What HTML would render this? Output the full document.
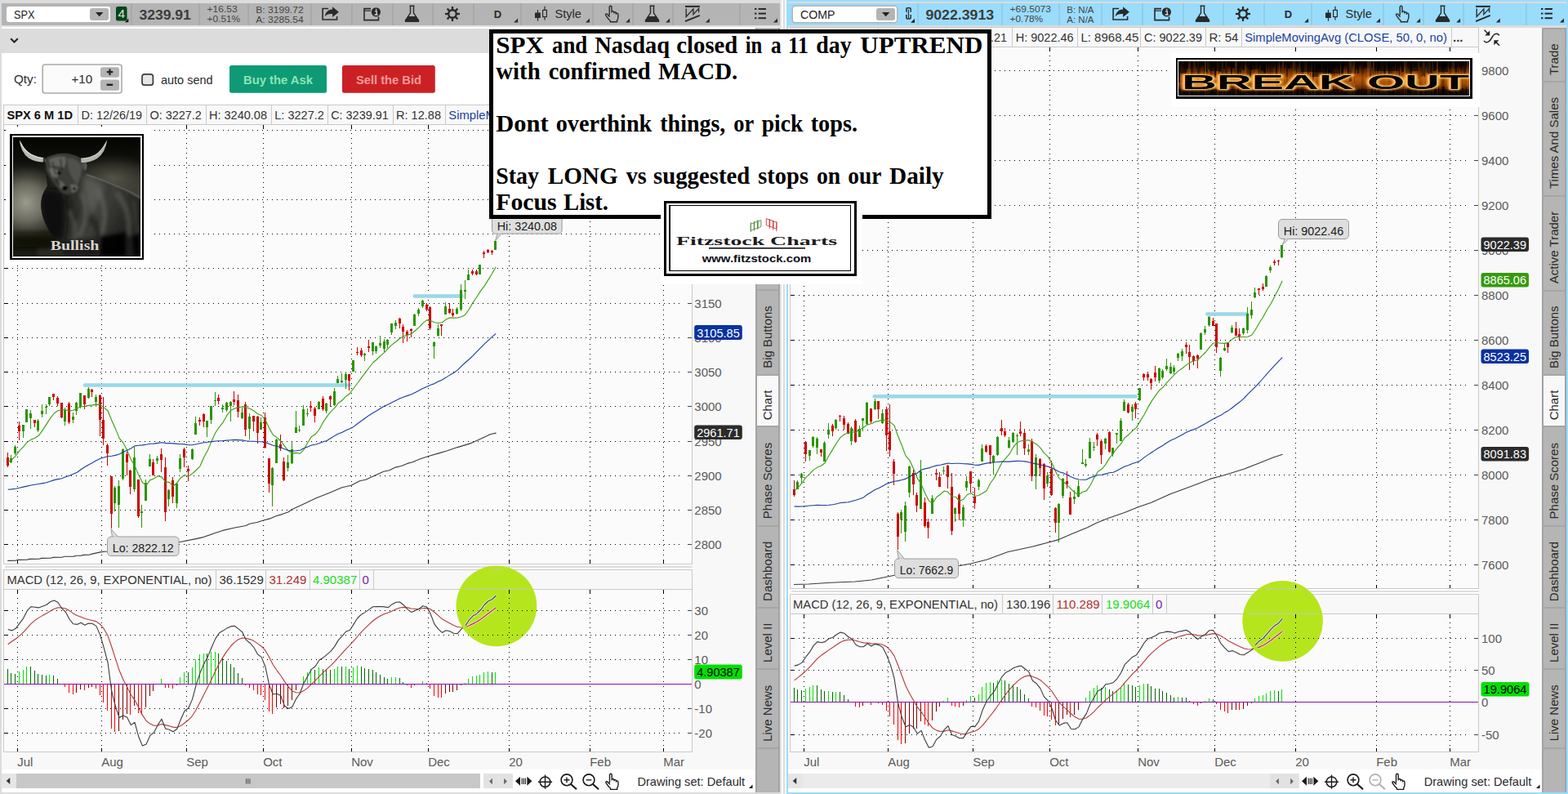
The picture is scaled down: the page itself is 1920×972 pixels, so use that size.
<!DOCTYPE html>
<html><head><meta charset="utf-8"><title>Charts</title>
<style>
html,body{margin:0;padding:0;background:#fff;overflow:hidden}
body{width:1920px;height:972px;position:relative;font-family:"Liberation Sans",sans-serif}
svg{position:absolute;left:0;top:0;display:block}
svg text{font-family:"Liberation Sans",sans-serif;white-space:pre}
.c{shape-rendering:crispEdges}
svg text.sf{font-family:"Liberation Serif",serif}
</style></head><body>
<svg width="1920" height="972" viewBox="0 0 1920 972">
<g class="c">
<rect x="0" y="0" width="1920" height="972" fill="#ffffff" />
<rect x="0" y="0" width="957" height="4" fill="#dcdcdc" />
<rect x="0" y="0" width="2" height="972" fill="#dcdcdc" />
<rect x="0" y="970" width="957" height="2" fill="#dcdcdc" />
<rect x="2" y="4" width="953" height="27" fill="#b4b4b4" />
<rect x="2" y="35" width="953" height="30" fill="#dcdcdc" />
<rect x="955" y="0" width="2" height="972" fill="#e2e2e2" />
<rect x="957" y="0" width="2" height="972" fill="#ffffff" />
<rect x="959" y="0" width="2" height="972" fill="#dcdcdc" />
<rect x="961" y="0" width="2" height="972" fill="#ffffff" />
<rect x="963" y="0" width="957" height="972" fill="#ffffff" />
<rect x="963" y="0" width="957" height="4" fill="#9adcfc" />
<rect x="963" y="2" width="957" height="2" fill="#dcdbd9" />
<rect x="963" y="4" width="955" height="27" fill="#9adcfc" />
<rect x="963" y="31" width="955" height="3" fill="#dedcda" />
<rect x="963" y="0" width="2" height="972" fill="#9adcfc" />
<rect x="1918" y="0" width="2" height="972" fill="#9adcfc" />
<rect x="963" y="970" width="957" height="2" fill="#9adcfc" />
</g>
<g class="c">
<rect x="160" y="4" width="2" height="27" fill="#a9a9a9" />
<rect x="243" y="4" width="2" height="27" fill="#a9a9a9" />
<rect x="303" y="4" width="2" height="27" fill="#a9a9a9" />
<rect x="380" y="4" width="2" height="27" fill="#a9a9a9" />
<rect x="430" y="4" width="2" height="27" fill="#a9a9a9" />
<rect x="480" y="4" width="2" height="27" fill="#a9a9a9" />
<rect x="529" y="4" width="2" height="27" fill="#a9a9a9" />
<rect x="579" y="4" width="2" height="27" fill="#a9a9a9" />
<rect x="637" y="4" width="2" height="27" fill="#a9a9a9" />
<rect x="725" y="4" width="2" height="27" fill="#a9a9a9" />
<rect x="774" y="4" width="2" height="27" fill="#a9a9a9" />
<rect x="823" y="4" width="2" height="27" fill="#a9a9a9" />
<rect x="905" y="4" width="2" height="27" fill="#a9a9a9" />
</g>
<rect x="7.25" y="7.2" width="128.5" height="20.5" rx="3.5" fill="#ffffff" stroke="#b4b4b4" stroke-width="1.5"/>
<rect x="110" y="10" width="23" height="15" rx="3" fill="#b4b4b4"/>
<path d="M117 15h9.4l-4.7 5.2Z" fill="#222"/>
<text x="17" y="22.6" font-size="14.2" fill="#222" textLength="25.5" lengthAdjust="spacingAndGlyphs">SPX</text>
<rect x="142" y="8" width="13.5" height="17.5" rx="2" fill="#00461a"/>
<text x="148.7" y="22.3" font-size="15.5" fill="#d4e6d4" text-anchor="middle">4</text>
<path d="M157.3 22.7L157.3 27.2L152.8 27.2Z" fill="#111"/>
<text x="170.4" y="24" font-size="17.3" font-weight="bold" fill="#3c3c3c" textLength="63.5" lengthAdjust="spacingAndGlyphs">3239.91</text>
<text x="253.6" y="15.4" font-size="10.8" fill="#444" textLength="37" lengthAdjust="spacingAndGlyphs">+16.53</text>
<text x="253.6" y="27.3" font-size="10.8" fill="#444" textLength="40.5" lengthAdjust="spacingAndGlyphs">+0.51%</text>
<text x="313.3" y="15.5" font-size="10.8" fill="#444" textLength="58.3" lengthAdjust="spacingAndGlyphs">B: 3199.72</text>
<text x="313.3" y="27.5" font-size="10.8" fill="#444" textLength="58.3" lengthAdjust="spacingAndGlyphs">A: 3285.54</text>
<path d="M402.1 10.5H395.1V24.0H412.6V20.0" fill="none" stroke="#2a2a2a" stroke-width="1.6"/>
<path d="M397.6 20.0C398.6 14.0 403.1 11.5 407.1 11.5V8.3L414.90000000000003 14.8L407.1 21.0V17.0C403.1 16.5 400.1 17.5 397.6 20.0Z" fill="#2a2a2a"/>
<path d="M454 10.6H446V24.6H463.5V20.6" fill="none" stroke="#2a2a2a" stroke-width="1.6"/>
<path d="M446 13.2H454" stroke="#2a2a2a" stroke-width="1.2"/>
<circle cx="460.4" cy="14.8" r="5.6" fill="#2a2a2a"/>
<path d="M459 13.8H461.3V17.6M458.6 18.0H462.6" stroke="#d8d8d8" stroke-width="1.3" fill="none"/>
<circle cx="460.7" cy="11.799999999999999" r="0.9" fill="#d8d8d8"/>
<path d="M501.5 7.2H507.5M502.5 7.9V15.9L496.5 24.9Q495.9 26.4 497.5 26.4H511.5Q513.1 26.4 512.5 24.9L506.5 15.9V7.9" fill="none" stroke="#2a2a2a" stroke-width="1.4" stroke-linejoin="round"/>
<path d="M499.9 20.0H509.1L512.5 25.0Q512.9 26.6 511.5 26.6H497.5Q496.1 26.6 496.5 25.0Z" fill="#2a2a2a"/>
<g stroke="#2a2a2a" stroke-width="2.3" stroke-linecap="butt">
<line x1="558.50" y1="17.00" x2="563.00" y2="17.00"/>
<line x1="557.18" y1="20.18" x2="560.36" y2="23.36"/>
<line x1="554.00" y1="21.50" x2="554.00" y2="26.00"/>
<line x1="550.82" y1="20.18" x2="547.64" y2="23.36"/>
<line x1="549.50" y1="17.00" x2="545.00" y2="17.00"/>
<line x1="550.82" y1="13.82" x2="547.64" y2="10.64"/>
<line x1="554.00" y1="12.50" x2="554.00" y2="8.00"/>
<line x1="557.18" y1="13.82" x2="560.36" y2="10.64"/>
</g>
<circle cx="554" cy="17" r="4.8" fill="none" stroke="#2a2a2a" stroke-width="2.4"/>
<text x="604.7" y="21.6" font-size="13" font-weight="bold" fill="#2a2a2a">D</text>
<path d="M634.1 22.6L634.1 27.6L629.1 27.6Z" fill="#2a2a2a"/>
<rect x="655" y="15.5" width="6.8" height="6.5" fill="#2a2a2a"/>
<rect x="657.9" y="12" width="1.2" height="13.7" fill="#2a2a2a"/>
<rect x="664.6" y="12.4" width="4.8" height="8.2" fill="none" stroke="#2a2a2a" stroke-width="1.2"/>
<rect x="666.4" y="7.8" width="1.2" height="4.4" fill="#2a2a2a"/>
<rect x="666.4" y="20.8" width="1.2" height="3.8" fill="#2a2a2a"/>
<text x="679.5" y="22" font-size="14.6" fill="#2a2a2a">Style</text>
<path d="M722 22.6L722 27.6L717 27.6Z" fill="#2a2a2a"/>
<path transform="translate(740.6 6.6) scale(1.0)" d="M5.6 11.5V2.2Q5.6 0.7 7 0.7Q8.4 0.7 8.4 2.2V8.2 M8.4 8.4Q8.4 7 9.8 7Q11.2 7 11.2 8.6V9.4 M11.2 9.4Q11.2 8.2 12.5 8.2Q13.8 8.2 13.8 9.8V10.6 M13.8 10.6Q13.8 9.5 15 9.5Q16.3 9.5 16.3 11.2V14.5Q16.3 17 15 18.2V20.2H6.6V18.6Q4.5 17 2.6 14.2Q1 12 0.9 11.4Q0.8 10.3 2 10.3Q3.2 10.3 4.4 12.2L5.6 13.6" fill="none" stroke="#2a2a2a" stroke-width="1.4" stroke-linejoin="round" stroke-linecap="round"/>
<path d="M771.1 22.6L771.1 27.6L766.1 27.6Z" fill="#2a2a2a"/>
<path d="M795.5 7.2H801.5M796.5 7.9V15.9L790.5 24.9Q789.9 26.4 791.5 26.4H805.5Q807.1 26.4 806.5 24.9L800.5 15.9V7.9" fill="none" stroke="#2a2a2a" stroke-width="1.4" stroke-linejoin="round"/>
<path d="M793.9 20.0H803.1L806.5 25.0Q806.9 26.6 805.5 26.6H791.5Q790.1 26.6 790.5 25.0Z" fill="#2a2a2a"/>
<path d="M820.1 22.6L820.1 27.6L815.1 27.6Z" fill="#2a2a2a"/>
<path d="M839.0 7.9H856.8000000000001" stroke="#2a2a2a" stroke-width="2"/>
<path d="M840.2 10.4V20.4L848.9 10.9V17.6L855.6 10.4V15.2" fill="none" stroke="#2a2a2a" stroke-width="1.35" stroke-linejoin="miter"/>
<path d="M839.0 26.2L856.8000000000001 18.8" stroke="#2a2a2a" stroke-width="2"/>
<path d="M868.8 22.6L868.8 27.6L863.8 27.6Z" fill="#2a2a2a"/>
<rect x="924" y="10.0" width="2.4" height="2" fill="#2a2a2a"/>
<rect x="928.6" y="10.0" width="9.4" height="2" fill="#2a2a2a"/>
<rect x="924" y="15.600000000000001" width="2.4" height="2" fill="#2a2a2a"/>
<rect x="928.6" y="15.600000000000001" width="9.4" height="2" fill="#2a2a2a"/>
<rect x="924" y="21.2" width="2.4" height="2" fill="#2a2a2a"/>
<rect x="928.6" y="21.2" width="9.4" height="2" fill="#2a2a2a"/>
<path d="M952 22.5L952 27.5L947 27.5Z" fill="#2a2a2a"/>
<g class="c">
<rect x="1123" y="4" width="2" height="27" fill="#8fcdea" />
<rect x="1226" y="4" width="2" height="27" fill="#8fcdea" />
<rect x="1296" y="4" width="2" height="27" fill="#8fcdea" />
<rect x="1348" y="4" width="2" height="27" fill="#8fcdea" />
<rect x="1398" y="4" width="2" height="27" fill="#8fcdea" />
<rect x="1448" y="4" width="2" height="27" fill="#8fcdea" />
<rect x="1497" y="4" width="2" height="27" fill="#8fcdea" />
<rect x="1547" y="4" width="2" height="27" fill="#8fcdea" />
<rect x="1605" y="4" width="2" height="27" fill="#8fcdea" />
<rect x="1693" y="4" width="2" height="27" fill="#8fcdea" />
<rect x="1742" y="4" width="2" height="27" fill="#8fcdea" />
<rect x="1791" y="4" width="2" height="27" fill="#8fcdea" />
<rect x="1868" y="4" width="2" height="27" fill="#8fcdea" />
</g>
<rect x="970.25" y="7.2" width="128.5" height="20.5" rx="3.5" fill="#ffffff" stroke="#b4b4b4" stroke-width="1.5"/>
<rect x="1073" y="10" width="23" height="15" rx="3" fill="#b4b4b4"/>
<path d="M1080 15h9.4l-4.7 5.2Z" fill="#222"/>
<text x="980" y="22.6" font-size="14.2" fill="#222" textLength="42.5" lengthAdjust="spacingAndGlyphs">COMP</text>
<rect x="1110.4" y="10.4" width="2" height="12.2" fill="#7fb9d6" opacity="0.8"/>
<path d="M1109.9 14.8V11Q1109.9 9.8 1111.1 9.8H1114Q1115.2 9.8 1115.2 11V14.8M1109.9 18.1V21.8Q1109.9 23 1111.1 23H1114Q1115.2 23 1115.2 21.8V18.1" fill="none" stroke="#2a2a2a" stroke-width="1.45"/>
<path d="M1112.55 11.9V21.9" stroke="#2a2a2a" stroke-width="1"/>
<path d="M1120 23.0L1120 27.8L1115.2 27.8Z" fill="#111"/>
<text x="1133.4" y="24" font-size="17.3" font-weight="bold" fill="#3c3c3c" textLength="83.8" lengthAdjust="spacingAndGlyphs">9022.3913</text>
<text x="1236.6" y="15.4" font-size="10.8" fill="#444" textLength="50.3" lengthAdjust="spacingAndGlyphs">+69.5073</text>
<text x="1236.6" y="27.3" font-size="10.8" fill="#444" textLength="40.5" lengthAdjust="spacingAndGlyphs">+0.78%</text>
<text x="1306.3" y="15.5" font-size="10.8" fill="#444" textLength="33.2" lengthAdjust="spacingAndGlyphs">B: N/A</text>
<text x="1306.3" y="27.5" font-size="10.8" fill="#444" textLength="33.2" lengthAdjust="spacingAndGlyphs">A: N/A</text>
<path d="M1370.1 10.5H1363.1V24.0H1380.6V20.0" fill="none" stroke="#2a2a2a" stroke-width="1.6"/>
<path d="M1365.6 20.0C1366.6 14.0 1371.1 11.5 1375.1 11.5V8.3L1382.8999999999999 14.8L1375.1 21.0V17.0C1371.1 16.5 1368.1 17.5 1365.6 20.0Z" fill="#2a2a2a"/>
<path d="M1422 10.6H1414V24.6H1431.5V20.6" fill="none" stroke="#2a2a2a" stroke-width="1.6"/>
<path d="M1414 13.2H1422" stroke="#2a2a2a" stroke-width="1.2"/>
<circle cx="1428.4" cy="14.8" r="5.6" fill="#2a2a2a"/>
<path d="M1427 13.8H1429.3V17.6M1426.6 18.0H1430.6" stroke="#d8d8d8" stroke-width="1.3" fill="none"/>
<circle cx="1428.7" cy="11.799999999999999" r="0.9" fill="#d8d8d8"/>
<path d="M1469.5 7.2H1475.5M1470.5 7.9V15.9L1464.5 24.9Q1463.9 26.4 1465.5 26.4H1479.5Q1481.1 26.4 1480.5 24.9L1474.5 15.9V7.9" fill="none" stroke="#2a2a2a" stroke-width="1.4" stroke-linejoin="round"/>
<path d="M1467.9 20.0H1477.1L1480.5 25.0Q1480.9 26.6 1479.5 26.6H1465.5Q1464.1 26.6 1464.5 25.0Z" fill="#2a2a2a"/>
<g stroke="#2a2a2a" stroke-width="2.3" stroke-linecap="butt">
<line x1="1526.50" y1="17.00" x2="1531.00" y2="17.00"/>
<line x1="1525.18" y1="20.18" x2="1528.36" y2="23.36"/>
<line x1="1522.00" y1="21.50" x2="1522.00" y2="26.00"/>
<line x1="1518.82" y1="20.18" x2="1515.64" y2="23.36"/>
<line x1="1517.50" y1="17.00" x2="1513.00" y2="17.00"/>
<line x1="1518.82" y1="13.82" x2="1515.64" y2="10.64"/>
<line x1="1522.00" y1="12.50" x2="1522.00" y2="8.00"/>
<line x1="1525.18" y1="13.82" x2="1528.36" y2="10.64"/>
</g>
<circle cx="1522" cy="17" r="4.8" fill="none" stroke="#2a2a2a" stroke-width="2.4"/>
<text x="1572.7" y="21.6" font-size="13" font-weight="bold" fill="#2a2a2a">D</text>
<path d="M1602.1 22.6L1602.1 27.6L1597.1 27.6Z" fill="#2a2a2a"/>
<rect x="1623" y="15.5" width="6.8" height="6.5" fill="#2a2a2a"/>
<rect x="1625.9" y="12" width="1.2" height="13.7" fill="#2a2a2a"/>
<rect x="1632.6" y="12.4" width="4.8" height="8.2" fill="none" stroke="#2a2a2a" stroke-width="1.2"/>
<rect x="1634.4" y="7.8" width="1.2" height="4.4" fill="#2a2a2a"/>
<rect x="1634.4" y="20.8" width="1.2" height="3.8" fill="#2a2a2a"/>
<text x="1647.5" y="22" font-size="14.6" fill="#2a2a2a">Style</text>
<path d="M1690 22.6L1690 27.6L1685 27.6Z" fill="#2a2a2a"/>
<path transform="translate(1708.6 6.6) scale(1.0)" d="M5.6 11.5V2.2Q5.6 0.7 7 0.7Q8.4 0.7 8.4 2.2V8.2 M8.4 8.4Q8.4 7 9.8 7Q11.2 7 11.2 8.6V9.4 M11.2 9.4Q11.2 8.2 12.5 8.2Q13.8 8.2 13.8 9.8V10.6 M13.8 10.6Q13.8 9.5 15 9.5Q16.3 9.5 16.3 11.2V14.5Q16.3 17 15 18.2V20.2H6.6V18.6Q4.5 17 2.6 14.2Q1 12 0.9 11.4Q0.8 10.3 2 10.3Q3.2 10.3 4.4 12.2L5.6 13.6" fill="none" stroke="#2a2a2a" stroke-width="1.4" stroke-linejoin="round" stroke-linecap="round"/>
<path d="M1739.1 22.6L1739.1 27.6L1734.1 27.6Z" fill="#2a2a2a"/>
<path d="M1763.5 7.2H1769.5M1764.5 7.9V15.9L1758.5 24.9Q1757.9 26.4 1759.5 26.4H1773.5Q1775.1 26.4 1774.5 24.9L1768.5 15.9V7.9" fill="none" stroke="#2a2a2a" stroke-width="1.4" stroke-linejoin="round"/>
<path d="M1761.9 20.0H1771.1L1774.5 25.0Q1774.9 26.6 1773.5 26.6H1759.5Q1758.1 26.6 1758.5 25.0Z" fill="#2a2a2a"/>
<path d="M1788.1 22.6L1788.1 27.6L1783.1 27.6Z" fill="#2a2a2a"/>
<path d="M1807.0 7.9H1824.8" stroke="#2a2a2a" stroke-width="2"/>
<path d="M1808.1999999999998 10.4V20.4L1816.8999999999999 10.9V17.6L1823.6 10.4V15.2" fill="none" stroke="#2a2a2a" stroke-width="1.35" stroke-linejoin="miter"/>
<path d="M1807.0 26.2L1824.8 18.8" stroke="#2a2a2a" stroke-width="2"/>
<path d="M1836.8 22.6L1836.8 27.6L1831.8 27.6Z" fill="#2a2a2a"/>
<rect x="1887" y="10.0" width="2.4" height="2" fill="#2a2a2a"/>
<rect x="1891.6" y="10.0" width="9.4" height="2" fill="#2a2a2a"/>
<rect x="1887" y="15.600000000000001" width="2.4" height="2" fill="#2a2a2a"/>
<rect x="1891.6" y="15.600000000000001" width="9.4" height="2" fill="#2a2a2a"/>
<rect x="1887" y="21.2" width="2.4" height="2" fill="#2a2a2a"/>
<rect x="1891.6" y="21.2" width="9.4" height="2" fill="#2a2a2a"/>
<path d="M1915 22.5L1915 27.5L1910 27.5Z" fill="#2a2a2a"/>
<g class="c">
<rect x="2" y="31" width="953" height="2" fill="#dedede" />
</g>
<path d="M13.2 47.2L17.5 51.5L21.8 47.2" fill="none" stroke="#222" stroke-width="2"/>
<text x="17" y="101.8" font-size="15.2" fill="#2a2a2a" >Qty:</text>
<rect x="52.2" y="79" width="96.8" height="35" rx="3" fill="#fbfbfb" stroke="#ababab" stroke-width="1.6"/>
<rect x="123" y="82.2" width="23" height="12.6" rx="2.5" fill="#b4b4b4"/>
<rect x="123" y="97.6" width="23" height="13.2" rx="2.5" fill="#b4b4b4"/>
<path d="M130.8 88.2h7.4M134.5 84.6v7.4" stroke="#222" stroke-width="2.2"/>
<path d="M130.6 103.8h7.6" stroke="#222" stroke-width="2.4"/>
<text x="113.2" y="102" font-size="15.2" fill="#2a2a2a" text-anchor="end" >+10</text>
<rect x="174" y="90.8" width="13.4" height="13.4" rx="3" fill="#e6e6e6" stroke="#3c3c3c" stroke-width="1.7"/>
<text x="197" y="102.6" font-size="15" fill="#2a2a2a" textLength="63.5" lengthAdjust="spacingAndGlyphs">auto send</text>
<rect x="281" y="80" width="119" height="33.8" rx="2.5" fill="#0d9a74"/>
<text x="340.5" y="102.6" font-size="15" fill="#8fe3b4" font-weight="bold" text-anchor="middle" textLength="85" lengthAdjust="spacingAndGlyphs">Buy the Ask</text>
<rect x="419" y="80" width="113.8" height="33.8" rx="2.5" fill="#cb2124"/>
<text x="476" y="102.6" font-size="15" fill="#f59a9a" font-weight="bold" text-anchor="middle" textLength="80" lengthAdjust="spacingAndGlyphs">Sell the Bid</text>
<g class="c">
<rect x="4" y="128" width="844" height="25" fill="#c9c9c9" />
<rect x="5" y="129" width="842" height="23" fill="#f8f8f8" />
<rect x="95" y="128" width="1" height="25" fill="#c9c9c9" />
<rect x="179" y="128" width="1" height="25" fill="#c9c9c9" />
<rect x="252" y="128" width="1" height="25" fill="#c9c9c9" />
<rect x="332" y="128" width="1" height="25" fill="#c9c9c9" />
<rect x="401" y="128" width="1" height="25" fill="#c9c9c9" />
<rect x="481" y="128" width="1" height="25" fill="#c9c9c9" />
<rect x="545" y="128" width="1" height="25" fill="#c9c9c9" />
</g>
<text x="8.5" y="146" font-size="15" fill="#111" font-weight="bold" textLength="80.5" lengthAdjust="spacingAndGlyphs">SPX 6 M 1D</text>
<text x="99.5" y="146" font-size="15" fill="#333333" textLength="74.5" lengthAdjust="spacingAndGlyphs">D: 12/26/19</text>
<text x="183.4" y="146" font-size="15" fill="#333333" textLength="63.5" lengthAdjust="spacingAndGlyphs">O: 3227.2</text>
<text x="256" y="146" font-size="15" fill="#333333" textLength="71" lengthAdjust="spacingAndGlyphs">H: 3240.08</text>
<text x="336.3" y="146" font-size="15" fill="#333333" textLength="60.5" lengthAdjust="spacingAndGlyphs">L: 3227.2</text>
<text x="405.2" y="146" font-size="15" fill="#333333" textLength="70.5" lengthAdjust="spacingAndGlyphs">C: 3239.91</text>
<text x="485" y="146" font-size="15" fill="#333333" textLength="55" lengthAdjust="spacingAndGlyphs">R: 12.88</text>
<text x="549.3" y="146" font-size="15" fill="#1a3fa2" textLength="247.7" lengthAdjust="spacingAndGlyphs">SimpleMovingAvg (CLOSE, 50, 0, no)</text>
<g class="c">
<rect x="967" y="33" width="844" height="25" fill="#c9c9c9" />
<rect x="968" y="34" width="842" height="23" fill="#f8f8f8" />
<rect x="1075" y="33" width="1" height="25" fill="#c9c9c9" />
<rect x="1158" y="33" width="1" height="25" fill="#c9c9c9" />
<rect x="1239" y="33" width="1" height="25" fill="#c9c9c9" />
<rect x="1319" y="33" width="1" height="25" fill="#c9c9c9" />
<rect x="1396" y="33" width="1" height="25" fill="#c9c9c9" />
<rect x="1476" y="33" width="1" height="25" fill="#c9c9c9" />
<rect x="1520" y="33" width="1" height="25" fill="#c9c9c9" />
<rect x="1777" y="33" width="1" height="25" fill="#c9c9c9" />
</g>
<text x="970.5" y="50.7" font-size="15" fill="#111" font-weight="bold" >COMP 6 M 1D</text>
<text x="1079" y="50.7" font-size="15" fill="#333333" textLength="74.5" lengthAdjust="spacingAndGlyphs">D: 12/26/19</text>
<text x="1162" y="50.7" font-size="15" fill="#333333" textLength="71" lengthAdjust="spacingAndGlyphs">O: 8970.21</text>
<text x="1243.7" y="50.7" font-size="15" fill="#333333" textLength="71" lengthAdjust="spacingAndGlyphs">H: 9022.46</text>
<text x="1323.4" y="50.7" font-size="15" fill="#333333" textLength="71" lengthAdjust="spacingAndGlyphs">L: 8968.45</text>
<text x="1401" y="50.7" font-size="15" fill="#333333" textLength="71" lengthAdjust="spacingAndGlyphs">C: 9022.39</text>
<text x="1480.4" y="50.7" font-size="15" fill="#333333" textLength="36" lengthAdjust="spacingAndGlyphs">R: 54</text>
<text x="1524.2" y="50.7" font-size="15" fill="#1a3fa2" textLength="247.7" lengthAdjust="spacingAndGlyphs">SimpleMovingAvg (CLOSE, 50, 0, no)</text>
<text x="1779" y="50.7" font-size="15" fill="#333333" font-weight="bold" >...</text>
<g class="c">
<rect x="4" y="697" width="844" height="25" fill="#c9c9c9" />
<rect x="5" y="698" width="842" height="23" fill="#f8f8f8" />
<rect x="264" y="697" width="1" height="25" fill="#c9c9c9" />
<rect x="325" y="697" width="1" height="25" fill="#c9c9c9" />
<rect x="379" y="697" width="1" height="25" fill="#c9c9c9" />
<rect x="440" y="697" width="1" height="25" fill="#c9c9c9" />
<rect x="457" y="697" width="1" height="25" fill="#c9c9c9" />
</g>
<text x="8.5" y="715" font-size="15" fill="#333333" textLength="251" lengthAdjust="spacingAndGlyphs">MACD (12, 26, 9, EXPONENTIAL, no)</text>
<text x="268.5" y="715" font-size="15" fill="#333333" >36.1529</text>
<text x="329.5" y="715" font-size="15" fill="#b03030" >31.249</text>
<text x="383" y="715" font-size="15" fill="#18e018" >4.90387</text>
<text x="443.5" y="715" font-size="15" fill="#7a18b0" >0</text>
<g class="c">
<rect x="967" y="727" width="844" height="25" fill="#c9c9c9" />
<rect x="968" y="728" width="842" height="23" fill="#f8f8f8" />
<rect x="1227" y="727" width="1" height="25" fill="#c9c9c9" />
<rect x="1289" y="727" width="1" height="25" fill="#c9c9c9" />
<rect x="1349" y="727" width="1" height="25" fill="#c9c9c9" />
<rect x="1411" y="727" width="1" height="25" fill="#c9c9c9" />
<rect x="1428" y="727" width="1" height="25" fill="#c9c9c9" />
</g>
<text x="971" y="745" font-size="15" fill="#333333" textLength="251" lengthAdjust="spacingAndGlyphs">MACD (12, 26, 9, EXPONENTIAL, no)</text>
<text x="1232" y="745" font-size="15" fill="#333333" >130.196</text>
<text x="1293.5" y="745" font-size="15" fill="#b03030" >110.289</text>
<text x="1354" y="745" font-size="15" fill="#18e018" >19.9064</text>
<text x="1415" y="745" font-size="15" fill="#7a18b0" >0</text>
<g class="c">
<rect x="2" y="920" width="923" height="22" fill="#f8f8f8" />
<rect x="965" y="920" width="923" height="22" fill="#f8f8f8" />
<rect x="848" y="128" width="77" height="800" fill="#f8f8f8" />
<rect x="1811" y="34" width="77" height="890" fill="#f8f8f8" />
</g>
<g class="c">
<rect x="4" y="152" width="921" height="539" fill="#f8f8f8" />
<rect x="4" y="152" width="844" height="539" fill="#c9c9c9" />
<rect x="5" y="153" width="842" height="537" fill="#fbfbfb" />
</g>
<g class="c" stroke="#000" stroke-width="1" stroke-dasharray="1 5">
<line x1="9" y1="159.5" x2="835" y2="159.5"/>
<line x1="9" y1="202.5" x2="835" y2="202.5"/>
<line x1="9" y1="244.5" x2="835" y2="244.5"/>
<line x1="9" y1="286.5" x2="835" y2="286.5"/>
<line x1="9" y1="328.5" x2="835" y2="328.5"/>
<line x1="9" y1="371.5" x2="835" y2="371.5"/>
<line x1="9" y1="413.5" x2="835" y2="413.5"/>
<line x1="9" y1="455.5" x2="835" y2="455.5"/>
<line x1="9" y1="497.5" x2="835" y2="497.5"/>
<line x1="9" y1="540.5" x2="835" y2="540.5"/>
<line x1="9" y1="582.5" x2="835" y2="582.5"/>
<line x1="9" y1="624.5" x2="835" y2="624.5"/>
<line x1="9" y1="666.5" x2="835" y2="666.5"/>
<line x1="21.5" y1="157" x2="21.5" y2="689"/>
<line x1="124.5" y1="157" x2="124.5" y2="689"/>
<line x1="228.5" y1="157" x2="228.5" y2="689"/>
<line x1="322.5" y1="157" x2="322.5" y2="689"/>
<line x1="430.5" y1="157" x2="430.5" y2="689"/>
<line x1="524.5" y1="157" x2="524.5" y2="689"/>
<line x1="623.5" y1="157" x2="623.5" y2="689"/>
<line x1="722.5" y1="157" x2="722.5" y2="689"/>
<line x1="812.5" y1="157" x2="812.5" y2="689"/>
</g>
<g class="c">
<rect x="5" y="159" width="5" height="1" fill="#000" />
<rect x="842" y="159" width="5" height="1" fill="#444" />
<rect x="5" y="202" width="5" height="1" fill="#000" />
<rect x="842" y="202" width="5" height="1" fill="#444" />
<rect x="5" y="244" width="5" height="1" fill="#000" />
<rect x="842" y="244" width="5" height="1" fill="#444" />
<rect x="5" y="286" width="5" height="1" fill="#000" />
<rect x="842" y="286" width="5" height="1" fill="#444" />
<rect x="5" y="328" width="5" height="1" fill="#000" />
<rect x="842" y="328" width="5" height="1" fill="#444" />
<rect x="5" y="371" width="5" height="1" fill="#000" />
<rect x="842" y="371" width="5" height="1" fill="#444" />
<rect x="5" y="413" width="5" height="1" fill="#000" />
<rect x="842" y="413" width="5" height="1" fill="#444" />
<rect x="5" y="455" width="5" height="1" fill="#000" />
<rect x="842" y="455" width="5" height="1" fill="#444" />
<rect x="5" y="497" width="5" height="1" fill="#000" />
<rect x="842" y="497" width="5" height="1" fill="#444" />
<rect x="5" y="540" width="5" height="1" fill="#000" />
<rect x="842" y="540" width="5" height="1" fill="#444" />
<rect x="5" y="582" width="5" height="1" fill="#000" />
<rect x="842" y="582" width="5" height="1" fill="#444" />
<rect x="5" y="624" width="5" height="1" fill="#000" />
<rect x="842" y="624" width="5" height="1" fill="#444" />
<rect x="5" y="666" width="5" height="1" fill="#000" />
<rect x="842" y="666" width="5" height="1" fill="#444" />
<rect x="21" y="153" width="1" height="4" fill="#000" />
<rect x="21" y="686" width="1" height="4" fill="#000" />
<rect x="124" y="153" width="1" height="4" fill="#000" />
<rect x="124" y="686" width="1" height="4" fill="#000" />
<rect x="228" y="153" width="1" height="4" fill="#000" />
<rect x="228" y="686" width="1" height="4" fill="#000" />
<rect x="322" y="153" width="1" height="4" fill="#000" />
<rect x="322" y="686" width="1" height="4" fill="#000" />
<rect x="430" y="153" width="1" height="4" fill="#000" />
<rect x="430" y="686" width="1" height="4" fill="#000" />
<rect x="524" y="153" width="1" height="4" fill="#000" />
<rect x="524" y="686" width="1" height="4" fill="#000" />
<rect x="623" y="153" width="1" height="4" fill="#000" />
<rect x="623" y="686" width="1" height="4" fill="#000" />
<rect x="722" y="153" width="1" height="4" fill="#000" />
<rect x="722" y="686" width="1" height="4" fill="#000" />
<rect x="812" y="153" width="1" height="4" fill="#000" />
<rect x="812" y="686" width="1" height="4" fill="#000" />
</g>
<g class="c">
<rect x="4" y="721" width="921" height="200" fill="#f8f8f8" />
<rect x="4" y="721" width="844" height="200" fill="#c9c9c9" />
<rect x="5" y="722" width="842" height="198" fill="#fbfbfb" />
</g>
<g class="c" stroke="#000" stroke-width="1" stroke-dasharray="1 5">
<line x1="9" y1="747.5" x2="835" y2="747.5"/>
<line x1="9" y1="777.5" x2="835" y2="777.5"/>
<line x1="9" y1="807.5" x2="835" y2="807.5"/>
<line x1="9" y1="867.5" x2="835" y2="867.5"/>
<line x1="9" y1="897.5" x2="835" y2="897.5"/>
<line x1="21.5" y1="726" x2="21.5" y2="919"/>
<line x1="124.5" y1="726" x2="124.5" y2="919"/>
<line x1="228.5" y1="726" x2="228.5" y2="919"/>
<line x1="322.5" y1="726" x2="322.5" y2="919"/>
<line x1="430.5" y1="726" x2="430.5" y2="919"/>
<line x1="524.5" y1="726" x2="524.5" y2="919"/>
<line x1="623.5" y1="726" x2="623.5" y2="919"/>
<line x1="722.5" y1="726" x2="722.5" y2="919"/>
<line x1="812.5" y1="726" x2="812.5" y2="919"/>
</g>
<g class="c">
<rect x="5" y="747" width="5" height="1" fill="#000" />
<rect x="842" y="747" width="5" height="1" fill="#444" />
<rect x="5" y="777" width="5" height="1" fill="#000" />
<rect x="842" y="777" width="5" height="1" fill="#444" />
<rect x="5" y="807" width="5" height="1" fill="#000" />
<rect x="842" y="807" width="5" height="1" fill="#444" />
<rect x="5" y="867" width="5" height="1" fill="#000" />
<rect x="842" y="867" width="5" height="1" fill="#444" />
<rect x="5" y="897" width="5" height="1" fill="#000" />
<rect x="842" y="897" width="5" height="1" fill="#444" />
<rect x="21" y="722" width="1" height="4" fill="#000" />
<rect x="21" y="916" width="1" height="4" fill="#000" />
<rect x="124" y="722" width="1" height="4" fill="#000" />
<rect x="124" y="916" width="1" height="4" fill="#000" />
<rect x="228" y="722" width="1" height="4" fill="#000" />
<rect x="228" y="916" width="1" height="4" fill="#000" />
<rect x="322" y="722" width="1" height="4" fill="#000" />
<rect x="322" y="916" width="1" height="4" fill="#000" />
<rect x="430" y="722" width="1" height="4" fill="#000" />
<rect x="430" y="916" width="1" height="4" fill="#000" />
<rect x="524" y="722" width="1" height="4" fill="#000" />
<rect x="524" y="916" width="1" height="4" fill="#000" />
<rect x="623" y="722" width="1" height="4" fill="#000" />
<rect x="623" y="916" width="1" height="4" fill="#000" />
<rect x="722" y="722" width="1" height="4" fill="#000" />
<rect x="722" y="916" width="1" height="4" fill="#000" />
<rect x="812" y="722" width="1" height="4" fill="#000" />
<rect x="812" y="916" width="1" height="4" fill="#000" />
</g>
<g class="c">
<rect x="967" y="57" width="921" height="664" fill="#f8f8f8" />
<rect x="967" y="57" width="844" height="664" fill="#c9c9c9" />
<rect x="968" y="58" width="842" height="662" fill="#fbfbfb" />
</g>
<g class="c" stroke="#000" stroke-width="1" stroke-dasharray="1 5">
<line x1="972" y1="86.5" x2="1798" y2="86.5"/>
<line x1="972" y1="141.5" x2="1798" y2="141.5"/>
<line x1="972" y1="196.5" x2="1798" y2="196.5"/>
<line x1="972" y1="251.5" x2="1798" y2="251.5"/>
<line x1="972" y1="306.5" x2="1798" y2="306.5"/>
<line x1="972" y1="361.5" x2="1798" y2="361.5"/>
<line x1="972" y1="416.5" x2="1798" y2="416.5"/>
<line x1="972" y1="471.5" x2="1798" y2="471.5"/>
<line x1="972" y1="526.5" x2="1798" y2="526.5"/>
<line x1="972" y1="581.5" x2="1798" y2="581.5"/>
<line x1="972" y1="636.5" x2="1798" y2="636.5"/>
<line x1="972" y1="691.5" x2="1798" y2="691.5"/>
<line x1="984.5" y1="62" x2="984.5" y2="719"/>
<line x1="1087.5" y1="62" x2="1087.5" y2="719"/>
<line x1="1191.5" y1="62" x2="1191.5" y2="719"/>
<line x1="1285.5" y1="62" x2="1285.5" y2="719"/>
<line x1="1393.5" y1="62" x2="1393.5" y2="719"/>
<line x1="1487.5" y1="62" x2="1487.5" y2="719"/>
<line x1="1586.5" y1="62" x2="1586.5" y2="719"/>
<line x1="1685.5" y1="62" x2="1685.5" y2="719"/>
<line x1="1775.5" y1="62" x2="1775.5" y2="719"/>
</g>
<g class="c">
<rect x="968" y="86" width="5" height="1" fill="#000" />
<rect x="1805" y="86" width="5" height="1" fill="#444" />
<rect x="968" y="141" width="5" height="1" fill="#000" />
<rect x="1805" y="141" width="5" height="1" fill="#444" />
<rect x="968" y="196" width="5" height="1" fill="#000" />
<rect x="1805" y="196" width="5" height="1" fill="#444" />
<rect x="968" y="251" width="5" height="1" fill="#000" />
<rect x="1805" y="251" width="5" height="1" fill="#444" />
<rect x="968" y="306" width="5" height="1" fill="#000" />
<rect x="1805" y="306" width="5" height="1" fill="#444" />
<rect x="968" y="361" width="5" height="1" fill="#000" />
<rect x="1805" y="361" width="5" height="1" fill="#444" />
<rect x="968" y="416" width="5" height="1" fill="#000" />
<rect x="1805" y="416" width="5" height="1" fill="#444" />
<rect x="968" y="471" width="5" height="1" fill="#000" />
<rect x="1805" y="471" width="5" height="1" fill="#444" />
<rect x="968" y="526" width="5" height="1" fill="#000" />
<rect x="1805" y="526" width="5" height="1" fill="#444" />
<rect x="968" y="581" width="5" height="1" fill="#000" />
<rect x="1805" y="581" width="5" height="1" fill="#444" />
<rect x="968" y="636" width="5" height="1" fill="#000" />
<rect x="1805" y="636" width="5" height="1" fill="#444" />
<rect x="968" y="691" width="5" height="1" fill="#000" />
<rect x="1805" y="691" width="5" height="1" fill="#444" />
<rect x="984" y="58" width="1" height="4" fill="#000" />
<rect x="984" y="716" width="1" height="4" fill="#000" />
<rect x="1087" y="58" width="1" height="4" fill="#000" />
<rect x="1087" y="716" width="1" height="4" fill="#000" />
<rect x="1191" y="58" width="1" height="4" fill="#000" />
<rect x="1191" y="716" width="1" height="4" fill="#000" />
<rect x="1285" y="58" width="1" height="4" fill="#000" />
<rect x="1285" y="716" width="1" height="4" fill="#000" />
<rect x="1393" y="58" width="1" height="4" fill="#000" />
<rect x="1393" y="716" width="1" height="4" fill="#000" />
<rect x="1487" y="58" width="1" height="4" fill="#000" />
<rect x="1487" y="716" width="1" height="4" fill="#000" />
<rect x="1586" y="58" width="1" height="4" fill="#000" />
<rect x="1586" y="716" width="1" height="4" fill="#000" />
<rect x="1685" y="58" width="1" height="4" fill="#000" />
<rect x="1685" y="716" width="1" height="4" fill="#000" />
<rect x="1775" y="58" width="1" height="4" fill="#000" />
<rect x="1775" y="716" width="1" height="4" fill="#000" />
</g>
<g class="c">
<rect x="967" y="751" width="921" height="170" fill="#f8f8f8" />
<rect x="967" y="751" width="844" height="170" fill="#c9c9c9" />
<rect x="968" y="752" width="842" height="168" fill="#fbfbfb" />
</g>
<g class="c" stroke="#000" stroke-width="1" stroke-dasharray="1 5">
<line x1="972" y1="781.5" x2="1798" y2="781.5"/>
<line x1="972" y1="820.5" x2="1798" y2="820.5"/>
<line x1="972" y1="899.5" x2="1798" y2="899.5"/>
<line x1="984.5" y1="756" x2="984.5" y2="919"/>
<line x1="1087.5" y1="756" x2="1087.5" y2="919"/>
<line x1="1191.5" y1="756" x2="1191.5" y2="919"/>
<line x1="1285.5" y1="756" x2="1285.5" y2="919"/>
<line x1="1393.5" y1="756" x2="1393.5" y2="919"/>
<line x1="1487.5" y1="756" x2="1487.5" y2="919"/>
<line x1="1586.5" y1="756" x2="1586.5" y2="919"/>
<line x1="1685.5" y1="756" x2="1685.5" y2="919"/>
<line x1="1775.5" y1="756" x2="1775.5" y2="919"/>
</g>
<g class="c">
<rect x="968" y="781" width="5" height="1" fill="#000" />
<rect x="1805" y="781" width="5" height="1" fill="#444" />
<rect x="968" y="820" width="5" height="1" fill="#000" />
<rect x="1805" y="820" width="5" height="1" fill="#444" />
<rect x="968" y="899" width="5" height="1" fill="#000" />
<rect x="1805" y="899" width="5" height="1" fill="#444" />
<rect x="984" y="752" width="1" height="4" fill="#000" />
<rect x="984" y="916" width="1" height="4" fill="#000" />
<rect x="1087" y="752" width="1" height="4" fill="#000" />
<rect x="1087" y="916" width="1" height="4" fill="#000" />
<rect x="1191" y="752" width="1" height="4" fill="#000" />
<rect x="1191" y="916" width="1" height="4" fill="#000" />
<rect x="1285" y="752" width="1" height="4" fill="#000" />
<rect x="1285" y="916" width="1" height="4" fill="#000" />
<rect x="1393" y="752" width="1" height="4" fill="#000" />
<rect x="1393" y="916" width="1" height="4" fill="#000" />
<rect x="1487" y="752" width="1" height="4" fill="#000" />
<rect x="1487" y="916" width="1" height="4" fill="#000" />
<rect x="1586" y="752" width="1" height="4" fill="#000" />
<rect x="1586" y="916" width="1" height="4" fill="#000" />
<rect x="1685" y="752" width="1" height="4" fill="#000" />
<rect x="1685" y="916" width="1" height="4" fill="#000" />
<rect x="1775" y="752" width="1" height="4" fill="#000" />
<rect x="1775" y="916" width="1" height="4" fill="#000" />
</g>
<g class="c">
<rect x="6" y="693" width="842" height="2" fill="#dedede" />
<rect x="969" y="723" width="842" height="2" fill="#dedede" />
</g>
<text x="850.3" y="376.8" font-size="15" fill="#5a5a5a" >3150</text>
<text x="850.3" y="418.8" font-size="15" fill="#5a5a5a" >3100</text>
<text x="850.3" y="460.8" font-size="15" fill="#5a5a5a" >3050</text>
<text x="850.3" y="502.8" font-size="15" fill="#5a5a5a" >3000</text>
<text x="850.3" y="545.8" font-size="15" fill="#5a5a5a" >2950</text>
<text x="850.3" y="587.8" font-size="15" fill="#5a5a5a" >2900</text>
<text x="850.3" y="629.8" font-size="15" fill="#5a5a5a" >2850</text>
<text x="850.3" y="671.8" font-size="15" fill="#5a5a5a" >2800</text>
<text x="850.3" y="752.8" font-size="15" fill="#5a5a5a" >30</text>
<text x="850.3" y="782.8" font-size="15" fill="#5a5a5a" >20</text>
<text x="850.3" y="812.8" font-size="15" fill="#5a5a5a" >10</text>
<text x="850.3" y="842.8" font-size="15" fill="#5a5a5a" >0</text>
<text x="850.3" y="872.8" font-size="15" fill="#5a5a5a" >-10</text>
<text x="850.3" y="902.8" font-size="15" fill="#5a5a5a" >-20</text>
<text x="1814" y="91.8" font-size="15" fill="#5a5a5a" >9800</text>
<text x="1814" y="146.8" font-size="15" fill="#5a5a5a" >9600</text>
<text x="1814" y="201.8" font-size="15" fill="#5a5a5a" >9400</text>
<text x="1814" y="256.8" font-size="15" fill="#5a5a5a" >9200</text>
<text x="1814" y="311.8" font-size="15" fill="#5a5a5a" >9000</text>
<text x="1814" y="366.8" font-size="15" fill="#5a5a5a" >8800</text>
<text x="1814" y="421.8" font-size="15" fill="#5a5a5a" >8600</text>
<text x="1814" y="476.8" font-size="15" fill="#5a5a5a" >8400</text>
<text x="1814" y="531.8" font-size="15" fill="#5a5a5a" >8200</text>
<text x="1814" y="586.8" font-size="15" fill="#5a5a5a" >8000</text>
<text x="1814" y="641.8" font-size="15" fill="#5a5a5a" >7800</text>
<text x="1814" y="696.8" font-size="15" fill="#5a5a5a" >7600</text>
<text x="1814" y="786.8" font-size="15" fill="#5a5a5a" >100</text>
<text x="1814" y="825.8" font-size="15" fill="#5a5a5a" >50</text>
<text x="1814" y="864.8" font-size="15" fill="#5a5a5a" >0</text>
<text x="1814" y="904.8" font-size="15" fill="#5a5a5a" >-50</text>
<g class="c">
<rect x="842" y="837" width="5" height="1" fill="#444" />
<rect x="1805" y="859" width="5" height="1" fill="#444" />
</g>
<text x="21.2" y="937.8" font-size="15" fill="#5a5a5a" >Jul</text>
<text x="124.2" y="937.8" font-size="15" fill="#5a5a5a" >Aug</text>
<text x="228.2" y="937.8" font-size="15" fill="#5a5a5a" >Sep</text>
<text x="322.2" y="937.8" font-size="15" fill="#5a5a5a" >Oct</text>
<text x="430.2" y="937.8" font-size="15" fill="#5a5a5a" >Nov</text>
<text x="524.2" y="937.8" font-size="15" fill="#5a5a5a" >Dec</text>
<text x="623.2" y="937.8" font-size="15" fill="#5a5a5a" >20</text>
<text x="722.2" y="937.8" font-size="15" fill="#5a5a5a" >Feb</text>
<text x="812.2" y="937.8" font-size="15" fill="#5a5a5a" >Mar</text>
<text x="984.2" y="937.8" font-size="15" fill="#5a5a5a" >Jul</text>
<text x="1087.2" y="937.8" font-size="15" fill="#5a5a5a" >Aug</text>
<text x="1191.2" y="937.8" font-size="15" fill="#5a5a5a" >Sep</text>
<text x="1285.2" y="937.8" font-size="15" fill="#5a5a5a" >Oct</text>
<text x="1393.2" y="937.8" font-size="15" fill="#5a5a5a" >Nov</text>
<text x="1487.2" y="937.8" font-size="15" fill="#5a5a5a" >Dec</text>
<text x="1586.2" y="937.8" font-size="15" fill="#5a5a5a" >20</text>
<text x="1685.2" y="937.8" font-size="15" fill="#5a5a5a" >Feb</text>
<text x="1775.2" y="937.8" font-size="15" fill="#5a5a5a" >Mar</text>
<g class="c">
<rect x="925" y="34" width="30" height="936" fill="#a3a3a3" />
<rect x="927" y="34" width="26" height="936" fill="#b5b5b5" />
<rect x="927" y="460" width="26" height="62" fill="#f8f8f8" />
<rect x="927" y="354" width="26" height="2" fill="#a6a6a6" />
<rect x="927" y="458" width="26" height="2" fill="#a6a6a6" />
<rect x="927" y="521" width="26" height="2" fill="#a6a6a6" />
<rect x="927" y="643" width="26" height="2" fill="#a6a6a6" />
<rect x="927" y="743" width="26" height="2" fill="#a6a6a6" />
<rect x="927" y="818" width="26" height="2" fill="#a6a6a6" />
<rect x="927" y="915" width="26" height="2" fill="#a6a6a6" />
</g>
<text transform="translate(945.2 412.5) rotate(-90)" font-size="15" fill="#2a2a2a" text-anchor="middle">Big Buttons</text>
<text transform="translate(945.2 496.0) rotate(-90)" font-size="15" fill="#2a2a2a" text-anchor="middle">Chart</text>
<text transform="translate(945.2 588.5) rotate(-90)" font-size="15" fill="#2a2a2a" text-anchor="middle">Phase Scores</text>
<text transform="translate(945.2 699.25) rotate(-90)" font-size="15" fill="#2a2a2a" text-anchor="middle">Dashboard</text>
<text transform="translate(945.2 786.75) rotate(-90)" font-size="15" fill="#2a2a2a" text-anchor="middle">Level II</text>
<text transform="translate(945.2 873.25) rotate(-90)" font-size="15" fill="#2a2a2a" text-anchor="middle">Live News</text>
<g class="c">
<rect x="1888" y="34" width="30" height="936" fill="#a3a3a3" />
<rect x="1890" y="34" width="26" height="936" fill="#b5b5b5" />
<rect x="1890" y="460" width="26" height="62" fill="#f8f8f8" />
<rect x="1890" y="34" width="26" height="2" fill="#a6a6a6" />
<rect x="1890" y="99" width="26" height="2" fill="#a6a6a6" />
<rect x="1890" y="239" width="26" height="2" fill="#a6a6a6" />
<rect x="1890" y="355" width="26" height="2" fill="#a6a6a6" />
<rect x="1890" y="458" width="26" height="2" fill="#a6a6a6" />
<rect x="1890" y="521" width="26" height="2" fill="#a6a6a6" />
<rect x="1890" y="643" width="26" height="2" fill="#a6a6a6" />
<rect x="1890" y="743" width="26" height="2" fill="#a6a6a6" />
<rect x="1890" y="818" width="26" height="2" fill="#a6a6a6" />
<rect x="1890" y="915" width="26" height="2" fill="#a6a6a6" />
</g>
<text transform="translate(1908.2 72.75) rotate(-90)" font-size="15" fill="#2a2a2a" text-anchor="middle">Trade</text>
<text transform="translate(1908.2 175.0) rotate(-90)" font-size="15" fill="#2a2a2a" text-anchor="middle">Times And Sales</text>
<text transform="translate(1908.2 303.0) rotate(-90)" font-size="15" fill="#2a2a2a" text-anchor="middle">Active Trader</text>
<text transform="translate(1908.2 412.75) rotate(-90)" font-size="15" fill="#2a2a2a" text-anchor="middle">Big Buttons</text>
<text transform="translate(1908.2 496.0) rotate(-90)" font-size="15" fill="#2a2a2a" text-anchor="middle">Chart</text>
<text transform="translate(1908.2 588.75) rotate(-90)" font-size="15" fill="#2a2a2a" text-anchor="middle">Phase Scores</text>
<text transform="translate(1908.2 699.5) rotate(-90)" font-size="15" fill="#2a2a2a" text-anchor="middle">Dashboard</text>
<text transform="translate(1908.2 786.75) rotate(-90)" font-size="15" fill="#2a2a2a" text-anchor="middle">Level II</text>
<text transform="translate(1908.2 872.75) rotate(-90)" font-size="15" fill="#2a2a2a" text-anchor="middle">Live News</text>
<g class="c">
<rect x="2" y="947" width="18" height="18" fill="#e6e6e6" />
<rect x="20" y="947" width="568" height="18" fill="#c8c8c8" />
<rect x="592" y="947" width="36" height="18" fill="#e2e2e2" />
</g>
<path d="M12.25 952.0L7.75 956L12.25 960.0Z" fill="#333"/>
<path d="M602.9 952.75L599.1 956.5L602.9 960.25Z" fill="#666"/>
<path d="M617.1 952.75L620.9 956.5L617.1 960.25Z" fill="#666"/>
<rect x="301.0" y="953.2" width="1.1" height="6.4" fill="#555" />
<rect x="303.2" y="953.2" width="1.1" height="6.4" fill="#555" />
<rect x="305.4" y="953.2" width="1.1" height="6.4" fill="#555" />
<path d="M637.0 950.8L631.0 956.3L637.0 961.8Z" fill="#1a1a1a"/>
<path d="M645.4 950.8L651.4 956.3L645.4 961.8Z" fill="#1a1a1a"/>
<rect x="638.6" y="952.6" width="1.1" height="7.4" fill="#1a1a1a" />
<rect x="640.7" y="952.6" width="1.1" height="7.4" fill="#1a1a1a" />
<rect x="642.8000000000001" y="952.6" width="1.1" height="7.4" fill="#1a1a1a" />
<circle cx="667.5" cy="957.2" r="6.3" fill="none" stroke="#1a1a1a" stroke-width="1.5"/>
<path d="M658.9 957.2H676.1M667.5 948.6V965.8" stroke="#1a1a1a" stroke-width="1.4"/>
<circle cx="694" cy="954.8" r="6.9" fill="none" stroke="#1a1a1a" stroke-width="1.6"/>
<path d="M698.8 959.8L706 966.2" stroke="#1a1a1a" stroke-width="2.2"/>
<path d="M690.6 954.8H697.4M694 951.4V958.2" stroke="#1a1a1a" stroke-width="1.4"/>
<circle cx="721" cy="954.8" r="6.9" fill="none" stroke="#1a1a1a" stroke-width="1.6"/>
<path d="M725.8 959.8L733 966.2" stroke="#1a1a1a" stroke-width="2.2"/>
<path d="M717.6 954.8H724.4" stroke="#1a1a1a" stroke-width="1.4"/>
<path transform="translate(741 946.6) scale(0.98)" d="M5.6 11.5V2.2Q5.6 0.7 7 0.7Q8.4 0.7 8.4 2.2V8.2 M8.4 8.4Q8.4 7 9.8 7Q11.2 7 11.2 8.6V9.4 M11.2 9.4Q11.2 8.2 12.5 8.2Q13.8 8.2 13.8 9.8V10.6 M13.8 10.6Q13.8 9.5 15 9.5Q16.3 9.5 16.3 11.2V14.5Q16.3 17 15 18.2V20.2H6.6V18.6Q4.5 17 2.6 14.2Q1 12 0.9 11.4Q0.8 10.3 2 10.3Q3.2 10.3 4.4 12.2L5.6 13.6" fill="none" stroke="#1a1a1a" stroke-width="1.4" stroke-linejoin="round" stroke-linecap="round"/>
<text x="780.4" y="962" font-size="15" fill="#2a2a2a" textLength="131.7" lengthAdjust="spacingAndGlyphs">Drawing set: Default</text>
<path d="M921.5 960.5L921.5 965L917.0 965Z" fill="#111"/>
<g class="c">
<rect x="965" y="947" width="18" height="18" fill="#e6e6e6" />
<rect x="983" y="947" width="0" height="18" fill="#ebebeb" />
<rect x="983" y="947" width="572" height="18" fill="#ebebeb" />
<rect x="1555" y="947" width="36" height="18" fill="#e2e2e2" />
</g>
<path d="M975.25 952.0L970.75 956L975.25 960.0Z" fill="#333"/>
<path d="M1565.9 952.75L1562.1 956.5L1565.9 960.25Z" fill="#666"/>
<path d="M1580.1 952.75L1583.9 956.5L1580.1 960.25Z" fill="#666"/>
<path d="M1600.0 950.8L1594.0 956.3L1600.0 961.8Z" fill="#1a1a1a"/>
<path d="M1608.4 950.8L1614.4 956.3L1608.4 961.8Z" fill="#1a1a1a"/>
<rect x="1601.6" y="952.6" width="1.1" height="7.4" fill="#1a1a1a" />
<rect x="1603.6999999999998" y="952.6" width="1.1" height="7.4" fill="#1a1a1a" />
<rect x="1605.8" y="952.6" width="1.1" height="7.4" fill="#1a1a1a" />
<circle cx="1630.5" cy="957.2" r="6.3" fill="none" stroke="#1a1a1a" stroke-width="1.5"/>
<path d="M1621.9 957.2H1639.1M1630.5 948.6V965.8" stroke="#1a1a1a" stroke-width="1.4"/>
<circle cx="1657" cy="954.8" r="6.9" fill="none" stroke="#1a1a1a" stroke-width="1.6"/>
<path d="M1661.8 959.8L1669 966.2" stroke="#1a1a1a" stroke-width="2.2"/>
<path d="M1653.6 954.8H1660.4M1657 951.4V958.2" stroke="#1a1a1a" stroke-width="1.4"/>
<circle cx="1684" cy="954.8" r="6.9" fill="none" stroke="#b0b0b0" stroke-width="1.6"/>
<path d="M1688.8 959.8L1696 966.2" stroke="#b0b0b0" stroke-width="2.2"/>
<path d="M1680.6 954.8H1687.4" stroke="#b0b0b0" stroke-width="1.4"/>
<path transform="translate(1704 946.6) scale(0.98)" d="M5.6 11.5V2.2Q5.6 0.7 7 0.7Q8.4 0.7 8.4 2.2V8.2 M8.4 8.4Q8.4 7 9.8 7Q11.2 7 11.2 8.6V9.4 M11.2 9.4Q11.2 8.2 12.5 8.2Q13.8 8.2 13.8 9.8V10.6 M13.8 10.6Q13.8 9.5 15 9.5Q16.3 9.5 16.3 11.2V14.5Q16.3 17 15 18.2V20.2H6.6V18.6Q4.5 17 2.6 14.2Q1 12 0.9 11.4Q0.8 10.3 2 10.3Q3.2 10.3 4.4 12.2L5.6 13.6" fill="none" stroke="#1a1a1a" stroke-width="1.4" stroke-linejoin="round" stroke-linecap="round"/>
<text x="1743.7" y="962" font-size="15" fill="#2a2a2a" textLength="131.7" lengthAdjust="spacingAndGlyphs">Drawing set: Default</text>
<path d="M1885.5 960.5L1885.5 965L1881.0 965Z" fill="#111"/>
<path d="M1817 50 Q1819.2 52.6 1822 51.4 Q1825 50 1826.6 46.4 Q1828.4 42.4 1831.4 41.4 Q1834 40.8 1835.8 43.2" fill="none" stroke="#222" stroke-width="1.5"/>
<path d="M1817.6 36.8L1822 41.2" stroke="#222" stroke-width="1.5"/>
<path d="M1824.2 37.6V43.6H1818.2Z" fill="#222"/>
<path d="M1836 55.8L1831.6 51.4" stroke="#222" stroke-width="1.5"/>
<path d="M1829.4 55.2V49.2H1835.4Z" fill="#222"/>
<path d="M104 471.5H428.5" stroke="#9bd8e8" stroke-width="4.6" stroke-linecap="round"/>
<path d="M507.8 362.5H565.5" stroke="#9bd8e8" stroke-width="4.6" stroke-linecap="round"/>
<g class="c">
<rect x="9" y="554" width="1" height="18" fill="#cc0000" />
<rect x="8" y="560" width="3" height="10" fill="#cc0000" />
<rect x="13" y="557" width="1" height="10" fill="#2b9400" />
<rect x="12" y="561" width="3" height="5" fill="#2b9400" />
<rect x="18" y="545" width="1" height="12" fill="#2b9400" />
<rect x="17" y="547" width="3" height="8" fill="#2b9400" />
<rect x="23" y="516" width="1" height="23" fill="#cc0000" />
<rect x="22" y="521" width="3" height="7" fill="#cc0000" />
<rect x="28" y="520" width="1" height="16" fill="#2b9400" />
<rect x="27" y="520" width="3" height="8" fill="#2b9400" />
<rect x="32" y="501" width="1" height="16" fill="#2b9400" />
<rect x="31" y="501" width="3" height="16" fill="#2b9400" />
<rect x="37" y="502" width="1" height="23" fill="#2b9400" />
<rect x="36" y="506" width="3" height="6" fill="#2b9400" />
<rect x="42" y="514" width="1" height="9" fill="#cc0000" />
<rect x="41" y="514" width="3" height="4" fill="#cc0000" />
<rect x="46" y="513" width="1" height="16" fill="#2b9400" />
<rect x="45" y="515" width="3" height="12" fill="#2b9400" />
<rect x="51" y="495" width="1" height="16" fill="#2b9400" />
<rect x="50" y="503" width="3" height="4" fill="#2b9400" />
<rect x="56" y="495" width="1" height="12" fill="#2b9400" />
<rect x="55" y="498" width="3" height="1" fill="#2b9400" />
<rect x="60" y="486" width="1" height="11" fill="#2b9400" />
<rect x="59" y="486" width="3" height="9" fill="#2b9400" />
<rect x="65" y="482" width="1" height="8" fill="#cc0000" />
<rect x="64" y="482" width="3" height="4" fill="#cc0000" />
<rect x="70" y="485" width="1" height="12" fill="#cc0000" />
<rect x="69" y="487" width="3" height="7" fill="#cc0000" />
<rect x="75" y="493" width="1" height="19" fill="#cc0000" />
<rect x="74" y="493" width="3" height="18" fill="#cc0000" />
<rect x="79" y="499" width="1" height="22" fill="#2b9400" />
<rect x="78" y="502" width="3" height="14" fill="#2b9400" />
<rect x="84" y="492" width="1" height="27" fill="#cc0000" />
<rect x="83" y="494" width="3" height="23" fill="#cc0000" />
<rect x="89" y="505" width="1" height="13" fill="#2b9400" />
<rect x="88" y="510" width="3" height="4" fill="#2b9400" />
<rect x="93" y="492" width="1" height="16" fill="#2b9400" />
<rect x="92" y="493" width="3" height="10" fill="#2b9400" />
<rect x="98" y="481" width="1" height="19" fill="#2b9400" />
<rect x="97" y="481" width="3" height="17" fill="#2b9400" />
<rect x="103" y="484" width="1" height="17" fill="#cc0000" />
<rect x="102" y="484" width="3" height="11" fill="#cc0000" />
<rect x="108" y="474" width="1" height="14" fill="#2b9400" />
<rect x="107" y="476" width="3" height="11" fill="#2b9400" />
<rect x="112" y="476" width="1" height="10" fill="#cc0000" />
<rect x="111" y="477" width="3" height="3" fill="#cc0000" />
<rect x="117" y="483" width="1" height="15" fill="#2b9400" />
<rect x="116" y="486" width="3" height="6" fill="#2b9400" />
<rect x="122" y="483" width="1" height="51" fill="#cc0000" />
<rect x="121" y="484" width="3" height="30" fill="#cc0000" />
<rect x="126" y="486" width="1" height="59" fill="#cc0000" />
<rect x="125" y="514" width="3" height="23" fill="#cc0000" />
<rect x="131" y="543" width="1" height="27" fill="#cc0000" />
<rect x="130" y="545" width="3" height="10" fill="#cc0000" />
<rect x="136" y="583" width="1" height="64" fill="#cc0000" />
<rect x="135" y="583" width="3" height="46" fill="#cc0000" />
<rect x="140" y="595" width="1" height="31" fill="#2b9400" />
<rect x="139" y="597" width="3" height="19" fill="#2b9400" />
<rect x="145" y="588" width="1" height="58" fill="#2b9400" />
<rect x="144" y="595" width="3" height="23" fill="#2b9400" />
<rect x="150" y="549" width="1" height="39" fill="#2b9400" />
<rect x="149" y="550" width="3" height="36" fill="#2b9400" />
<rect x="155" y="553" width="1" height="29" fill="#cc0000" />
<rect x="154" y="556" width="3" height="10" fill="#cc0000" />
<rect x="159" y="575" width="1" height="30" fill="#cc0000" />
<rect x="158" y="576" width="3" height="20" fill="#cc0000" />
<rect x="164" y="547" width="1" height="55" fill="#2b9400" />
<rect x="163" y="560" width="3" height="39" fill="#2b9400" />
<rect x="169" y="587" width="1" height="47" fill="#cc0000" />
<rect x="168" y="587" width="3" height="45" fill="#cc0000" />
<rect x="173" y="618" width="1" height="28" fill="#2b9400" />
<rect x="172" y="626" width="3" height="2" fill="#2b9400" />
<rect x="178" y="587" width="1" height="26" fill="#2b9400" />
<rect x="177" y="591" width="3" height="22" fill="#2b9400" />
<rect x="183" y="556" width="1" height="15" fill="#2b9400" />
<rect x="182" y="562" width="3" height="9" fill="#2b9400" />
<rect x="187" y="562" width="1" height="20" fill="#cc0000" />
<rect x="186" y="566" width="3" height="16" fill="#cc0000" />
<rect x="192" y="558" width="1" height="10" fill="#2b9400" />
<rect x="191" y="561" width="3" height="3" fill="#2b9400" />
<rect x="197" y="549" width="1" height="29" fill="#cc0000" />
<rect x="196" y="556" width="3" height="7" fill="#cc0000" />
<rect x="202" y="560" width="1" height="78" fill="#cc0000" />
<rect x="201" y="572" width="3" height="55" fill="#cc0000" />
<rect x="206" y="599" width="1" height="21" fill="#2b9400" />
<rect x="205" y="600" width="3" height="11" fill="#2b9400" />
<rect x="211" y="584" width="1" height="32" fill="#cc0000" />
<rect x="210" y="588" width="3" height="20" fill="#cc0000" />
<rect x="216" y="592" width="1" height="30" fill="#2b9400" />
<rect x="215" y="592" width="3" height="24" fill="#2b9400" />
<rect x="220" y="556" width="1" height="22" fill="#2b9400" />
<rect x="219" y="561" width="3" height="13" fill="#2b9400" />
<rect x="225" y="548" width="1" height="24" fill="#cc0000" />
<rect x="224" y="550" width="3" height="10" fill="#cc0000" />
<rect x="230" y="570" width="1" height="19" fill="#cc0000" />
<rect x="229" y="574" width="3" height="3" fill="#cc0000" />
<rect x="235" y="549" width="1" height="14" fill="#2b9400" />
<rect x="234" y="550" width="3" height="12" fill="#2b9400" />
<rect x="239" y="510" width="1" height="22" fill="#2b9400" />
<rect x="238" y="518" width="3" height="14" fill="#2b9400" />
<rect x="244" y="511" width="1" height="10" fill="#cc0000" />
<rect x="243" y="514" width="3" height="2" fill="#cc0000" />
<rect x="249" y="506" width="1" height="17" fill="#cc0000" />
<rect x="248" y="507" width="3" height="9" fill="#cc0000" />
<rect x="253" y="515" width="1" height="20" fill="#2b9400" />
<rect x="252" y="515" width="3" height="8" fill="#2b9400" />
<rect x="258" y="497" width="1" height="22" fill="#2b9400" />
<rect x="257" y="497" width="3" height="17" fill="#2b9400" />
<rect x="263" y="480" width="1" height="17" fill="#2b9400" />
<rect x="262" y="490" width="3" height="1" fill="#2b9400" />
<rect x="267" y="483" width="1" height="12" fill="#cc0000" />
<rect x="266" y="487" width="3" height="4" fill="#cc0000" />
<rect x="272" y="495" width="1" height="10" fill="#2b9400" />
<rect x="271" y="499" width="3" height="2" fill="#2b9400" />
<rect x="277" y="492" width="1" height="12" fill="#2b9400" />
<rect x="276" y="493" width="3" height="9" fill="#2b9400" />
<rect x="282" y="491" width="1" height="25" fill="#2b9400" />
<rect x="281" y="492" width="3" height="5" fill="#2b9400" />
<rect x="286" y="479" width="1" height="17" fill="#cc0000" />
<rect x="285" y="489" width="3" height="3" fill="#cc0000" />
<rect x="291" y="483" width="1" height="28" fill="#cc0000" />
<rect x="290" y="490" width="3" height="14" fill="#cc0000" />
<rect x="296" y="499" width="1" height="14" fill="#2b9400" />
<rect x="295" y="505" width="3" height="7" fill="#2b9400" />
<rect x="300" y="492" width="1" height="42" fill="#cc0000" />
<rect x="299" y="495" width="3" height="31" fill="#cc0000" />
<rect x="305" y="506" width="1" height="32" fill="#2b9400" />
<rect x="304" y="510" width="3" height="15" fill="#2b9400" />
<rect x="310" y="509" width="1" height="19" fill="#cc0000" />
<rect x="309" y="509" width="3" height="7" fill="#cc0000" />
<rect x="315" y="509" width="1" height="34" fill="#cc0000" />
<rect x="314" y="510" width="3" height="20" fill="#cc0000" />
<rect x="319" y="511" width="1" height="15" fill="#2b9400" />
<rect x="318" y="517" width="3" height="9" fill="#2b9400" />
<rect x="324" y="505" width="1" height="44" fill="#cc0000" />
<rect x="323" y="511" width="3" height="37" fill="#cc0000" />
<rect x="329" y="561" width="1" height="42" fill="#cc0000" />
<rect x="328" y="561" width="3" height="31" fill="#cc0000" />
<rect x="333" y="572" width="1" height="48" fill="#2b9400" />
<rect x="332" y="573" width="3" height="21" fill="#2b9400" />
<rect x="338" y="537" width="1" height="30" fill="#2b9400" />
<rect x="337" y="538" width="3" height="29" fill="#2b9400" />
<rect x="343" y="532" width="1" height="20" fill="#cc0000" />
<rect x="342" y="544" width="3" height="5" fill="#cc0000" />
<rect x="347" y="560" width="1" height="29" fill="#cc0000" />
<rect x="346" y="565" width="3" height="23" fill="#cc0000" />
<rect x="352" y="557" width="1" height="20" fill="#2b9400" />
<rect x="351" y="566" width="3" height="7" fill="#2b9400" />
<rect x="357" y="541" width="1" height="27" fill="#2b9400" />
<rect x="356" y="550" width="3" height="17" fill="#2b9400" />
<rect x="362" y="503" width="1" height="27" fill="#2b9400" />
<rect x="361" y="523" width="3" height="7" fill="#2b9400" />
<rect x="366" y="521" width="1" height="8" fill="#2b9400" />
<rect x="365" y="526" width="3" height="1" fill="#2b9400" />
<rect x="371" y="496" width="1" height="25" fill="#2b9400" />
<rect x="370" y="501" width="3" height="20" fill="#2b9400" />
<rect x="376" y="500" width="1" height="10" fill="#2b9400" />
<rect x="375" y="506" width="3" height="1" fill="#2b9400" />
<rect x="380" y="491" width="1" height="13" fill="#cc0000" />
<rect x="379" y="497" width="3" height="2" fill="#cc0000" />
<rect x="385" y="498" width="1" height="19" fill="#cc0000" />
<rect x="384" y="500" width="3" height="9" fill="#cc0000" />
<rect x="390" y="491" width="1" height="10" fill="#2b9400" />
<rect x="389" y="492" width="3" height="9" fill="#2b9400" />
<rect x="395" y="485" width="1" height="18" fill="#cc0000" />
<rect x="394" y="488" width="3" height="13" fill="#cc0000" />
<rect x="399" y="493" width="1" height="13" fill="#2b9400" />
<rect x="398" y="494" width="3" height="9" fill="#2b9400" />
<rect x="404" y="484" width="1" height="14" fill="#cc0000" />
<rect x="403" y="485" width="3" height="4" fill="#cc0000" />
<rect x="409" y="475" width="1" height="22" fill="#2b9400" />
<rect x="408" y="479" width="3" height="17" fill="#2b9400" />
<rect x="413" y="460" width="1" height="9" fill="#2b9400" />
<rect x="412" y="464" width="3" height="5" fill="#2b9400" />
<rect x="418" y="457" width="1" height="12" fill="#2b9400" />
<rect x="417" y="466" width="3" height="2" fill="#2b9400" />
<rect x="423" y="455" width="1" height="21" fill="#2b9400" />
<rect x="422" y="458" width="3" height="7" fill="#2b9400" />
<rect x="427" y="458" width="1" height="20" fill="#cc0000" />
<rect x="426" y="458" width="3" height="8" fill="#cc0000" />
<rect x="432" y="441" width="1" height="14" fill="#2b9400" />
<rect x="431" y="441" width="3" height="14" fill="#2b9400" />
<rect x="437" y="425" width="1" height="10" fill="#cc0000" />
<rect x="436" y="431" width="3" height="1" fill="#cc0000" />
<rect x="442" y="426" width="1" height="11" fill="#cc0000" />
<rect x="441" y="429" width="3" height="6" fill="#cc0000" />
<rect x="446" y="432" width="1" height="10" fill="#2b9400" />
<rect x="445" y="433" width="3" height="2" fill="#2b9400" />
<rect x="451" y="416" width="1" height="15" fill="#cc0000" />
<rect x="450" y="424" width="3" height="2" fill="#cc0000" />
<rect x="456" y="419" width="1" height="16" fill="#2b9400" />
<rect x="455" y="419" width="3" height="11" fill="#2b9400" />
<rect x="460" y="423" width="1" height="10" fill="#2b9400" />
<rect x="459" y="424" width="3" height="6" fill="#2b9400" />
<rect x="465" y="411" width="1" height="15" fill="#2b9400" />
<rect x="464" y="420" width="3" height="3" fill="#2b9400" />
<rect x="470" y="415" width="1" height="16" fill="#2b9400" />
<rect x="469" y="418" width="3" height="9" fill="#2b9400" />
<rect x="474" y="415" width="1" height="11" fill="#2b9400" />
<rect x="473" y="416" width="3" height="6" fill="#2b9400" />
<rect x="479" y="396" width="1" height="14" fill="#2b9400" />
<rect x="478" y="396" width="3" height="11" fill="#2b9400" />
<rect x="484" y="392" width="1" height="11" fill="#2b9400" />
<rect x="483" y="395" width="3" height="4" fill="#2b9400" />
<rect x="489" y="389" width="1" height="13" fill="#cc0000" />
<rect x="488" y="390" width="3" height="6" fill="#cc0000" />
<rect x="493" y="397" width="1" height="23" fill="#cc0000" />
<rect x="492" y="400" width="3" height="6" fill="#cc0000" />
<rect x="498" y="404" width="1" height="14" fill="#cc0000" />
<rect x="497" y="406" width="3" height="4" fill="#cc0000" />
<rect x="503" y="402" width="1" height="11" fill="#cc0000" />
<rect x="502" y="403" width="3" height="2" fill="#cc0000" />
<rect x="507" y="384" width="1" height="15" fill="#2b9400" />
<rect x="506" y="385" width="3" height="14" fill="#2b9400" />
<rect x="512" y="377" width="1" height="10" fill="#2b9400" />
<rect x="511" y="379" width="3" height="5" fill="#2b9400" />
<rect x="517" y="367" width="1" height="10" fill="#2b9400" />
<rect x="516" y="368" width="3" height="7" fill="#2b9400" />
<rect x="522" y="371" width="1" height="10" fill="#cc0000" />
<rect x="521" y="373" width="3" height="6" fill="#cc0000" />
<rect x="526" y="375" width="1" height="29" fill="#cc0000" />
<rect x="525" y="376" width="3" height="26" fill="#cc0000" />
<rect x="531" y="418" width="1" height="21" fill="#2b9400" />
<rect x="530" y="419" width="3" height="5" fill="#2b9400" />
<rect x="536" y="397" width="1" height="15" fill="#2b9400" />
<rect x="535" y="402" width="3" height="9" fill="#2b9400" />
<rect x="540" y="397" width="1" height="14" fill="#cc0000" />
<rect x="539" y="397" width="3" height="2" fill="#cc0000" />
<rect x="545" y="370" width="1" height="15" fill="#2b9400" />
<rect x="544" y="375" width="3" height="10" fill="#2b9400" />
<rect x="550" y="371" width="1" height="13" fill="#cc0000" />
<rect x="549" y="378" width="3" height="5" fill="#cc0000" />
<rect x="554" y="378" width="1" height="10" fill="#cc0000" />
<rect x="553" y="383" width="3" height="3" fill="#cc0000" />
<rect x="559" y="376" width="1" height="9" fill="#2b9400" />
<rect x="558" y="378" width="3" height="6" fill="#2b9400" />
<rect x="564" y="348" width="1" height="33" fill="#2b9400" />
<rect x="563" y="355" width="3" height="24" fill="#2b9400" />
<rect x="569" y="343" width="1" height="23" fill="#2b9400" />
<rect x="568" y="355" width="3" height="2" fill="#2b9400" />
<rect x="573" y="330" width="1" height="13" fill="#2b9400" />
<rect x="572" y="336" width="3" height="7" fill="#2b9400" />
<rect x="578" y="330" width="1" height="7" fill="#cc0000" />
<rect x="577" y="332" width="3" height="3" fill="#cc0000" />
<rect x="583" y="330" width="1" height="7" fill="#cc0000" />
<rect x="582" y="332" width="3" height="4" fill="#cc0000" />
<rect x="587" y="324" width="1" height="12" fill="#2b9400" />
<rect x="586" y="324" width="3" height="12" fill="#2b9400" />
<rect x="592" y="307" width="1" height="9" fill="#cc0000" />
<rect x="591" y="309" width="3" height="2" fill="#cc0000" />
<rect x="597" y="305" width="1" height="5" fill="#cc0000" />
<rect x="596" y="306" width="3" height="3" fill="#cc0000" />
<rect x="602" y="306" width="1" height="6" fill="#cc0000" />
<rect x="601" y="307" width="3" height="2" fill="#cc0000" />
<rect x="606" y="295" width="1" height="11" fill="#2b9400" />
<rect x="605" y="295" width="3" height="11" fill="#2b9400" />
</g>
<polyline points="9.7,565.6 14.4,562.8 19.1,558.2 23.8,551.9 28.5,547.2 33.2,541.4 37.9,538.3 42.6,536.2 47.3,533.3 52.0,526.9 56.8,519.6 61.5,512.1 66.2,506.0 70.9,502.7 75.6,501.7 80.3,501.8 85.0,502.9 89.7,502.2 94.4,500.0 99.1,497.8 103.8,497.4 108.5,496.4 113.2,495.9 117.9,495.1 122.6,495.4 127.3,498.9 132.0,502.7 136.7,514.5 141.4,524.9 146.1,536.4 150.8,541.9 155.6,551.0 160.3,562.5 165.0,569.9 169.7,581.6 174.4,590.6 179.1,594.2 183.8,587.6 188.5,586.0 193.2,582.6 197.9,583.9 202.6,589.9 207.3,590.4 212.0,595.2 216.7,591.2 221.4,584.7 226.1,581.5 230.8,583.0 235.5,579.8 240.2,575.5 244.9,570.8 249.7,559.7 254.4,551.2 259.1,540.1 263.8,529.8 268.5,522.8 273.2,516.8 277.9,508.4 282.6,502.6 287.3,500.0 292.0,498.9 296.7,497.7 301.4,498.8 306.1,500.2 310.8,502.9 315.5,506.7 320.2,508.5 324.9,514.0 329.6,524.1 334.3,532.2 339.1,535.6 343.8,540.0 348.5,546.2 353.2,551.8 357.9,555.1 362.6,554.4 367.3,555.3 372.0,550.6 376.7,542.0 381.4,534.6 386.1,531.7 390.8,526.0 395.5,517.3 400.2,510.1 404.9,504.1 409.6,499.6 414.3,493.5 419.0,490.0 423.7,485.2 428.4,481.8 433.1,475.0 437.9,469.0 442.6,462.4 447.3,456.3 452.0,450.0 456.7,444.0 461.4,440.0 466.1,435.4 470.8,431.4 475.5,426.4 480.2,421.9 484.9,418.2 489.6,414.3 494.3,411.7 499.0,410.1 503.7,408.7 508.4,404.7 513.1,400.6 517.8,395.6 522.5,391.9 527.2,392.4 532.0,394.8 536.7,395.5 541.4,394.7 546.1,391.1 550.8,389.0 555.5,389.1 560.2,389.0 564.9,387.7 569.6,385.4 574.3,378.8 579.0,370.5 583.7,363.8 588.4,356.4 593.1,350.1 597.8,342.6 602.5,335.0 607.2,326.7" fill="none" stroke="#3ba011" stroke-width="1.12" stroke-linejoin="round" />
<polyline points="9.7,599.2 14.4,598.9 19.1,598.2 23.8,597.2 28.5,596.1 33.2,595.1 37.9,594.0 42.6,593.2 47.3,592.5 52.0,591.6 56.8,590.7 61.5,589.2 66.2,587.6 70.9,586.6 75.6,585.7 80.3,583.8 85.0,582.2 89.7,580.3 94.4,578.2 99.1,574.7 103.8,571.8 108.5,568.9 113.2,566.4 117.9,563.8 122.6,561.5 127.3,560.0 132.0,558.7 136.7,558.3 141.4,557.4 146.1,556.0 150.8,553.4 155.6,551.2 160.3,549.0 165.0,545.9 169.7,545.3 174.4,544.9 179.1,544.2 183.8,543.3 188.5,543.1 193.2,542.4 197.9,541.7 202.6,542.4 207.3,542.6 212.0,542.9 216.7,543.4 221.4,543.5 226.1,543.9 230.8,544.7 235.5,544.8 240.2,543.8 244.9,542.7 249.7,541.8 254.4,541.2 259.1,540.6 263.8,540.0 268.5,539.8 273.2,539.6 277.9,539.1 282.6,538.7 287.3,538.4 292.0,538.6 296.7,538.9 301.4,539.7 306.1,540.1 310.8,540.2 315.5,540.7 320.2,540.7 324.9,541.5 329.6,543.5 334.3,545.3 339.1,546.2 343.8,547.7 348.5,549.8 353.2,551.4 357.9,552.1 362.6,551.8 367.3,551.3 372.0,548.7 376.7,546.9 381.4,545.0 386.1,544.2 390.8,542.7 395.5,540.8 400.2,539.5 404.9,536.6 409.6,533.6 414.3,531.1 419.0,529.2 423.7,526.7 428.4,524.8 433.1,522.4 437.9,518.5 442.6,515.2 447.3,511.7 452.0,508.4 456.7,505.5 461.4,502.8 466.1,499.7 470.8,497.0 475.5,495.0 480.2,492.6 484.9,490.2 489.6,487.8 494.3,486.0 499.0,484.4 503.7,482.7 508.4,480.4 513.1,478.1 517.8,475.6 522.5,473.4 527.2,471.3 532.0,469.6 536.7,467.1 541.4,464.9 546.1,462.1 550.8,459.1 555.5,456.5 560.2,453.1 564.9,448.4 569.6,444.0 574.3,440.0 579.0,435.7 583.7,430.7 588.4,425.8 593.1,421.1 597.8,416.8 602.5,412.4 607.2,408.3" fill="none" stroke="#1c3f9e" stroke-width="1.12" stroke-linejoin="round" />
<polyline points="9.3,686.4 19.0,686.2 21.5,685.4 32.8,685.3 36.5,684.4 47.8,684.2 50.9,683.4 61.5,683.3 65.3,682.4 75.9,682.2 79.0,681.3 90.3,681.1 93.4,680.3 99.0,680.2 102.1,679.4 109.0,679.2 112.8,678.1 124.0,675.6 131.0,675.0 175.0,669.4 219.2,663.8 240.0,659.6 249.0,657.6 262.6,652.8 272.8,649.4 287.5,646.0 301.1,643.5 305.6,641.3 314.7,639.5 322.6,637.0 330.5,634.9 338.5,631.5 345.3,629.6 353.2,626.8 357.7,623.4 371.3,617.2 387.1,609.8 403.0,603.6 418.8,596.8 430.0,594.2 440.4,588.8 447.7,587.2 469.6,577.3 476.9,575.7 484.2,572.1 491.5,570.5 498.8,567.4 505.0,565.8 513.3,562.2 524.5,558.5 537.3,554.9 547.7,551.8 560.2,547.6 575.8,542.9 586.3,538.2 600.8,531.5 607.6,530.1" fill="none" stroke="#3a3a3a" stroke-width="1.1" stroke-linejoin="round" />
<path d="M1070.7 485.2H1390.5" stroke="#9bd8e8" stroke-width="4.6" stroke-linecap="round"/>
<path d="M1478.4 384.5H1526.7" stroke="#9bd8e8" stroke-width="4.6" stroke-linecap="round"/>
<g class="c">
<rect x="972" y="588" width="1" height="20" fill="#cc0000" />
<rect x="971" y="599" width="3" height="7" fill="#cc0000" />
<rect x="976" y="588" width="1" height="11" fill="#2b9400" />
<rect x="975" y="590" width="3" height="9" fill="#2b9400" />
<rect x="981" y="579" width="1" height="12" fill="#2b9400" />
<rect x="980" y="580" width="3" height="5" fill="#2b9400" />
<rect x="986" y="540" width="1" height="25" fill="#cc0000" />
<rect x="985" y="541" width="3" height="15" fill="#cc0000" />
<rect x="991" y="551" width="1" height="13" fill="#2b9400" />
<rect x="990" y="551" width="3" height="7" fill="#2b9400" />
<rect x="995" y="534" width="1" height="14" fill="#2b9400" />
<rect x="994" y="535" width="3" height="11" fill="#2b9400" />
<rect x="1000" y="535" width="1" height="21" fill="#2b9400" />
<rect x="999" y="537" width="3" height="11" fill="#2b9400" />
<rect x="1005" y="550" width="1" height="9" fill="#cc0000" />
<rect x="1004" y="550" width="3" height="4" fill="#cc0000" />
<rect x="1009" y="540" width="1" height="25" fill="#2b9400" />
<rect x="1008" y="542" width="3" height="23" fill="#2b9400" />
<rect x="1014" y="518" width="1" height="19" fill="#2b9400" />
<rect x="1013" y="526" width="3" height="6" fill="#2b9400" />
<rect x="1019" y="519" width="1" height="15" fill="#cc0000" />
<rect x="1018" y="521" width="3" height="7" fill="#cc0000" />
<rect x="1023" y="513" width="1" height="13" fill="#2b9400" />
<rect x="1022" y="514" width="3" height="10" fill="#2b9400" />
<rect x="1028" y="508" width="1" height="8" fill="#cc0000" />
<rect x="1027" y="509" width="3" height="1" fill="#cc0000" />
<rect x="1033" y="509" width="1" height="17" fill="#cc0000" />
<rect x="1032" y="512" width="3" height="8" fill="#cc0000" />
<rect x="1038" y="517" width="1" height="14" fill="#cc0000" />
<rect x="1037" y="519" width="3" height="12" fill="#cc0000" />
<rect x="1042" y="522" width="1" height="23" fill="#2b9400" />
<rect x="1041" y="524" width="3" height="16" fill="#2b9400" />
<rect x="1047" y="513" width="1" height="29" fill="#cc0000" />
<rect x="1046" y="515" width="3" height="26" fill="#cc0000" />
<rect x="1052" y="521" width="1" height="14" fill="#2b9400" />
<rect x="1051" y="525" width="3" height="10" fill="#2b9400" />
<rect x="1056" y="512" width="1" height="16" fill="#2b9400" />
<rect x="1055" y="512" width="3" height="3" fill="#2b9400" />
<rect x="1061" y="492" width="1" height="28" fill="#2b9400" />
<rect x="1060" y="493" width="3" height="26" fill="#2b9400" />
<rect x="1066" y="500" width="1" height="18" fill="#cc0000" />
<rect x="1065" y="500" width="3" height="16" fill="#cc0000" />
<rect x="1071" y="488" width="1" height="14" fill="#2b9400" />
<rect x="1070" y="491" width="3" height="10" fill="#2b9400" />
<rect x="1075" y="491" width="1" height="22" fill="#cc0000" />
<rect x="1074" y="491" width="3" height="10" fill="#cc0000" />
<rect x="1080" y="501" width="1" height="18" fill="#2b9400" />
<rect x="1079" y="506" width="3" height="12" fill="#2b9400" />
<rect x="1085" y="498" width="1" height="54" fill="#cc0000" />
<rect x="1084" y="501" width="3" height="32" fill="#cc0000" />
<rect x="1089" y="495" width="1" height="64" fill="#cc0000" />
<rect x="1088" y="528" width="3" height="23" fill="#cc0000" />
<rect x="1094" y="562" width="1" height="32" fill="#cc0000" />
<rect x="1093" y="565" width="3" height="15" fill="#cc0000" />
<rect x="1099" y="627" width="1" height="46" fill="#cc0000" />
<rect x="1098" y="629" width="3" height="28" fill="#cc0000" />
<rect x="1103" y="624" width="1" height="29" fill="#2b9400" />
<rect x="1102" y="627" width="3" height="9" fill="#2b9400" />
<rect x="1108" y="614" width="1" height="49" fill="#2b9400" />
<rect x="1107" y="619" width="3" height="32" fill="#2b9400" />
<rect x="1113" y="570" width="1" height="39" fill="#2b9400" />
<rect x="1112" y="571" width="3" height="32" fill="#2b9400" />
<rect x="1118" y="575" width="1" height="31" fill="#cc0000" />
<rect x="1117" y="579" width="3" height="14" fill="#cc0000" />
<rect x="1122" y="603" width="1" height="24" fill="#cc0000" />
<rect x="1121" y="606" width="3" height="13" fill="#cc0000" />
<rect x="1127" y="563" width="1" height="60" fill="#2b9400" />
<rect x="1126" y="577" width="3" height="46" fill="#2b9400" />
<rect x="1132" y="609" width="1" height="37" fill="#cc0000" />
<rect x="1131" y="615" width="3" height="29" fill="#cc0000" />
<rect x="1136" y="635" width="1" height="24" fill="#cc0000" />
<rect x="1135" y="639" width="3" height="7" fill="#cc0000" />
<rect x="1141" y="606" width="1" height="23" fill="#2b9400" />
<rect x="1140" y="610" width="3" height="19" fill="#2b9400" />
<rect x="1146" y="574" width="1" height="14" fill="#cc0000" />
<rect x="1145" y="579" width="3" height="2" fill="#cc0000" />
<rect x="1150" y="578" width="1" height="18" fill="#cc0000" />
<rect x="1149" y="584" width="3" height="12" fill="#cc0000" />
<rect x="1155" y="571" width="1" height="10" fill="#2b9400" />
<rect x="1154" y="576" width="3" height="1" fill="#2b9400" />
<rect x="1160" y="569" width="1" height="29" fill="#cc0000" />
<rect x="1159" y="570" width="3" height="14" fill="#cc0000" />
<rect x="1165" y="579" width="1" height="76" fill="#cc0000" />
<rect x="1164" y="596" width="3" height="54" fill="#cc0000" />
<rect x="1169" y="621" width="1" height="18" fill="#2b9400" />
<rect x="1168" y="622" width="3" height="7" fill="#2b9400" />
<rect x="1174" y="604" width="1" height="33" fill="#cc0000" />
<rect x="1173" y="606" width="3" height="23" fill="#cc0000" />
<rect x="1179" y="618" width="1" height="27" fill="#2b9400" />
<rect x="1178" y="621" width="3" height="16" fill="#2b9400" />
<rect x="1183" y="583" width="1" height="18" fill="#2b9400" />
<rect x="1182" y="589" width="3" height="8" fill="#2b9400" />
<rect x="1188" y="577" width="1" height="26" fill="#cc0000" />
<rect x="1187" y="577" width="3" height="15" fill="#cc0000" />
<rect x="1193" y="597" width="1" height="26" fill="#cc0000" />
<rect x="1192" y="608" width="3" height="8" fill="#cc0000" />
<rect x="1198" y="586" width="1" height="14" fill="#2b9400" />
<rect x="1197" y="588" width="3" height="8" fill="#2b9400" />
<rect x="1202" y="544" width="1" height="21" fill="#2b9400" />
<rect x="1201" y="549" width="3" height="16" fill="#2b9400" />
<rect x="1207" y="544" width="1" height="10" fill="#cc0000" />
<rect x="1206" y="546" width="3" height="7" fill="#cc0000" />
<rect x="1212" y="545" width="1" height="23" fill="#cc0000" />
<rect x="1211" y="545" width="3" height="12" fill="#cc0000" />
<rect x="1216" y="557" width="1" height="24" fill="#2b9400" />
<rect x="1215" y="558" width="3" height="8" fill="#2b9400" />
<rect x="1221" y="534" width="1" height="24" fill="#2b9400" />
<rect x="1220" y="535" width="3" height="22" fill="#2b9400" />
<rect x="1226" y="514" width="1" height="19" fill="#cc0000" />
<rect x="1225" y="524" width="3" height="4" fill="#cc0000" />
<rect x="1230" y="524" width="1" height="11" fill="#cc0000" />
<rect x="1229" y="528" width="3" height="5" fill="#cc0000" />
<rect x="1235" y="535" width="1" height="14" fill="#2b9400" />
<rect x="1234" y="539" width="3" height="9" fill="#2b9400" />
<rect x="1240" y="529" width="1" height="13" fill="#2b9400" />
<rect x="1239" y="530" width="3" height="11" fill="#2b9400" />
<rect x="1245" y="531" width="1" height="26" fill="#2b9400" />
<rect x="1244" y="533" width="3" height="1" fill="#2b9400" />
<rect x="1249" y="516" width="1" height="18" fill="#cc0000" />
<rect x="1248" y="528" width="3" height="3" fill="#cc0000" />
<rect x="1254" y="525" width="1" height="32" fill="#cc0000" />
<rect x="1253" y="530" width="3" height="19" fill="#cc0000" />
<rect x="1259" y="544" width="1" height="13" fill="#2b9400" />
<rect x="1258" y="550" width="3" height="3" fill="#2b9400" />
<rect x="1263" y="537" width="1" height="52" fill="#cc0000" />
<rect x="1262" y="540" width="3" height="43" fill="#cc0000" />
<rect x="1268" y="556" width="1" height="43" fill="#2b9400" />
<rect x="1267" y="560" width="3" height="23" fill="#2b9400" />
<rect x="1273" y="561" width="1" height="22" fill="#cc0000" />
<rect x="1272" y="562" width="3" height="11" fill="#cc0000" />
<rect x="1278" y="567" width="1" height="45" fill="#cc0000" />
<rect x="1277" y="568" width="3" height="30" fill="#cc0000" />
<rect x="1282" y="578" width="1" height="18" fill="#2b9400" />
<rect x="1281" y="582" width="3" height="10" fill="#2b9400" />
<rect x="1287" y="564" width="1" height="43" fill="#cc0000" />
<rect x="1286" y="574" width="3" height="32" fill="#cc0000" />
<rect x="1292" y="621" width="1" height="31" fill="#cc0000" />
<rect x="1291" y="622" width="3" height="18" fill="#cc0000" />
<rect x="1296" y="616" width="1" height="48" fill="#2b9400" />
<rect x="1295" y="617" width="3" height="23" fill="#2b9400" />
<rect x="1301" y="585" width="1" height="25" fill="#2b9400" />
<rect x="1300" y="586" width="3" height="21" fill="#2b9400" />
<rect x="1306" y="577" width="1" height="21" fill="#cc0000" />
<rect x="1305" y="589" width="3" height="4" fill="#cc0000" />
<rect x="1310" y="602" width="1" height="28" fill="#cc0000" />
<rect x="1309" y="609" width="3" height="21" fill="#cc0000" />
<rect x="1315" y="600" width="1" height="17" fill="#2b9400" />
<rect x="1314" y="608" width="3" height="3" fill="#2b9400" />
<rect x="1320" y="588" width="1" height="21" fill="#2b9400" />
<rect x="1319" y="595" width="3" height="13" fill="#2b9400" />
<rect x="1325" y="550" width="1" height="18" fill="#2b9400" />
<rect x="1324" y="566" width="3" height="2" fill="#2b9400" />
<rect x="1329" y="562" width="1" height="10" fill="#2b9400" />
<rect x="1328" y="568" width="3" height="2" fill="#2b9400" />
<rect x="1334" y="536" width="1" height="25" fill="#2b9400" />
<rect x="1333" y="541" width="3" height="20" fill="#2b9400" />
<rect x="1339" y="541" width="1" height="11" fill="#2b9400" />
<rect x="1338" y="547" width="3" height="1" fill="#2b9400" />
<rect x="1343" y="530" width="1" height="16" fill="#cc0000" />
<rect x="1342" y="532" width="3" height="6" fill="#cc0000" />
<rect x="1348" y="538" width="1" height="30" fill="#cc0000" />
<rect x="1347" y="540" width="3" height="17" fill="#cc0000" />
<rect x="1353" y="536" width="1" height="14" fill="#2b9400" />
<rect x="1352" y="537" width="3" height="6" fill="#2b9400" />
<rect x="1358" y="528" width="1" height="26" fill="#cc0000" />
<rect x="1357" y="529" width="3" height="24" fill="#cc0000" />
<rect x="1362" y="548" width="1" height="11" fill="#2b9400" />
<rect x="1361" y="548" width="3" height="8" fill="#2b9400" />
<rect x="1367" y="530" width="1" height="13" fill="#2b9400" />
<rect x="1366" y="530" width="3" height="2" fill="#2b9400" />
<rect x="1372" y="512" width="1" height="28" fill="#2b9400" />
<rect x="1371" y="515" width="3" height="25" fill="#2b9400" />
<rect x="1376" y="489" width="1" height="14" fill="#2b9400" />
<rect x="1375" y="492" width="3" height="11" fill="#2b9400" />
<rect x="1381" y="493" width="1" height="13" fill="#cc0000" />
<rect x="1380" y="495" width="3" height="10" fill="#cc0000" />
<rect x="1386" y="495" width="1" height="20" fill="#2b9400" />
<rect x="1385" y="498" width="3" height="6" fill="#2b9400" />
<rect x="1390" y="492" width="1" height="20" fill="#cc0000" />
<rect x="1389" y="494" width="3" height="7" fill="#cc0000" />
<rect x="1395" y="475" width="1" height="16" fill="#2b9400" />
<rect x="1394" y="475" width="3" height="15" fill="#2b9400" />
<rect x="1400" y="457" width="1" height="9" fill="#cc0000" />
<rect x="1399" y="458" width="3" height="4" fill="#cc0000" />
<rect x="1405" y="455" width="1" height="11" fill="#cc0000" />
<rect x="1404" y="458" width="3" height="4" fill="#cc0000" />
<rect x="1409" y="463" width="1" height="14" fill="#cc0000" />
<rect x="1408" y="464" width="3" height="5" fill="#cc0000" />
<rect x="1414" y="448" width="1" height="19" fill="#cc0000" />
<rect x="1413" y="456" width="3" height="6" fill="#cc0000" />
<rect x="1419" y="450" width="1" height="19" fill="#2b9400" />
<rect x="1418" y="451" width="3" height="15" fill="#2b9400" />
<rect x="1423" y="452" width="1" height="12" fill="#2b9400" />
<rect x="1422" y="454" width="3" height="8" fill="#2b9400" />
<rect x="1428" y="439" width="1" height="15" fill="#2b9400" />
<rect x="1427" y="448" width="3" height="4" fill="#2b9400" />
<rect x="1433" y="444" width="1" height="14" fill="#2b9400" />
<rect x="1432" y="449" width="3" height="8" fill="#2b9400" />
<rect x="1437" y="447" width="1" height="11" fill="#2b9400" />
<rect x="1436" y="450" width="3" height="5" fill="#2b9400" />
<rect x="1442" y="432" width="1" height="10" fill="#2b9400" />
<rect x="1441" y="433" width="3" height="5" fill="#2b9400" />
<rect x="1447" y="427" width="1" height="15" fill="#2b9400" />
<rect x="1446" y="430" width="3" height="6" fill="#2b9400" />
<rect x="1452" y="419" width="1" height="14" fill="#cc0000" />
<rect x="1451" y="422" width="3" height="3" fill="#cc0000" />
<rect x="1456" y="422" width="1" height="31" fill="#cc0000" />
<rect x="1455" y="431" width="3" height="6" fill="#cc0000" />
<rect x="1461" y="435" width="1" height="12" fill="#cc0000" />
<rect x="1460" y="436" width="3" height="6" fill="#cc0000" />
<rect x="1466" y="434" width="1" height="17" fill="#cc0000" />
<rect x="1465" y="435" width="3" height="4" fill="#cc0000" />
<rect x="1470" y="407" width="1" height="21" fill="#2b9400" />
<rect x="1469" y="408" width="3" height="20" fill="#2b9400" />
<rect x="1475" y="399" width="1" height="11" fill="#2b9400" />
<rect x="1474" y="403" width="3" height="4" fill="#2b9400" />
<rect x="1480" y="387" width="1" height="13" fill="#2b9400" />
<rect x="1479" y="388" width="3" height="10" fill="#2b9400" />
<rect x="1485" y="389" width="1" height="10" fill="#cc0000" />
<rect x="1484" y="393" width="3" height="6" fill="#cc0000" />
<rect x="1489" y="396" width="1" height="36" fill="#cc0000" />
<rect x="1488" y="396" width="3" height="29" fill="#cc0000" />
<rect x="1494" y="437" width="1" height="24" fill="#2b9400" />
<rect x="1493" y="438" width="3" height="16" fill="#2b9400" />
<rect x="1499" y="421" width="1" height="9" fill="#2b9400" />
<rect x="1498" y="426" width="3" height="3" fill="#2b9400" />
<rect x="1503" y="419" width="1" height="13" fill="#cc0000" />
<rect x="1502" y="420" width="3" height="5" fill="#cc0000" />
<rect x="1508" y="398" width="1" height="10" fill="#2b9400" />
<rect x="1507" y="401" width="3" height="6" fill="#2b9400" />
<rect x="1513" y="394" width="1" height="17" fill="#cc0000" />
<rect x="1512" y="402" width="3" height="9" fill="#cc0000" />
<rect x="1517" y="402" width="1" height="15" fill="#cc0000" />
<rect x="1516" y="409" width="3" height="3" fill="#cc0000" />
<rect x="1522" y="401" width="1" height="9" fill="#2b9400" />
<rect x="1521" y="402" width="3" height="6" fill="#2b9400" />
<rect x="1527" y="376" width="1" height="32" fill="#2b9400" />
<rect x="1526" y="384" width="3" height="20" fill="#2b9400" />
<rect x="1532" y="369" width="1" height="21" fill="#2b9400" />
<rect x="1531" y="379" width="3" height="7" fill="#2b9400" />
<rect x="1536" y="352" width="1" height="13" fill="#2b9400" />
<rect x="1535" y="358" width="3" height="6" fill="#2b9400" />
<rect x="1541" y="353" width="1" height="8" fill="#cc0000" />
<rect x="1540" y="353" width="3" height="2" fill="#cc0000" />
<rect x="1546" y="347" width="1" height="9" fill="#cc0000" />
<rect x="1545" y="351" width="3" height="3" fill="#cc0000" />
<rect x="1550" y="337" width="1" height="14" fill="#2b9400" />
<rect x="1549" y="338" width="3" height="13" fill="#2b9400" />
<rect x="1555" y="325" width="1" height="9" fill="#2b9400" />
<rect x="1554" y="327" width="3" height="4" fill="#2b9400" />
<rect x="1560" y="318" width="1" height="7" fill="#cc0000" />
<rect x="1559" y="320" width="3" height="2" fill="#cc0000" />
<rect x="1565" y="318" width="1" height="7" fill="#cc0000" />
<rect x="1564" y="319" width="3" height="1" fill="#cc0000" />
<rect x="1569" y="300" width="1" height="16" fill="#2b9400" />
<rect x="1568" y="300" width="3" height="15" fill="#2b9400" />
</g>
<polyline points="972.7,600.5 977.4,597.0 982.1,591.2 986.8,584.4 991.5,580.2 996.2,575.1 1000.9,572.1 1005.6,570.3 1010.3,566.5 1015.0,557.8 1019.8,549.9 1024.5,542.3 1029.2,535.4 1033.9,531.8 1038.6,529.7 1043.3,528.7 1048.0,529.1 1052.7,526.2 1057.4,523.2 1062.1,519.9 1066.8,518.8 1071.5,516.4 1076.2,515.4 1080.9,514.0 1085.6,514.3 1090.3,516.9 1095.0,520.9 1099.7,534.0 1104.4,545.5 1109.1,558.1 1113.9,563.6 1118.6,573.8 1123.3,585.6 1128.0,592.6 1132.7,603.7 1137.4,613.1 1142.1,616.1 1146.8,608.5 1151.5,605.3 1156.2,601.0 1160.9,602.3 1165.6,608.0 1170.3,608.3 1175.0,613.5 1179.7,611.2 1184.4,605.5 1189.1,603.7 1193.8,607.2 1198.5,606.5 1203.2,603.8 1208.0,600.7 1212.7,591.5 1217.4,585.2 1222.1,575.8 1226.8,566.5 1231.5,560.9 1236.2,555.7 1240.9,547.1 1245.6,541.6 1250.3,539.8 1255.0,539.4 1259.7,538.7 1264.4,541.2 1269.1,543.7 1273.8,548.2 1278.5,554.7 1283.2,558.9 1287.9,566.6 1292.6,577.3 1297.3,585.9 1302.1,589.6 1306.8,593.9 1311.5,598.6 1316.2,603.3 1320.9,605.5 1325.6,602.3 1330.3,600.9 1335.0,594.3 1339.7,585.0 1344.4,577.2 1349.1,574.3 1353.8,568.6 1358.5,560.9 1363.2,554.9 1367.9,548.5 1372.6,543.4 1377.3,535.7 1382.0,532.2 1386.7,527.3 1391.4,523.6 1396.2,515.4 1400.9,508.0 1405.6,498.9 1410.3,490.9 1415.0,484.1 1419.7,477.7 1424.4,473.9 1429.1,468.1 1433.8,463.2 1438.5,458.1 1443.2,453.9 1447.9,450.7 1452.6,446.9 1457.3,443.7 1462.0,441.8 1466.7,440.5 1471.4,435.9 1476.1,431.5 1480.8,425.3 1485.5,420.2 1490.2,419.5 1495.0,420.3 1499.7,420.4 1504.4,419.2 1509.1,415.1 1513.8,412.2 1518.5,412.7 1523.2,412.5 1527.9,412.2 1532.6,410.3 1537.3,403.5 1542.0,395.2 1546.7,388.0 1551.4,379.3 1556.1,372.0 1560.8,363.1 1565.5,353.8 1570.2,343.7" fill="none" stroke="#3ba011" stroke-width="1.12" stroke-linejoin="round" />
<polyline points="972.7,619.9 977.4,620.1 982.1,620.0 986.8,619.5 991.5,619.0 996.2,618.7 1000.9,618.4 1005.6,618.5 1010.3,618.5 1015.0,618.3 1019.8,617.7 1024.5,616.7 1029.2,615.5 1033.9,615.1 1038.6,614.8 1043.3,613.5 1048.0,612.3 1052.7,610.7 1057.4,608.9 1062.1,605.2 1066.8,602.4 1071.5,599.6 1076.2,597.5 1080.9,594.9 1085.6,592.3 1090.3,590.6 1095.0,589.2 1099.7,588.6 1104.4,587.5 1109.1,586.1 1113.9,583.4 1118.6,581.3 1123.3,579.0 1128.0,575.3 1132.7,573.9 1137.4,572.9 1142.1,571.3 1146.8,569.9 1151.5,569.2 1156.2,568.1 1160.9,567.0 1165.6,567.5 1170.3,567.2 1175.0,567.3 1179.7,567.8 1184.4,567.9 1189.1,568.4 1193.8,569.2 1198.5,569.4 1203.2,568.1 1208.0,567.1 1212.7,566.4 1217.4,566.0 1222.1,565.5 1226.8,565.1 1231.5,565.0 1236.2,565.1 1240.9,564.6 1245.6,564.4 1250.3,564.5 1255.0,564.9 1259.7,565.7 1264.4,567.1 1269.1,567.9 1273.8,568.8 1278.5,570.2 1283.2,571.1 1287.9,572.7 1292.6,575.2 1297.3,577.7 1302.1,579.1 1306.8,581.2 1311.5,583.8 1316.2,585.8 1320.9,587.0 1325.6,587.3 1330.3,587.1 1335.0,584.7 1339.7,583.1 1344.4,581.5 1349.1,581.3 1353.8,580.1 1358.5,578.8 1363.2,578.2 1367.9,576.0 1372.6,573.4 1377.3,571.0 1382.0,569.5 1386.7,567.5 1391.4,566.0 1396.2,563.9 1400.9,560.1 1405.6,556.9 1410.3,553.7 1415.0,550.6 1419.7,547.8 1424.4,545.0 1429.1,541.7 1433.8,538.9 1438.5,536.9 1443.2,534.5 1447.9,532.0 1452.6,529.3 1457.3,527.3 1462.0,525.6 1466.7,523.7 1471.4,521.1 1476.1,518.6 1480.8,515.7 1485.5,513.0 1490.2,510.5 1495.0,508.3 1499.7,505.1 1504.4,502.4 1509.1,499.0 1513.8,495.2 1518.5,491.8 1523.2,487.7 1527.9,482.6 1532.6,477.9 1537.3,473.3 1542.0,468.5 1546.7,463.0 1551.4,457.6 1556.1,452.3 1560.8,447.4 1565.5,442.4 1570.2,437.6" fill="none" stroke="#1c3f9e" stroke-width="1.12" stroke-linejoin="round" />
<polyline points="972.0,715.5 990.3,715.0 1017.0,713.3 1047.0,712.0 1067.0,710.0 1095.3,704.2 1135.0,698.3 1175.3,692.5 1188.7,690.0 1208.7,685.0 1233.7,675.8 1263.7,669.2 1280.0,665.0 1296.4,660.6 1314.4,652.8 1331.6,645.8 1342.5,640.3 1356.6,634.4 1376.9,627.5 1393.6,620.8 1409.7,615.3 1433.1,604.7 1448.8,598.9 1467.5,591.9 1481.6,586.4 1498.8,581.7 1523.8,573.9 1537.8,568.4 1559.7,559.8 1570.6,556.3" fill="none" stroke="#3a3a3a" stroke-width="1.1" stroke-linejoin="round" />
<g class="c">
<rect x="9" y="819" width="1" height="18" fill="#006a00" />
<rect x="13" y="824" width="1" height="13" fill="#006a00" />
<rect x="18" y="825" width="1" height="12" fill="#006a00" />
<rect x="23" y="822" width="1" height="15" fill="#00e400" />
<rect x="28" y="820" width="1" height="17" fill="#00e400" />
<rect x="32" y="816" width="1" height="21" fill="#00e400" />
<rect x="37" y="816" width="1" height="21" fill="#006a00" />
<rect x="42" y="821" width="1" height="16" fill="#006a00" />
<rect x="46" y="825" width="1" height="12" fill="#006a00" />
<rect x="51" y="826" width="1" height="11" fill="#006a00" />
<rect x="56" y="827" width="1" height="10" fill="#006a00" />
<rect x="60" y="826" width="1" height="11" fill="#00e400" />
<rect x="65" y="827" width="1" height="10" fill="#006a00" />
<rect x="70" y="831" width="1" height="6" fill="#006a00" />
<rect x="75" y="837" width="1" height="1" fill="#ff0000" />
<rect x="79" y="837" width="1" height="4" fill="#ff0000" />
<rect x="84" y="837" width="1" height="11" fill="#ff0000" />
<rect x="89" y="837" width="1" height="13" fill="#ff0000" />
<rect x="93" y="837" width="1" height="11" fill="#800000" />
<rect x="98" y="837" width="1" height="7" fill="#800000" />
<rect x="103" y="837" width="1" height="8" fill="#ff0000" />
<rect x="108" y="837" width="1" height="5" fill="#800000" />
<rect x="112" y="837" width="1" height="4" fill="#800000" />
<rect x="117" y="837" width="1" height="6" fill="#ff0000" />
<rect x="122" y="837" width="1" height="14" fill="#ff0000" />
<rect x="126" y="837" width="1" height="23" fill="#ff0000" />
<rect x="131" y="837" width="1" height="33" fill="#ff0000" />
<rect x="136" y="837" width="1" height="55" fill="#ff0000" />
<rect x="140" y="837" width="1" height="59" fill="#ff0000" />
<rect x="145" y="837" width="1" height="58" fill="#800000" />
<rect x="150" y="837" width="1" height="44" fill="#800000" />
<rect x="155" y="837" width="1" height="37" fill="#800000" />
<rect x="159" y="837" width="1" height="38" fill="#ff0000" />
<rect x="164" y="837" width="1" height="27" fill="#800000" />
<rect x="169" y="837" width="1" height="36" fill="#ff0000" />
<rect x="173" y="837" width="1" height="38" fill="#ff0000" />
<rect x="178" y="837" width="1" height="29" fill="#800000" />
<rect x="183" y="837" width="1" height="15" fill="#800000" />
<rect x="187" y="837" width="1" height="9" fill="#800000" />
<rect x="197" y="831" width="1" height="6" fill="#00e400" />
<rect x="202" y="837" width="1" height="5" fill="#ff0000" />
<rect x="206" y="837" width="1" height="5" fill="#ff0000" />
<rect x="211" y="837" width="1" height="6" fill="#ff0000" />
<rect x="216" y="837" width="1" height="2" fill="#800000" />
<rect x="220" y="829" width="1" height="8" fill="#00e400" />
<rect x="225" y="823" width="1" height="14" fill="#00e400" />
<rect x="230" y="823" width="1" height="14" fill="#006a00" />
<rect x="235" y="817" width="1" height="20" fill="#00e400" />
<rect x="239" y="807" width="1" height="30" fill="#00e400" />
<rect x="244" y="801" width="1" height="36" fill="#00e400" />
<rect x="249" y="800" width="1" height="37" fill="#00e400" />
<rect x="253" y="800" width="1" height="37" fill="#006a00" />
<rect x="258" y="798" width="1" height="39" fill="#00e400" />
<rect x="263" y="798" width="1" height="39" fill="#00e400" />
<rect x="267" y="800" width="1" height="37" fill="#006a00" />
<rect x="272" y="805" width="1" height="32" fill="#006a00" />
<rect x="277" y="809" width="1" height="28" fill="#006a00" />
<rect x="282" y="813" width="1" height="24" fill="#006a00" />
<rect x="286" y="817" width="1" height="20" fill="#006a00" />
<rect x="291" y="824" width="1" height="13" fill="#006a00" />
<rect x="296" y="830" width="1" height="7" fill="#006a00" />
<rect x="300" y="837" width="1" height="2" fill="#ff0000" />
<rect x="305" y="837" width="1" height="5" fill="#ff0000" />
<rect x="310" y="837" width="1" height="8" fill="#ff0000" />
<rect x="315" y="837" width="1" height="13" fill="#ff0000" />
<rect x="319" y="837" width="1" height="14" fill="#ff0000" />
<rect x="324" y="837" width="1" height="20" fill="#ff0000" />
<rect x="329" y="837" width="1" height="34" fill="#ff0000" />
<rect x="333" y="837" width="1" height="37" fill="#ff0000" />
<rect x="338" y="837" width="1" height="29" fill="#800000" />
<rect x="343" y="837" width="1" height="25" fill="#800000" />
<rect x="347" y="837" width="1" height="30" fill="#ff0000" />
<rect x="352" y="837" width="1" height="27" fill="#800000" />
<rect x="357" y="837" width="1" height="20" fill="#800000" />
<rect x="362" y="837" width="1" height="8" fill="#800000" />
<rect x="366" y="837" width="1" height="1" fill="#800000" />
<rect x="371" y="828" width="1" height="9" fill="#00e400" />
<rect x="376" y="823" width="1" height="14" fill="#00e400" />
<rect x="380" y="819" width="1" height="18" fill="#00e400" />
<rect x="385" y="820" width="1" height="17" fill="#006a00" />
<rect x="390" y="817" width="1" height="20" fill="#00e400" />
<rect x="395" y="819" width="1" height="18" fill="#006a00" />
<rect x="399" y="819" width="1" height="18" fill="#006a00" />
<rect x="404" y="820" width="1" height="17" fill="#006a00" />
<rect x="409" y="819" width="1" height="18" fill="#00e400" />
<rect x="413" y="816" width="1" height="21" fill="#00e400" />
<rect x="418" y="816" width="1" height="21" fill="#006a00" />
<rect x="423" y="816" width="1" height="21" fill="#00e400" />
<rect x="427" y="819" width="1" height="18" fill="#006a00" />
<rect x="432" y="817" width="1" height="20" fill="#00e400" />
<rect x="437" y="815" width="1" height="22" fill="#00e400" />
<rect x="442" y="816" width="1" height="21" fill="#006a00" />
<rect x="446" y="818" width="1" height="19" fill="#006a00" />
<rect x="451" y="819" width="1" height="18" fill="#006a00" />
<rect x="456" y="820" width="1" height="17" fill="#006a00" />
<rect x="460" y="823" width="1" height="14" fill="#006a00" />
<rect x="465" y="826" width="1" height="11" fill="#006a00" />
<rect x="470" y="829" width="1" height="8" fill="#006a00" />
<rect x="474" y="831" width="1" height="6" fill="#006a00" />
<rect x="479" y="829" width="1" height="8" fill="#00e400" />
<rect x="484" y="829" width="1" height="8" fill="#00e400" />
<rect x="489" y="830" width="1" height="7" fill="#006a00" />
<rect x="493" y="835" width="1" height="2" fill="#006a00" />
<rect x="498" y="837" width="1" height="2" fill="#ff0000" />
<rect x="503" y="837" width="1" height="5" fill="#ff0000" />
<rect x="507" y="837" width="1" height="2" fill="#800000" />
<rect x="517" y="834" width="1" height="3" fill="#00e400" />
<rect x="522" y="836" width="1" height="1" fill="#006a00" />
<rect x="526" y="837" width="1" height="6" fill="#ff0000" />
<rect x="531" y="837" width="1" height="15" fill="#ff0000" />
<rect x="536" y="837" width="1" height="17" fill="#ff0000" />
<rect x="540" y="837" width="1" height="17" fill="#ff0000" />
<rect x="545" y="837" width="1" height="12" fill="#800000" />
<rect x="550" y="837" width="1" height="10" fill="#800000" />
<rect x="554" y="837" width="1" height="10" fill="#800000" />
<rect x="559" y="837" width="1" height="8" fill="#800000" />
<rect x="564" y="837" width="1" height="2" fill="#800000" />
<rect x="569" y="836" width="1" height="1" fill="#00e400" />
<rect x="573" y="831" width="1" height="6" fill="#00e400" />
<rect x="578" y="828" width="1" height="9" fill="#00e400" />
<rect x="583" y="827" width="1" height="10" fill="#00e400" />
<rect x="587" y="826" width="1" height="11" fill="#00e400" />
<rect x="592" y="823" width="1" height="14" fill="#00e400" />
<rect x="597" y="822" width="1" height="15" fill="#00e400" />
<rect x="602" y="823" width="1" height="14" fill="#006a00" />
<rect x="606" y="823" width="1" height="14" fill="#00e400" />
<rect x="5" y="837" width="842" height="1" fill="#8a10b8" />
</g>
<polyline points="9.7,788.7 14.4,785.3 19.1,782.2 23.8,778.4 28.5,774.2 33.2,768.9 37.9,763.6 42.6,759.6 47.3,756.4 52.0,753.6 56.8,751.0 61.5,748.1 66.2,745.5 70.9,743.8 75.6,744.0 80.3,745.0 85.0,747.6 89.7,750.9 94.4,753.6 99.1,755.3 103.8,757.3 108.5,758.5 113.2,759.5 117.9,760.9 122.6,764.2 127.3,769.9 132.0,778.1 136.7,791.7 141.4,806.3 146.1,820.8 150.8,831.8 155.6,841.0 160.3,850.3 165.0,857.1 169.7,866.0 174.4,875.4 179.1,882.5 183.8,886.1 188.5,888.2 193.2,888.1 197.9,886.5 202.6,887.6 207.3,888.8 212.0,890.1 216.7,890.6 221.4,888.6 226.1,885.0 230.8,881.3 235.5,876.3 240.2,868.7 244.9,859.7 249.7,850.3 254.4,841.1 259.1,831.4 263.8,821.5 268.5,812.1 273.2,804.1 277.9,797.1 282.6,791.0 287.3,786.1 292.0,782.8 296.7,781.0 301.4,781.5 306.1,782.6 310.8,784.6 315.5,787.9 320.2,791.2 324.9,796.2 329.6,804.6 334.3,813.7 339.1,820.8 343.8,827.0 348.5,834.4 353.2,841.0 357.9,845.9 362.6,847.8 367.3,848.0 372.0,845.6 376.7,842.1 381.4,837.5 386.1,833.2 390.8,828.2 395.5,823.6 400.2,819.2 404.9,814.8 409.6,810.1 414.3,804.8 419.0,799.6 423.7,794.3 428.4,789.7 433.1,784.6 437.9,779.0 442.6,773.6 447.3,768.8 452.0,764.3 456.7,760.0 461.4,756.5 466.1,753.7 470.8,751.5 475.5,750.0 480.2,747.9 484.9,745.8 489.6,744.0 494.3,743.4 499.0,743.9 503.7,745.0 508.4,745.5 513.1,745.5 517.8,744.7 522.5,744.4 527.2,745.8 532.0,749.5 536.7,753.6 541.4,757.8 546.1,760.6 550.8,763.0 555.5,765.4 560.2,767.5 564.9,768.0 569.6,767.7 574.3,766.0 579.0,763.6 583.7,761.2 588.4,758.3 593.1,754.7 597.8,751.0 602.5,747.5 607.2,743.9" fill="none" stroke="#b03a3a" stroke-width="1.1" stroke-linejoin="round" />
<polyline points="9.7,770.5 14.4,771.9 19.1,769.6 23.8,763.3 28.5,757.1 33.2,747.7 37.9,742.7 42.6,743.3 47.3,743.9 52.0,742.3 56.8,740.5 61.5,736.8 66.2,735.0 70.9,737.2 75.6,744.7 80.3,749.1 85.0,758.0 89.7,763.8 94.4,764.4 99.1,762.2 103.8,765.2 108.5,763.1 113.2,763.5 117.9,766.4 122.6,777.4 127.3,793.1 132.0,811.0 136.7,846.1 141.4,864.7 146.1,878.5 150.8,875.9 155.6,878.0 160.3,887.6 165.0,884.3 169.7,901.7 174.4,912.9 179.1,911.0 183.8,900.4 188.5,896.8 193.2,887.6 197.9,880.2 202.6,892.0 207.3,893.2 212.0,895.7 216.7,892.5 221.4,880.6 226.1,870.3 230.8,866.8 235.5,856.1 240.2,838.4 244.9,823.9 249.7,812.7 254.4,804.0 259.1,792.5 263.8,781.9 268.5,774.7 273.2,772.1 277.9,768.9 282.6,766.9 287.3,766.2 292.0,769.9 296.7,773.7 301.4,783.4 306.1,787.2 310.8,792.5 315.5,801.0 320.2,804.4 324.9,816.2 329.6,838.3 334.3,850.0 339.1,849.2 343.8,851.6 348.5,864.2 353.2,867.5 357.9,865.3 362.6,855.6 367.3,848.7 372.0,836.2 376.7,827.8 381.4,819.4 386.1,815.8 390.8,808.3 395.5,805.3 400.2,801.3 404.9,797.3 409.6,791.6 414.3,783.6 419.0,778.6 423.7,773.0 428.4,771.5 433.1,764.1 437.9,756.5 442.6,752.2 447.3,749.4 452.0,746.1 456.7,742.8 461.4,742.6 466.1,742.5 470.8,742.9 475.5,743.7 480.2,739.7 484.9,737.3 489.6,737.0 494.3,740.7 499.0,745.9 503.7,749.4 508.4,747.5 513.1,745.5 517.8,741.8 522.5,743.0 527.2,751.5 532.0,764.1 536.7,770.1 541.4,774.4 546.1,771.8 550.8,772.8 555.5,775.2 560.2,775.6 564.9,770.1 569.6,766.6 574.3,759.2 579.0,754.1 583.7,751.4 588.4,746.8 593.1,740.5 597.8,736.0 602.5,733.7 607.2,729.2" fill="none" stroke="#3c3c3c" stroke-width="1.1" stroke-linejoin="round" />
<g class="c">
<rect x="972" y="842" width="1" height="18" fill="#006a00" />
<rect x="976" y="844" width="1" height="16" fill="#006a00" />
<rect x="981" y="845" width="1" height="15" fill="#006a00" />
<rect x="986" y="843" width="1" height="17" fill="#00e400" />
<rect x="991" y="841" width="1" height="19" fill="#00e400" />
<rect x="995" y="839" width="1" height="21" fill="#00e400" />
<rect x="1000" y="839" width="1" height="21" fill="#006a00" />
<rect x="1005" y="844" width="1" height="16" fill="#006a00" />
<rect x="1009" y="846" width="1" height="14" fill="#006a00" />
<rect x="1014" y="846" width="1" height="14" fill="#00e400" />
<rect x="1019" y="847" width="1" height="13" fill="#006a00" />
<rect x="1023" y="847" width="1" height="13" fill="#00e400" />
<rect x="1028" y="847" width="1" height="13" fill="#006a00" />
<rect x="1033" y="851" width="1" height="9" fill="#006a00" />
<rect x="1038" y="856" width="1" height="4" fill="#006a00" />
<rect x="1042" y="859" width="1" height="1" fill="#006a00" />
<rect x="1047" y="860" width="1" height="5" fill="#ff0000" />
<rect x="1052" y="860" width="1" height="6" fill="#ff0000" />
<rect x="1056" y="860" width="1" height="4" fill="#800000" />
<rect x="1066" y="860" width="1" height="3" fill="#ff0000" />
<rect x="1075" y="860" width="1" height="1" fill="#ff0000" />
<rect x="1080" y="860" width="1" height="3" fill="#ff0000" />
<rect x="1085" y="860" width="1" height="10" fill="#ff0000" />
<rect x="1089" y="860" width="1" height="17" fill="#ff0000" />
<rect x="1094" y="860" width="1" height="27" fill="#ff0000" />
<rect x="1099" y="860" width="1" height="46" fill="#ff0000" />
<rect x="1103" y="860" width="1" height="51" fill="#ff0000" />
<rect x="1108" y="860" width="1" height="50" fill="#800000" />
<rect x="1113" y="860" width="1" height="38" fill="#800000" />
<rect x="1118" y="860" width="1" height="32" fill="#800000" />
<rect x="1122" y="860" width="1" height="32" fill="#800000" />
<rect x="1127" y="860" width="1" height="23" fill="#800000" />
<rect x="1132" y="860" width="1" height="27" fill="#ff0000" />
<rect x="1136" y="860" width="1" height="29" fill="#ff0000" />
<rect x="1141" y="860" width="1" height="22" fill="#800000" />
<rect x="1146" y="860" width="1" height="11" fill="#800000" />
<rect x="1150" y="860" width="1" height="5" fill="#800000" />
<rect x="1155" y="858" width="1" height="2" fill="#00e400" />
<rect x="1160" y="854" width="1" height="6" fill="#00e400" />
<rect x="1165" y="860" width="1" height="4" fill="#ff0000" />
<rect x="1169" y="860" width="1" height="5" fill="#ff0000" />
<rect x="1174" y="860" width="1" height="6" fill="#ff0000" />
<rect x="1179" y="860" width="1" height="4" fill="#800000" />
<rect x="1183" y="857" width="1" height="3" fill="#00e400" />
<rect x="1188" y="852" width="1" height="8" fill="#00e400" />
<rect x="1193" y="854" width="1" height="6" fill="#006a00" />
<rect x="1198" y="850" width="1" height="10" fill="#00e400" />
<rect x="1202" y="841" width="1" height="19" fill="#00e400" />
<rect x="1207" y="836" width="1" height="24" fill="#00e400" />
<rect x="1212" y="835" width="1" height="25" fill="#00e400" />
<rect x="1216" y="836" width="1" height="24" fill="#006a00" />
<rect x="1221" y="833" width="1" height="27" fill="#00e400" />
<rect x="1226" y="832" width="1" height="28" fill="#00e400" />
<rect x="1230" y="833" width="1" height="27" fill="#006a00" />
<rect x="1235" y="837" width="1" height="23" fill="#006a00" />
<rect x="1240" y="838" width="1" height="22" fill="#006a00" />
<rect x="1245" y="841" width="1" height="19" fill="#006a00" />
<rect x="1249" y="844" width="1" height="16" fill="#006a00" />
<rect x="1254" y="850" width="1" height="10" fill="#006a00" />
<rect x="1259" y="855" width="1" height="5" fill="#006a00" />
<rect x="1263" y="860" width="1" height="5" fill="#ff0000" />
<rect x="1268" y="860" width="1" height="6" fill="#ff0000" />
<rect x="1273" y="860" width="1" height="10" fill="#ff0000" />
<rect x="1278" y="860" width="1" height="16" fill="#ff0000" />
<rect x="1282" y="860" width="1" height="17" fill="#ff0000" />
<rect x="1287" y="860" width="1" height="21" fill="#ff0000" />
<rect x="1292" y="860" width="1" height="28" fill="#ff0000" />
<rect x="1296" y="860" width="1" height="27" fill="#800000" />
<rect x="1301" y="860" width="1" height="20" fill="#800000" />
<rect x="1306" y="860" width="1" height="15" fill="#800000" />
<rect x="1310" y="860" width="1" height="18" fill="#ff0000" />
<rect x="1315" y="860" width="1" height="15" fill="#800000" />
<rect x="1320" y="860" width="1" height="9" fill="#800000" />
<rect x="1329" y="854" width="1" height="6" fill="#00e400" />
<rect x="1334" y="846" width="1" height="14" fill="#00e400" />
<rect x="1339" y="842" width="1" height="18" fill="#00e400" />
<rect x="1343" y="839" width="1" height="21" fill="#00e400" />
<rect x="1348" y="842" width="1" height="18" fill="#006a00" />
<rect x="1353" y="841" width="1" height="19" fill="#00e400" />
<rect x="1358" y="844" width="1" height="16" fill="#006a00" />
<rect x="1362" y="846" width="1" height="14" fill="#006a00" />
<rect x="1367" y="845" width="1" height="15" fill="#00e400" />
<rect x="1372" y="842" width="1" height="18" fill="#00e400" />
<rect x="1376" y="837" width="1" height="23" fill="#00e400" />
<rect x="1381" y="838" width="1" height="22" fill="#006a00" />
<rect x="1386" y="839" width="1" height="21" fill="#006a00" />
<rect x="1390" y="841" width="1" height="19" fill="#006a00" />
<rect x="1395" y="839" width="1" height="21" fill="#00e400" />
<rect x="1400" y="837" width="1" height="23" fill="#00e400" />
<rect x="1405" y="837" width="1" height="23" fill="#006a00" />
<rect x="1409" y="840" width="1" height="20" fill="#006a00" />
<rect x="1414" y="843" width="1" height="17" fill="#006a00" />
<rect x="1419" y="843" width="1" height="17" fill="#006a00" />
<rect x="1423" y="846" width="1" height="14" fill="#006a00" />
<rect x="1428" y="848" width="1" height="12" fill="#006a00" />
<rect x="1433" y="851" width="1" height="9" fill="#006a00" />
<rect x="1437" y="854" width="1" height="6" fill="#006a00" />
<rect x="1442" y="853" width="1" height="7" fill="#00e400" />
<rect x="1447" y="854" width="1" height="6" fill="#006a00" />
<rect x="1452" y="854" width="1" height="6" fill="#006a00" />
<rect x="1456" y="858" width="1" height="2" fill="#006a00" />
<rect x="1461" y="860" width="1" height="2" fill="#ff0000" />
<rect x="1466" y="860" width="1" height="4" fill="#ff0000" />
<rect x="1470" y="860" width="1" height="1" fill="#800000" />
<rect x="1475" y="858" width="1" height="2" fill="#00e400" />
<rect x="1480" y="855" width="1" height="5" fill="#00e400" />
<rect x="1485" y="856" width="1" height="4" fill="#006a00" />
<rect x="1489" y="860" width="1" height="2" fill="#ff0000" />
<rect x="1494" y="860" width="1" height="9" fill="#ff0000" />
<rect x="1499" y="860" width="1" height="11" fill="#ff0000" />
<rect x="1503" y="860" width="1" height="13" fill="#ff0000" />
<rect x="1508" y="860" width="1" height="9" fill="#800000" />
<rect x="1513" y="860" width="1" height="9" fill="#800000" />
<rect x="1517" y="860" width="1" height="9" fill="#ff0000" />
<rect x="1522" y="860" width="1" height="8" fill="#800000" />
<rect x="1527" y="860" width="1" height="4" fill="#800000" />
<rect x="1532" y="860" width="1" height="1" fill="#800000" />
<rect x="1536" y="855" width="1" height="5" fill="#00e400" />
<rect x="1541" y="852" width="1" height="8" fill="#00e400" />
<rect x="1546" y="851" width="1" height="9" fill="#00e400" />
<rect x="1550" y="849" width="1" height="11" fill="#00e400" />
<rect x="1555" y="846" width="1" height="14" fill="#00e400" />
<rect x="1560" y="845" width="1" height="15" fill="#00e400" />
<rect x="1565" y="846" width="1" height="14" fill="#006a00" />
<rect x="1569" y="844" width="1" height="16" fill="#00e400" />
<rect x="968" y="859" width="842" height="1" fill="#8a10b8" />
</g>
<polyline points="972.7,832.9 977.4,829.1 982.1,825.5 986.8,821.2 991.5,816.6 996.2,811.4 1000.9,806.2 1005.6,802.3 1010.3,799.0 1015.0,795.6 1019.8,792.5 1024.5,789.3 1029.2,786.3 1033.9,784.1 1038.6,783.2 1043.3,783.0 1048.0,784.2 1052.7,785.7 1057.4,786.9 1062.1,787.1 1066.8,787.9 1071.5,788.0 1076.2,788.3 1080.9,789.2 1085.6,791.7 1090.3,796.1 1095.0,802.9 1099.7,814.5 1104.4,827.2 1109.1,839.8 1113.9,849.3 1118.6,857.5 1123.3,865.6 1128.0,871.4 1132.7,878.3 1137.4,885.7 1142.1,891.3 1146.8,894.1 1151.5,895.5 1156.2,895.1 1160.9,893.8 1165.6,894.9 1170.3,896.2 1175.0,897.7 1179.7,898.8 1184.4,898.1 1189.1,896.3 1193.8,895.0 1198.5,892.6 1203.2,887.9 1208.0,882.1 1212.7,876.0 1217.4,870.1 1222.1,863.5 1226.8,856.6 1231.5,849.9 1236.2,844.1 1240.9,838.8 1245.6,834.3 1250.3,830.4 1255.0,828.1 1259.7,826.9 1264.4,828.2 1269.1,829.9 1273.8,832.4 1278.5,836.6 1283.2,840.8 1287.9,846.0 1292.6,853.2 1297.3,860.2 1302.1,865.2 1306.8,869.1 1311.5,873.8 1316.2,877.6 1320.9,880.1 1325.6,880.2 1330.3,878.8 1335.0,875.4 1339.7,871.1 1344.4,866.0 1349.1,861.6 1353.8,856.8 1358.5,852.9 1363.2,849.4 1367.9,845.7 1372.6,841.3 1377.3,835.7 1382.0,830.4 1386.7,825.1 1391.4,820.5 1396.2,815.4 1400.9,809.8 1405.6,804.2 1410.3,799.4 1415.0,795.1 1419.7,791.1 1424.4,787.7 1429.1,784.8 1433.8,782.6 1438.5,781.1 1443.2,779.5 1447.9,778.1 1452.6,776.7 1457.3,776.2 1462.0,776.8 1466.7,777.9 1471.4,778.1 1476.1,777.8 1480.8,776.6 1485.5,775.6 1490.2,776.2 1495.0,778.5 1499.7,781.4 1504.4,784.7 1509.1,787.0 1513.8,789.4 1518.5,791.8 1523.2,793.8 1527.9,794.8 1532.6,795.0 1537.3,793.9 1542.0,792.1 1546.7,790.0 1551.4,787.2 1556.1,783.9 1560.8,780.3 1565.5,776.8 1570.2,772.9" fill="none" stroke="#b03a3a" stroke-width="1.1" stroke-linejoin="round" />
<polyline points="972.7,815.1 977.4,813.9 982.1,811.1 986.8,804.2 991.5,798.2 996.2,790.4 1000.9,785.6 1005.6,786.7 1010.3,785.6 1015.0,781.8 1019.8,780.2 1024.5,776.7 1029.2,774.1 1033.9,775.3 1038.6,779.5 1043.3,782.3 1048.0,789.2 1052.7,791.8 1057.4,791.7 1062.1,787.9 1066.8,791.0 1071.5,788.4 1076.2,789.6 1080.9,792.5 1085.6,801.7 1090.3,813.6 1095.0,830.2 1099.7,860.9 1104.4,878.3 1109.1,889.8 1113.9,887.4 1118.6,890.3 1123.3,898.2 1128.0,894.3 1132.7,906.1 1137.4,915.2 1142.1,913.7 1146.8,905.1 1151.5,901.3 1156.2,893.4 1160.9,888.6 1165.6,899.5 1170.3,901.2 1175.0,903.7 1179.7,903.4 1184.4,895.3 1189.1,889.2 1193.8,889.6 1198.5,883.2 1203.2,869.1 1208.0,858.8 1212.7,851.8 1217.4,846.5 1222.1,837.2 1226.8,828.6 1231.5,823.3 1236.2,821.1 1240.9,817.7 1245.6,816.1 1250.3,815.0 1255.0,818.7 1259.7,822.4 1264.4,833.2 1269.1,836.7 1273.8,842.6 1278.5,853.1 1283.2,857.7 1287.9,867.0 1292.6,882.0 1297.3,888.0 1302.1,885.4 1306.8,884.8 1311.5,892.3 1316.2,892.8 1320.9,889.9 1325.6,880.6 1330.3,873.6 1335.0,861.7 1339.7,853.8 1344.4,845.7 1349.1,843.8 1353.8,837.8 1358.5,837.0 1363.2,835.7 1367.9,830.8 1372.6,823.7 1377.3,813.4 1382.0,808.9 1386.7,804.2 1391.4,802.0 1396.2,794.9 1400.9,787.2 1405.6,781.9 1410.3,780.2 1415.0,778.2 1419.7,775.0 1424.4,774.2 1429.1,773.1 1433.8,773.6 1438.5,775.1 1443.2,773.3 1447.9,772.4 1452.6,771.3 1457.3,774.3 1462.0,778.8 1466.7,782.5 1471.4,779.1 1476.1,776.5 1480.8,771.7 1485.5,771.5 1490.2,778.5 1495.0,787.8 1499.7,793.1 1504.4,797.7 1509.1,796.6 1513.8,798.7 1518.5,801.3 1523.2,801.7 1527.9,798.7 1532.6,795.9 1537.3,789.5 1542.0,784.7 1546.7,781.5 1551.4,776.2 1556.1,770.6 1560.8,765.9 1565.5,762.9 1570.2,757.3" fill="none" stroke="#3c3c3c" stroke-width="1.1" stroke-linejoin="round" />
<rect x="850.2" y="398" width="58.6" height="18" rx="3" fill="#0a32a0"/>
<text x="879.5" y="412.8" font-size="15" fill="#fff" text-anchor="middle" textLength="52.6" lengthAdjust="spacingAndGlyphs">3105.85</text>
<rect x="850.2" y="520.5" width="58.6" height="17.5" rx="3" fill="#2b2b2b"/>
<text x="879.5" y="534.8" font-size="15" fill="#fff" text-anchor="middle" textLength="52.6" lengthAdjust="spacingAndGlyphs">2961.71</text>
<rect x="850.2" y="813.5" width="58.6" height="18" rx="3" fill="#00e000"/>
<text x="879.5" y="828.3" font-size="15" fill="#000" text-anchor="middle" textLength="52.6" lengthAdjust="spacingAndGlyphs">4.90387</text>
<rect x="1813.5" y="290.5" width="58.5" height="17.5" rx="3" fill="#2b2b2b"/>
<text x="1842.75" y="304.8" font-size="15" fill="#fff" text-anchor="middle" textLength="52.5" lengthAdjust="spacingAndGlyphs">9022.39</text>
<rect x="1813.5" y="334" width="58.5" height="17.5" rx="3" fill="#379a0e"/>
<text x="1842.75" y="348.3" font-size="15" fill="#fff" text-anchor="middle" textLength="52.5" lengthAdjust="spacingAndGlyphs">8865.06</text>
<rect x="1813.5" y="427.5" width="58.5" height="17.5" rx="3" fill="#0a32a0"/>
<text x="1842.75" y="441.8" font-size="15" fill="#fff" text-anchor="middle" textLength="52.5" lengthAdjust="spacingAndGlyphs">8523.25</text>
<rect x="1813.5" y="547" width="58.5" height="17.5" rx="3" fill="#2b2b2b"/>
<text x="1842.75" y="561.3" font-size="15" fill="#fff" text-anchor="middle" textLength="52.5" lengthAdjust="spacingAndGlyphs">8091.83</text>
<rect x="1813.5" y="835" width="59" height="17.5" rx="3" fill="#00e000"/>
<text x="1843.0" y="849.3" font-size="15" fill="#000" text-anchor="middle" textLength="53" lengthAdjust="spacingAndGlyphs">19.9064</text>
<path d="M137.5 657.5L136 647.8L145 657.5" fill="#dedede" stroke="#9c9c9c" stroke-width="1"/>
<rect x="131.5" y="657.0" width="87.5" height="23.5" rx="4.5" fill="#dedede" stroke="#9c9c9c" stroke-width="1"/>
<path d="M138.4 657.8L144.2 657.8" stroke="#dedede" stroke-width="1.8"/>
<text x="175.25" y="676.3" font-size="15" fill="#1a1a1a" text-anchor="middle" textLength="75.0" lengthAdjust="spacingAndGlyphs">Lo: 2822.12</text>
<path d="M1100.2 684.5L1098.7 673.5L1107.7 684.5" fill="#dedede" stroke="#9c9c9c" stroke-width="1"/>
<rect x="1095.5" y="684.0" width="78" height="23.5" rx="4.5" fill="#dedede" stroke="#9c9c9c" stroke-width="1"/>
<path d="M1101.1000000000001 684.8L1106.9 684.8" stroke="#dedede" stroke-width="1.8"/>
<text x="1134.5" y="703.3" font-size="15" fill="#1a1a1a" text-anchor="middle" textLength="65.5" lengthAdjust="spacingAndGlyphs">Lo: 7662.9</text>
<path d="M609.4 285.7L606.4 294.8L614.4 285.7" fill="#dedede" stroke="#9c9c9c" stroke-width="1"/>
<rect x="602.5" y="262.7" width="85.6" height="23.5" rx="4.5" fill="#dedede" stroke="#9c9c9c" stroke-width="1"/>
<path d="M610.1999999999999 285.4L613.6 285.4" stroke="#dedede" stroke-width="1.8"/>
<text x="645.3" y="282.0" font-size="15" fill="#1a1a1a" text-anchor="middle" textLength="73.1" lengthAdjust="spacingAndGlyphs">Hi: 3240.08</text>
<path d="M1573.3 292L1570.3 300L1578.3 292" fill="#dedede" stroke="#9c9c9c" stroke-width="1"/>
<rect x="1565.5" y="268.5" width="86" height="24" rx="4.5" fill="#dedede" stroke="#9c9c9c" stroke-width="1"/>
<path d="M1574.1 291.7L1577.5 291.7" stroke="#dedede" stroke-width="1.8"/>
<text x="1608.5" y="288.3" font-size="15" fill="#1a1a1a" text-anchor="middle" textLength="73.5" lengthAdjust="spacingAndGlyphs">Hi: 9022.46</text>
<defs>
<clipPath id="cl1"><circle cx="607.9" cy="741.8" r="49.4"/></clipPath><clipPath id="cl1b"><circle cx="607.9" cy="741.8" r="44.6"/></clipPath>
<clipPath id="cl2"><circle cx="1570.6" cy="760.4" r="49.3"/></clipPath><clipPath id="cl2b"><circle cx="1570.6" cy="760.4" r="44.6"/></clipPath>
</defs>
<circle cx="607.9" cy="741.8" r="49.4" fill="#b5e61d"/>
<g clip-path="url(#cl1)">
<g class="c">
<rect x="568" y="721" width="80" height="1" fill="#c4c4c4" />
<rect x="602" y="697" width="12" height="1" fill="#c4c4c4" />
</g>
<g class="c" stroke="#000" stroke-width="1" stroke-dasharray="1 5">
<line x1="561" y1="747.5" x2="667.9" y2="747.5"/>
<line x1="561" y1="777.5" x2="667.9" y2="777.5"/>
<line x1="623.5" y1="726" x2="623.5" y2="801.8"/>
</g>
<g class="c">
<rect x="623" y="722" width="1" height="4" fill="#000" />
</g>
</g>
<g clip-path="url(#cl1b)">
<polyline points="555.5,775.2 560.2,775.6 564.9,770.1 569.6,766.6 574.3,759.2 579.0,754.1 583.7,751.4 588.4,746.8 593.1,740.5 597.8,736.0 602.5,733.7 607.2,729.2" fill="none" stroke="#e6ead8" stroke-width="3.0" stroke-linejoin="round" />
<polyline points="555.5,765.4 560.2,767.5 564.9,768.0 569.6,767.7 574.3,766.0 579.0,763.6 583.7,761.2 588.4,758.3 593.1,754.7 597.8,751.0 602.5,747.5 607.2,743.9" fill="none" stroke="#efe0d8" stroke-width="3.0" stroke-linejoin="round" />
<polyline points="555.5,765.4 560.2,767.5 564.9,768.0 569.6,767.7 574.3,766.0 579.0,763.6 583.7,761.2 588.4,758.3 593.1,754.7 597.8,751.0 602.5,747.5 607.2,743.9" fill="none" stroke="#c4283c" stroke-width="1.2" stroke-linejoin="round" />
<polyline points="555.5,775.2 560.2,775.6 564.9,770.1 569.6,766.6 574.3,759.2 579.0,754.1 583.7,751.4 588.4,746.8 593.1,740.5 597.8,736.0 602.5,733.7 607.2,729.2" fill="none" stroke="#44444c" stroke-width="1.2" stroke-linejoin="round" />
</g>
<circle cx="1570.6" cy="760.4" r="49.3" fill="#b5e61d"/>
<g clip-path="url(#cl2)">
<g class="c">
<rect x="1527" y="751" width="87" height="1" fill="#c4c4c4" />
<rect x="1549" y="720" width="43" height="1" fill="#c4c4c4" />
</g>
<g class="c" stroke="#000" stroke-width="1" stroke-dasharray="1 5">
<line x1="1518" y1="781.5" x2="1630.6" y2="781.5"/>
<line x1="1586.5" y1="756" x2="1586.5" y2="820.4"/>
</g>
<g class="c">
<rect x="1586" y="752" width="1" height="4" fill="#000" />
<rect x="1586" y="716" width="1" height="4" fill="#000" />
</g>
</g>
<g clip-path="url(#cl2b)">
<polyline points="1518.5,801.3 1523.2,801.7 1527.9,798.7 1532.6,795.9 1537.3,789.5 1542.0,784.7 1546.7,781.5 1551.4,776.2 1556.1,770.6 1560.8,765.9 1565.5,762.9 1570.2,757.3" fill="none" stroke="#e6ead8" stroke-width="3.0" stroke-linejoin="round" />
<polyline points="1518.5,791.8 1523.2,793.8 1527.9,794.8 1532.6,795.0 1537.3,793.9 1542.0,792.1 1546.7,790.0 1551.4,787.2 1556.1,783.9 1560.8,780.3 1565.5,776.8 1570.2,772.9" fill="none" stroke="#efe0d8" stroke-width="3.0" stroke-linejoin="round" />
<polyline points="1518.5,791.8 1523.2,793.8 1527.9,794.8 1532.6,795.0 1537.3,793.9 1542.0,792.1 1546.7,790.0 1551.4,787.2 1556.1,783.9 1560.8,780.3 1565.5,776.8 1570.2,772.9" fill="none" stroke="#c4283c" stroke-width="1.2" stroke-linejoin="round" />
<polyline points="1518.5,801.3 1523.2,801.7 1527.9,798.7 1532.6,795.9 1537.3,789.5 1542.0,784.7 1546.7,781.5 1551.4,776.2 1556.1,770.6 1560.8,765.9 1565.5,762.9 1570.2,757.3" fill="none" stroke="#44444c" stroke-width="1.2" stroke-linejoin="round" />
</g>
<g class="c">
<rect x="7" y="155" width="177" height="169" fill="#ffffff" />
<rect x="1434" y="65" width="378" height="66" fill="#ffffff" />
</g>
<g class="c">
<rect x="599" y="36" width="615" height="232" fill="#000000" />
<rect x="604" y="41" width="605" height="222" fill="#ffffff" />
</g>
<text x="607.3" y="65" class="sf" font-weight="bold" font-size="28.6" fill="#000" textLength="58.7" lengthAdjust="spacingAndGlyphs">SPX</text>
<text x="676" y="65" class="sf" font-weight="bold" font-size="28.6" fill="#000" textLength="43.3" lengthAdjust="spacingAndGlyphs">and</text>
<text x="728.3" y="65" class="sf" font-weight="bold" font-size="28.6" fill="#000" textLength="91.7" lengthAdjust="spacingAndGlyphs">Nasdaq</text>
<text x="828.3" y="65" class="sf" font-weight="bold" font-size="28.6" fill="#000" textLength="75.0" lengthAdjust="spacingAndGlyphs">closed</text>
<text x="912.7" y="65" class="sf" font-weight="bold" font-size="28.6" fill="#000" textLength="20.6" lengthAdjust="spacingAndGlyphs">in</text>
<text x="944" y="65" class="sf" font-weight="bold" font-size="28.6" fill="#000" textLength="12.7" lengthAdjust="spacingAndGlyphs">a</text>
<text x="965" y="65" class="sf" font-weight="bold" font-size="28.6" fill="#000" textLength="25.0" lengthAdjust="spacingAndGlyphs">11</text>
<text x="999.3" y="65" class="sf" font-weight="bold" font-size="28.6" fill="#000" textLength="43.4" lengthAdjust="spacingAndGlyphs">day</text>
<text x="1053.3" y="65" class="sf" font-weight="bold" font-size="28.6" fill="#000" textLength="150.0" lengthAdjust="spacingAndGlyphs">UPTREND</text>
<text x="607.3" y="96.8" class="sf" font-weight="bold" font-size="28.6" fill="#000" textLength="54.4" lengthAdjust="spacingAndGlyphs">with</text>
<text x="671.7" y="96.8" class="sf" font-weight="bold" font-size="28.6" fill="#000" textLength="125.0" lengthAdjust="spacingAndGlyphs">confirmed</text>
<text x="806" y="96.8" class="sf" font-weight="bold" font-size="28.6" fill="#000" textLength="97.3" lengthAdjust="spacingAndGlyphs">MACD.</text>
<text x="607.3" y="160.6" class="sf" font-weight="bold" font-size="28.6" fill="#000" textLength="64.4" lengthAdjust="spacingAndGlyphs">Dont</text>
<text x="680.7" y="160.6" class="sf" font-weight="bold" font-size="28.6" fill="#000" textLength="117.6" lengthAdjust="spacingAndGlyphs">overthink</text>
<text x="808.3" y="160.6" class="sf" font-weight="bold" font-size="28.6" fill="#000" textLength="80.0" lengthAdjust="spacingAndGlyphs">things,</text>
<text x="898.3" y="160.6" class="sf" font-weight="bold" font-size="28.6" fill="#000" textLength="25.0" lengthAdjust="spacingAndGlyphs">or</text>
<text x="932.7" y="160.6" class="sf" font-weight="bold" font-size="28.6" fill="#000" textLength="50.6" lengthAdjust="spacingAndGlyphs">pick</text>
<text x="992.7" y="160.6" class="sf" font-weight="bold" font-size="28.6" fill="#000" textLength="57.3" lengthAdjust="spacingAndGlyphs">tops.</text>
<text x="607.3" y="225" class="sf" font-weight="bold" font-size="28.6" fill="#000" textLength="52.7" lengthAdjust="spacingAndGlyphs">Stay</text>
<text x="670.7" y="225" class="sf" font-weight="bold" font-size="28.6" fill="#000" textLength="86.0" lengthAdjust="spacingAndGlyphs">LONG</text>
<text x="766.7" y="225" class="sf" font-weight="bold" font-size="28.6" fill="#000" textLength="25.0" lengthAdjust="spacingAndGlyphs">vs</text>
<text x="800" y="225" class="sf" font-weight="bold" font-size="28.6" fill="#000" textLength="118.3" lengthAdjust="spacingAndGlyphs">suggested</text>
<text x="928.3" y="225" class="sf" font-weight="bold" font-size="28.6" fill="#000" textLength="61.7" lengthAdjust="spacingAndGlyphs">stops</text>
<text x="1000" y="225" class="sf" font-weight="bold" font-size="28.6" fill="#000" textLength="29.3" lengthAdjust="spacingAndGlyphs">on</text>
<text x="1038.3" y="225" class="sf" font-weight="bold" font-size="28.6" fill="#000" textLength="41.0" lengthAdjust="spacingAndGlyphs">our</text>
<text x="1089" y="225" class="sf" font-weight="bold" font-size="28.6" fill="#000" textLength="66.7" lengthAdjust="spacingAndGlyphs">Daily</text>
<text x="607.3" y="256.8" class="sf" font-weight="bold" font-size="28.6" fill="#000" textLength="74.4" lengthAdjust="spacingAndGlyphs">Focus</text>
<text x="690" y="256.8" class="sf" font-weight="bold" font-size="28.6" fill="#000" textLength="55.0" lengthAdjust="spacingAndGlyphs">List.</text>
<g class="c">
<rect x="809" y="241" width="247" height="107" fill="#ffffff" />
<rect x="813" y="246" width="236" height="92" fill="#000000" />
<rect x="816" y="249" width="230" height="86" fill="#ffffff" />
<rect x="819" y="251" width="223" height="81" fill="#000000" />
<rect x="821" y="252" width="220" height="79" fill="#ffffff" />
</g>
<g fill="none" stroke-width="0.9">
<path d="M919.3 274.2L923.3 272.8V280.8L919.3 282.2Z M919.3 272.2V284.2" stroke="#4f8a3a"/>
<path d="M923.5999999999999 272.6L927.5999999999999 271.20000000000005V279.20000000000005L923.5999999999999 280.6Z M923.5999999999999 270.6V282.6" stroke="#4f8a3a"/>
<path d="M927.9 271L931.9 269.6V277.6L927.9 279Z M927.9 269V281.0" stroke="#4f8a3a"/>
<path d="M938.3 267.6L942.3 269V277L938.3 275.6Z M942.3 268V280" stroke="#c83a3a"/>
<path d="M942.5999999999999 269.20000000000005L946.5999999999999 270.6V278.6L942.5999999999999 277.20000000000005Z M946.5999999999999 269.6V281.6" stroke="#c83a3a"/>
<path d="M946.9 270.8L950.9 272.2V280.2L946.9 278.8Z M950.9 271.2V283.2" stroke="#c83a3a"/>
</g>
<text x="828" y="300" class="sf" font-weight="bold" font-size="14.2" fill="#1c1c1c" textLength="197" lengthAdjust="spacingAndGlyphs">Fitzstock Charts</text>
<rect x="868" y="303" width="118" height="1.6" fill="#111"/>
<text x="859.7" y="320.8" font-weight="bold" font-size="12.6" fill="#0a0a14" textLength="133.6" lengthAdjust="spacingAndGlyphs">www.fitzstock.com</text>
<defs>
<linearGradient id="bbg" x1="0" y1="0" x2="0" y2="1"><stop offset="0" stop-color="#040402"/><stop offset="0.2" stop-color="#0f0f0b"/><stop offset="0.4" stop-color="#36362d"/><stop offset="0.6" stop-color="#4e4e44"/><stop offset="0.78" stop-color="#2c2c25"/><stop offset="0.9" stop-color="#13130f"/><stop offset="1" stop-color="#1c1c17"/></linearGradient>
<radialGradient id="bgl" cx="0.5" cy="0.5" r="0.5"><stop offset="0" stop-color="#a0a092" stop-opacity="0.95"/><stop offset="0.5" stop-color="#88887a" stop-opacity="0.6"/><stop offset="1" stop-color="#55554a" stop-opacity="0"/></radialGradient>
<radialGradient id="bgr" cx="0.5" cy="0.5" r="0.5"><stop offset="0" stop-color="#5e5e52" stop-opacity="0.8"/><stop offset="0.6" stop-color="#4a4a40" stop-opacity="0.4"/><stop offset="1" stop-color="#3a3a32" stop-opacity="0"/></radialGradient>
<linearGradient id="bbody" x1="0" y1="0" x2="1" y2="0.6"><stop offset="0" stop-color="#121210"/><stop offset="0.35" stop-color="#2a2a28"/><stop offset="0.7" stop-color="#3b3b38"/><stop offset="1" stop-color="#1e1e1c"/></linearGradient>
<filter id="bl3" x="-30%" y="-30%" width="160%" height="160%"><feGaussianBlur stdDeviation="4"/></filter>
<filter id="bl2" x="-20%" y="-20%" width="140%" height="140%"><feGaussianBlur stdDeviation="2.2"/></filter>
<filter id="bl1" x="-20%" y="-20%" width="140%" height="140%"><feGaussianBlur stdDeviation="0.9"/></filter>
<filter id="bl0" x="-20%" y="-20%" width="140%" height="140%"><feGaussianBlur stdDeviation="0.45"/></filter>
<clipPath id="bclip"><rect x="0" y="0" width="156" height="146"/></clipPath>
<clipPath id="bullclip"><path d="M38.5 26 Q48 20 60 19.5 Q72 19 82 25 L88 28 Q93 34 89 42 L88.3 44 Q110 51 130 60 Q146 66 156 73 L156 145.5 L62 145.5 L57 128 Q46 122 38.5 103 Q33 90 34.5 78 Q35 70 42 60 Q40 45 38.5 26 Z"/></clipPath>
</defs>
<g class="c">
<rect x="12" y="164" width="164" height="154" fill="#000000" />
<rect x="15" y="166" width="159" height="150" fill="#ffffff" />
</g>
<g transform="translate(16 168)" clip-path="url(#bclip)">
<rect x="0" y="0" width="156" height="146" fill="url(#bbg)"/>
<ellipse cx="16" cy="80" rx="44" ry="46" fill="url(#bgl)"/>
<ellipse cx="122" cy="50" rx="56" ry="30" fill="url(#bgr)"/>
<rect x="0" y="118" width="156" height="16" fill="#080806" opacity="0.7" filter="url(#bl3)"/>
<rect x="30" y="136" width="126" height="10" fill="#3a3a32" opacity="0.55" filter="url(#bl2)"/>
<path d="M38.5 26 Q48 20 60 19.5 Q72 19 82 25 L88 28 Q93 34 89 42 L88.3 44 Q110 51 130 60 Q146 66 156 73 L156 145.5 L62 145.5 L57 128 Q46 122 38.5 103 Q33 90 34.5 78 Q35 70 42 60 Q40 45 38.5 26 Z" fill="url(#bbody)" filter="url(#bl0)"/>
<g clip-path="url(#bullclip)">
<path d="M34 62 L62 66 Q70 96 62 130 L40 126 Q30 96 34 62 Z" fill="#0b0b09" filter="url(#bl3)" opacity="0.95"/>
<path d="M86 44 Q100 50 112 58 Q108 80 96 96 Q86 80 84 60 Z" fill="#77776f" filter="url(#bl3)" opacity="0.55"/>
<path d="M90 45 Q112 52 132 61 Q146 67 156 74" fill="none" stroke="#7c7c74" stroke-width="3" filter="url(#bl1)" opacity="0.7"/>
<g fill="none" filter="url(#bl2)" stroke-linecap="round">
<path d="M84 70 Q94 92 82 120" stroke="#66665f" stroke-width="5" opacity="0.6"/>
<path d="M104 66 Q118 90 108 118" stroke="#6a6a62" stroke-width="6" opacity="0.55"/>
<path d="M128 70 Q144 90 142 118" stroke="#5e5e57" stroke-width="7" opacity="0.55"/>
<path d="M70 92 Q80 110 74 134" stroke="#5a5a54" stroke-width="5" opacity="0.55"/>
<path d="M148 80 L152 116" stroke="#55554e" stroke-width="4" opacity="0.5"/>
<path d="M96 100 Q108 112 104 128" stroke="#1a1a18" stroke-width="6" opacity="0.7"/>
<path d="M62 72 Q74 82 76 100" stroke="#1a1a18" stroke-width="5" opacity="0.6"/>
</g>
<path d="M108 122 L138 116 L138 146 L106 146 Z" fill="#050504" filter="url(#bl2)" opacity="0.95"/>
<path d="M146 122 L156 118 L156 146 L148 146 Z" fill="#060605" filter="url(#bl2)" opacity="0.9"/>
<path d="M60 128 L100 124 L104 146 L60 146 Z" fill="#141412" filter="url(#bl2)" opacity="0.8"/>
<path d="M38.5 26 Q48 20 60 19.5 Q72 19 82 25 L86 30 Q88 44 82 56 Q78 66 70 70 Q62 72 56 64 Q44 50 40 40 Z" fill="#3a3a38" filter="url(#bl1)"/>
<g filter="url(#bl1)">
<path d="M44 27 Q54 22 64 24 Q66 32 62 38 Q54 34 46 36 Z" fill="#7a7a74" opacity="0.6"/>
<path d="M44 38 Q50 36 54 40 Q56 48 52 52 Q46 48 44 38 Z" fill="#8c8c86" opacity="0.6"/>
<path d="M66 25 Q78 26 84 34 Q84 48 78 58 Q72 50 68 40 Z" fill="#5a5a56" opacity="0.7"/>
<path d="M54 52 Q62 54 66 62 Q62 66 58 62 Z" fill="#8a8a84" opacity="0.55"/>
<path d="M70 58 Q78 56 80 62 Q78 68 72 68 Z" fill="#80807a" opacity="0.6"/>
<ellipse cx="56" cy="44" rx="2.4" ry="2" fill="#050505"/>
<ellipse cx="63" cy="62" rx="3.2" ry="2.8" fill="#040404"/>
<ellipse cx="75" cy="63" rx="2.2" ry="2" fill="#040404"/>
<path d="M48 30 L52 46 M58 26 L60 40 M50 48 L58 58" stroke="#0a0a0a" stroke-width="1.6" fill="none" opacity="0.8"/>
<ellipse cx="88.5" cy="35" rx="3.4" ry="6" fill="#55554f"/>
</g>
</g>
<path d="M7.6 2.6 Q12 14 21 20 Q30 25 39 25 L39.5 30.5 Q28 31 19 25.5 Q9.5 19 7.6 2.6 Z" fill="#b9b9b2" filter="url(#bl0)"/>
<path d="M115.4 2.6 Q110 15 101 21 Q93 25.5 83 25.5 L83.5 31 Q94 31.5 103 26 Q113 19.5 115.4 2.6 Z" fill="#b4b4ac" filter="url(#bl0)"/>
<path d="M9 6 Q13.5 16.5 22.5 21.5 Q30 25 38 26" stroke="#f2f2ec" stroke-width="1.1" fill="none" opacity="0.85" filter="url(#bl0)"/>
<path d="M114 6 Q109 16.5 100.5 22 Q94 25.5 86 26.4" stroke="#e8e8e0" stroke-width="1" fill="none" opacity="0.7" filter="url(#bl0)"/>
<path d="M38 25 V31" stroke="#111" stroke-width="2.4" opacity="0.8"/>
</g>
<text x="91.6" y="305.7" class="sf" font-weight="bold" font-size="16" fill="#d6d6ce" text-anchor="middle" textLength="59.6" lengthAdjust="spacingAndGlyphs">Bullish</text>
<defs>
<linearGradient id="bo1" x1="0" y1="0" x2="0" y2="1"><stop offset="0" stop-color="#050200"/><stop offset="0.16" stop-color="#2a0e00"/><stop offset="0.36" stop-color="#8a3c06"/><stop offset="0.5" stop-color="#b85a0e"/><stop offset="0.66" stop-color="#9a4808"/><stop offset="0.82" stop-color="#5a2002"/><stop offset="0.9" stop-color="#3a1200"/><stop offset="1" stop-color="#0a0300"/></linearGradient>
<filter id="glow" x="-5%" y="-40%" width="110%" height="180%"><feGaussianBlur stdDeviation="1.3"/></filter>
<clipPath id="boclip"><rect x="0" y="0" width="356" height="43.6"/></clipPath>
</defs>
<g class="c">
<rect x="1440" y="71" width="363" height="50" fill="#000000" />
<rect x="1442" y="73" width="358" height="45" fill="#ffffff" />
</g>
<g transform="translate(1443 75) scale(1 0.9633)" clip-path="url(#boclip)">
<rect x="0" y="0" width="356" height="43.6" fill="url(#bo1)"/>
<g class="c">
<rect x="0" y="0" width="2" height="27.4" fill="#000" opacity="0.64"/>
<rect x="0" y="39.9" width="2" height="3.7" fill="#000" opacity="0.54"/>
<rect x="0" y="0" width="2" height="43.6" fill="#000" opacity="0.23"/>
<rect x="2" y="0" width="1" height="7.2" fill="#000" opacity="0.29"/>
<rect x="2" y="39.8" width="1" height="3.8" fill="#000" opacity="0.48"/>
<rect x="2" y="0" width="1" height="43.6" fill="#000" opacity="0.16"/>
<rect x="3" y="0" width="3" height="27.4" fill="#000" opacity="0.28"/>
<rect x="3" y="38.6" width="3" height="5.0" fill="#000" opacity="0.56"/>
<rect x="3" y="0" width="3" height="43.6" fill="#ffa030" opacity="0.13"/>
<rect x="6" y="0" width="3" height="6.1" fill="#000" opacity="0.59"/>
<rect x="6" y="34.5" width="3" height="9.1" fill="#000" opacity="0.31"/>
<rect x="6" y="0" width="3" height="43.6" fill="#000" opacity="0.12"/>
<rect x="9" y="0" width="1" height="14.2" fill="#000" opacity="0.55"/>
<rect x="9" y="35.8" width="1" height="7.8" fill="#000" opacity="0.68"/>
<rect x="10" y="0" width="2" height="9.4" fill="#000" opacity="0.67"/>
<rect x="10" y="38.4" width="2" height="5.2" fill="#000" opacity="0.57"/>
<rect x="12" y="0" width="2" height="4.6" fill="#000" opacity="0.32"/>
<rect x="12" y="36.8" width="2" height="6.8" fill="#000" opacity="0.67"/>
<rect x="12" y="0" width="2" height="43.6" fill="#ffa030" opacity="0.14"/>
<rect x="14" y="0" width="1" height="10.7" fill="#000" opacity="0.71"/>
<rect x="14" y="35.4" width="1" height="8.2" fill="#000" opacity="0.73"/>
<rect x="14" y="0" width="1" height="43.6" fill="#ffa030" opacity="0.17"/>
<rect x="15" y="0" width="3" height="16.8" fill="#000" opacity="0.29"/>
<rect x="15" y="39.8" width="3" height="3.8" fill="#000" opacity="0.40"/>
<rect x="15" y="0" width="3" height="43.6" fill="#000" opacity="0.28"/>
<rect x="18" y="0" width="2" height="20.3" fill="#000" opacity="0.42"/>
<rect x="18" y="37.1" width="2" height="6.5" fill="#000" opacity="0.62"/>
<rect x="18" y="0" width="2" height="43.6" fill="#ffa030" opacity="0.13"/>
<rect x="20" y="0" width="1" height="19.5" fill="#000" opacity="0.29"/>
<rect x="20" y="33.7" width="1" height="9.9" fill="#000" opacity="0.32"/>
<rect x="20" y="0" width="1" height="43.6" fill="#ffa030" opacity="0.12"/>
<rect x="21" y="0" width="2" height="7.1" fill="#000" opacity="0.49"/>
<rect x="21" y="38.1" width="2" height="5.5" fill="#000" opacity="0.33"/>
<rect x="23" y="0" width="2" height="28.3" fill="#000" opacity="0.82"/>
<rect x="23" y="39.2" width="2" height="4.4" fill="#000" opacity="0.35"/>
<rect x="23" y="0" width="2" height="43.6" fill="#ffa030" opacity="0.10"/>
<rect x="25" y="0" width="2" height="19.0" fill="#000" opacity="0.41"/>
<rect x="25" y="40.6" width="2" height="3.0" fill="#000" opacity="0.48"/>
<rect x="27" y="0" width="1" height="8.2" fill="#000" opacity="0.52"/>
<rect x="27" y="32.8" width="1" height="10.8" fill="#000" opacity="0.77"/>
<rect x="28" y="0" width="2" height="5.6" fill="#000" opacity="0.54"/>
<rect x="28" y="37.0" width="2" height="6.6" fill="#000" opacity="0.35"/>
<rect x="30" y="0" width="1" height="5.1" fill="#000" opacity="0.31"/>
<rect x="30" y="35.5" width="1" height="8.1" fill="#000" opacity="0.55"/>
<rect x="31" y="0" width="1" height="25.7" fill="#000" opacity="0.34"/>
<rect x="31" y="38.3" width="1" height="5.3" fill="#000" opacity="0.44"/>
<rect x="31" y="0" width="1" height="43.6" fill="#000" opacity="0.31"/>
<rect x="32" y="0" width="2" height="12.6" fill="#000" opacity="0.30"/>
<rect x="32" y="39.7" width="2" height="3.9" fill="#000" opacity="0.44"/>
<rect x="32" y="0" width="2" height="43.6" fill="#ffa030" opacity="0.19"/>
<rect x="34" y="0" width="1" height="13.3" fill="#000" opacity="0.82"/>
<rect x="34" y="35.8" width="1" height="7.8" fill="#000" opacity="0.33"/>
<rect x="34" y="0" width="1" height="43.6" fill="#000" opacity="0.23"/>
<rect x="35" y="0" width="1" height="16.5" fill="#000" opacity="0.56"/>
<rect x="35" y="32.4" width="1" height="11.2" fill="#000" opacity="0.45"/>
<rect x="35" y="0" width="1" height="43.6" fill="#ffa030" opacity="0.15"/>
<rect x="36" y="0" width="3" height="9.9" fill="#000" opacity="0.62"/>
<rect x="36" y="33.5" width="3" height="10.1" fill="#000" opacity="0.67"/>
<rect x="36" y="0" width="3" height="43.6" fill="#ffa030" opacity="0.10"/>
<rect x="39" y="0" width="2" height="17.3" fill="#000" opacity="0.37"/>
<rect x="39" y="36.2" width="2" height="7.4" fill="#000" opacity="0.65"/>
<rect x="41" y="0" width="2" height="8.7" fill="#000" opacity="0.52"/>
<rect x="41" y="32.2" width="2" height="11.4" fill="#000" opacity="0.79"/>
<rect x="43" y="0" width="1" height="7.6" fill="#000" opacity="0.37"/>
<rect x="43" y="38.8" width="1" height="4.8" fill="#000" opacity="0.59"/>
<rect x="44" y="0" width="2" height="20.4" fill="#000" opacity="0.73"/>
<rect x="44" y="39.8" width="2" height="3.8" fill="#000" opacity="0.61"/>
<rect x="46" y="0" width="1" height="12.6" fill="#000" opacity="0.51"/>
<rect x="46" y="34.9" width="1" height="8.7" fill="#000" opacity="0.30"/>
<rect x="47" y="0" width="2" height="5.6" fill="#000" opacity="0.68"/>
<rect x="47" y="39.1" width="2" height="4.5" fill="#000" opacity="0.32"/>
<rect x="47" y="0" width="2" height="43.6" fill="#ffa030" opacity="0.20"/>
<rect x="49" y="0" width="1" height="19.5" fill="#000" opacity="0.64"/>
<rect x="49" y="37.4" width="1" height="6.2" fill="#000" opacity="0.55"/>
<rect x="49" y="0" width="1" height="43.6" fill="#ffa030" opacity="0.06"/>
<rect x="50" y="0" width="1" height="13.5" fill="#000" opacity="0.51"/>
<rect x="50" y="32.8" width="1" height="10.8" fill="#000" opacity="0.70"/>
<rect x="50" y="0" width="1" height="43.6" fill="#ffa030" opacity="0.10"/>
<rect x="51" y="0" width="2" height="13.0" fill="#000" opacity="0.41"/>
<rect x="51" y="36.8" width="2" height="6.8" fill="#000" opacity="0.32"/>
<rect x="53" y="0" width="2" height="20.7" fill="#000" opacity="0.75"/>
<rect x="53" y="32.7" width="2" height="10.9" fill="#000" opacity="0.32"/>
<rect x="53" y="0" width="2" height="43.6" fill="#ffa030" opacity="0.14"/>
<rect x="55" y="0" width="2" height="9.0" fill="#000" opacity="0.72"/>
<rect x="55" y="39.3" width="2" height="4.3" fill="#000" opacity="0.33"/>
<rect x="55" y="0" width="2" height="43.6" fill="#000" opacity="0.12"/>
<rect x="57" y="0" width="3" height="17.6" fill="#000" opacity="0.72"/>
<rect x="57" y="39.6" width="3" height="4.0" fill="#000" opacity="0.56"/>
<rect x="57" y="0" width="3" height="43.6" fill="#ffa030" opacity="0.10"/>
<rect x="60" y="0" width="1" height="6.6" fill="#000" opacity="0.71"/>
<rect x="60" y="32.4" width="1" height="11.2" fill="#000" opacity="0.49"/>
<rect x="61" y="0" width="3" height="7.6" fill="#000" opacity="0.52"/>
<rect x="61" y="35.8" width="3" height="7.8" fill="#000" opacity="0.51"/>
<rect x="64" y="0" width="2" height="20.6" fill="#000" opacity="0.75"/>
<rect x="64" y="39.4" width="2" height="4.2" fill="#000" opacity="0.32"/>
<rect x="64" y="0" width="2" height="43.6" fill="#000" opacity="0.16"/>
<rect x="66" y="0" width="1" height="7.8" fill="#000" opacity="0.72"/>
<rect x="66" y="32.5" width="1" height="11.1" fill="#000" opacity="0.33"/>
<rect x="67" y="0" width="1" height="8.6" fill="#000" opacity="0.83"/>
<rect x="67" y="38.6" width="1" height="5.0" fill="#000" opacity="0.77"/>
<rect x="68" y="0" width="1" height="9.0" fill="#000" opacity="0.85"/>
<rect x="68" y="37.0" width="1" height="6.6" fill="#000" opacity="0.48"/>
<rect x="68" y="0" width="1" height="43.6" fill="#000" opacity="0.19"/>
<rect x="69" y="0" width="2" height="18.2" fill="#000" opacity="0.67"/>
<rect x="69" y="37.1" width="2" height="6.5" fill="#000" opacity="0.53"/>
<rect x="69" y="0" width="2" height="43.6" fill="#ffa030" opacity="0.21"/>
<rect x="71" y="0" width="1" height="21.7" fill="#000" opacity="0.83"/>
<rect x="71" y="39.7" width="1" height="3.9" fill="#000" opacity="0.40"/>
<rect x="71" y="0" width="1" height="43.6" fill="#ffa030" opacity="0.18"/>
<rect x="72" y="0" width="2" height="22.9" fill="#000" opacity="0.76"/>
<rect x="72" y="34.5" width="2" height="9.1" fill="#000" opacity="0.77"/>
<rect x="74" y="0" width="3" height="14.3" fill="#000" opacity="0.30"/>
<rect x="74" y="40.1" width="3" height="3.5" fill="#000" opacity="0.63"/>
<rect x="74" y="0" width="3" height="43.6" fill="#000" opacity="0.33"/>
<rect x="77" y="0" width="1" height="9.2" fill="#000" opacity="0.61"/>
<rect x="77" y="38.6" width="1" height="5.0" fill="#000" opacity="0.40"/>
<rect x="77" y="0" width="1" height="43.6" fill="#ffa030" opacity="0.06"/>
<rect x="78" y="0" width="3" height="11.5" fill="#000" opacity="0.62"/>
<rect x="78" y="40.2" width="3" height="3.4" fill="#000" opacity="0.64"/>
<rect x="81" y="0" width="2" height="4.9" fill="#000" opacity="0.81"/>
<rect x="81" y="34.9" width="2" height="8.7" fill="#000" opacity="0.54"/>
<rect x="81" y="0" width="2" height="43.6" fill="#ffa030" opacity="0.13"/>
<rect x="83" y="0" width="1" height="4.4" fill="#000" opacity="0.85"/>
<rect x="83" y="40.3" width="1" height="3.3" fill="#000" opacity="0.26"/>
<rect x="84" y="0" width="3" height="16.3" fill="#000" opacity="0.31"/>
<rect x="84" y="33.2" width="3" height="10.4" fill="#000" opacity="0.49"/>
<rect x="87" y="0" width="2" height="21.5" fill="#000" opacity="0.66"/>
<rect x="87" y="31.8" width="2" height="11.8" fill="#000" opacity="0.44"/>
<rect x="89" y="0" width="1" height="11.3" fill="#000" opacity="0.84"/>
<rect x="89" y="33.1" width="1" height="10.5" fill="#000" opacity="0.26"/>
<rect x="90" y="0" width="2" height="3.5" fill="#000" opacity="0.65"/>
<rect x="90" y="37.2" width="2" height="6.4" fill="#000" opacity="0.53"/>
<rect x="92" y="0" width="2" height="4.8" fill="#000" opacity="0.34"/>
<rect x="92" y="36.6" width="2" height="7.0" fill="#000" opacity="0.39"/>
<rect x="94" y="0" width="3" height="4.9" fill="#000" opacity="0.83"/>
<rect x="94" y="37.8" width="3" height="5.8" fill="#000" opacity="0.45"/>
<rect x="94" y="0" width="3" height="43.6" fill="#ffa030" opacity="0.12"/>
<rect x="97" y="0" width="2" height="9.0" fill="#000" opacity="0.40"/>
<rect x="97" y="33.6" width="2" height="10.0" fill="#000" opacity="0.30"/>
<rect x="97" y="0" width="2" height="43.6" fill="#000" opacity="0.25"/>
<rect x="99" y="0" width="2" height="4.4" fill="#000" opacity="0.63"/>
<rect x="99" y="39.8" width="2" height="3.8" fill="#000" opacity="0.78"/>
<rect x="99" y="0" width="2" height="43.6" fill="#000" opacity="0.32"/>
<rect x="101" y="0" width="3" height="11.0" fill="#000" opacity="0.68"/>
<rect x="101" y="36.2" width="3" height="7.4" fill="#000" opacity="0.41"/>
<rect x="101" y="0" width="3" height="43.6" fill="#000" opacity="0.31"/>
<rect x="104" y="0" width="3" height="15.3" fill="#000" opacity="0.80"/>
<rect x="104" y="33.8" width="3" height="9.8" fill="#000" opacity="0.56"/>
<rect x="104" y="0" width="3" height="43.6" fill="#000" opacity="0.27"/>
<rect x="107" y="0" width="1" height="2.8" fill="#000" opacity="0.33"/>
<rect x="107" y="37.4" width="1" height="6.2" fill="#000" opacity="0.31"/>
<rect x="108" y="0" width="1" height="15.3" fill="#000" opacity="0.54"/>
<rect x="108" y="40.6" width="1" height="3.0" fill="#000" opacity="0.69"/>
<rect x="109" y="0" width="3" height="2.8" fill="#000" opacity="0.70"/>
<rect x="109" y="36.3" width="3" height="7.3" fill="#000" opacity="0.70"/>
<rect x="109" y="0" width="3" height="43.6" fill="#000" opacity="0.29"/>
<rect x="112" y="0" width="1" height="22.5" fill="#000" opacity="0.55"/>
<rect x="112" y="37.2" width="1" height="6.4" fill="#000" opacity="0.51"/>
<rect x="113" y="0" width="3" height="15.4" fill="#000" opacity="0.30"/>
<rect x="113" y="39.3" width="3" height="4.3" fill="#000" opacity="0.39"/>
<rect x="116" y="0" width="3" height="8.3" fill="#000" opacity="0.29"/>
<rect x="116" y="38.2" width="3" height="5.4" fill="#000" opacity="0.62"/>
<rect x="119" y="0" width="2" height="16.8" fill="#000" opacity="0.53"/>
<rect x="119" y="36.4" width="2" height="7.2" fill="#000" opacity="0.32"/>
<rect x="119" y="0" width="2" height="43.6" fill="#000" opacity="0.34"/>
<rect x="121" y="0" width="2" height="5.6" fill="#000" opacity="0.30"/>
<rect x="121" y="36.0" width="2" height="7.6" fill="#000" opacity="0.80"/>
<rect x="123" y="0" width="1" height="2.7" fill="#000" opacity="0.34"/>
<rect x="123" y="35.9" width="1" height="7.7" fill="#000" opacity="0.77"/>
<rect x="123" y="0" width="1" height="43.6" fill="#ffa030" opacity="0.19"/>
<rect x="124" y="0" width="3" height="4.5" fill="#000" opacity="0.67"/>
<rect x="124" y="38.5" width="3" height="5.1" fill="#000" opacity="0.74"/>
<rect x="124" y="0" width="3" height="43.6" fill="#000" opacity="0.10"/>
<rect x="127" y="0" width="2" height="21.1" fill="#000" opacity="0.43"/>
<rect x="127" y="39.3" width="2" height="4.3" fill="#000" opacity="0.44"/>
<rect x="127" y="0" width="2" height="43.6" fill="#ffa030" opacity="0.19"/>
<rect x="129" y="0" width="1" height="9.8" fill="#000" opacity="0.75"/>
<rect x="129" y="39.5" width="1" height="4.1" fill="#000" opacity="0.76"/>
<rect x="130" y="0" width="2" height="4.3" fill="#000" opacity="0.49"/>
<rect x="130" y="31.6" width="2" height="12.0" fill="#000" opacity="0.57"/>
<rect x="132" y="0" width="2" height="19.4" fill="#000" opacity="0.31"/>
<rect x="132" y="33.1" width="2" height="10.5" fill="#000" opacity="0.41"/>
<rect x="132" y="0" width="2" height="43.6" fill="#000" opacity="0.17"/>
<rect x="134" y="0" width="3" height="9.7" fill="#000" opacity="0.72"/>
<rect x="134" y="36.8" width="3" height="6.8" fill="#000" opacity="0.27"/>
<rect x="137" y="0" width="3" height="6.9" fill="#000" opacity="0.28"/>
<rect x="137" y="34.0" width="3" height="9.6" fill="#000" opacity="0.50"/>
<rect x="140" y="0" width="2" height="12.7" fill="#000" opacity="0.35"/>
<rect x="140" y="36.9" width="2" height="6.7" fill="#000" opacity="0.40"/>
<rect x="140" y="0" width="2" height="43.6" fill="#ffa030" opacity="0.18"/>
<rect x="142" y="0" width="2" height="11.3" fill="#000" opacity="0.43"/>
<rect x="142" y="35.6" width="2" height="8.0" fill="#000" opacity="0.47"/>
<rect x="142" y="0" width="2" height="43.6" fill="#ffa030" opacity="0.09"/>
<rect x="144" y="0" width="1" height="16.9" fill="#000" opacity="0.58"/>
<rect x="144" y="36.5" width="1" height="7.1" fill="#000" opacity="0.43"/>
<rect x="145" y="0" width="3" height="3.7" fill="#000" opacity="0.35"/>
<rect x="145" y="35.6" width="3" height="8.0" fill="#000" opacity="0.43"/>
<rect x="148" y="0" width="1" height="26.0" fill="#000" opacity="0.48"/>
<rect x="148" y="33.9" width="1" height="9.7" fill="#000" opacity="0.37"/>
<rect x="148" y="0" width="1" height="43.6" fill="#ffa030" opacity="0.18"/>
<rect x="149" y="0" width="2" height="9.0" fill="#000" opacity="0.33"/>
<rect x="149" y="36.1" width="2" height="7.5" fill="#000" opacity="0.60"/>
<rect x="149" y="0" width="2" height="43.6" fill="#000" opacity="0.17"/>
<rect x="151" y="0" width="1" height="14.2" fill="#000" opacity="0.51"/>
<rect x="151" y="37.8" width="1" height="5.8" fill="#000" opacity="0.70"/>
<rect x="151" y="0" width="1" height="43.6" fill="#000" opacity="0.21"/>
<rect x="152" y="0" width="2" height="27.9" fill="#000" opacity="0.25"/>
<rect x="152" y="37.1" width="2" height="6.5" fill="#000" opacity="0.76"/>
<rect x="154" y="0" width="2" height="4.2" fill="#000" opacity="0.38"/>
<rect x="154" y="39.2" width="2" height="4.4" fill="#000" opacity="0.78"/>
<rect x="154" y="0" width="2" height="43.6" fill="#ffa030" opacity="0.19"/>
<rect x="156" y="0" width="2" height="2.8" fill="#000" opacity="0.25"/>
<rect x="156" y="39.5" width="2" height="4.1" fill="#000" opacity="0.56"/>
<rect x="156" y="0" width="2" height="43.6" fill="#ffa030" opacity="0.17"/>
<rect x="158" y="0" width="1" height="19.9" fill="#000" opacity="0.67"/>
<rect x="158" y="39.6" width="1" height="4.0" fill="#000" opacity="0.29"/>
<rect x="159" y="0" width="2" height="4.3" fill="#000" opacity="0.26"/>
<rect x="159" y="37.9" width="2" height="5.7" fill="#000" opacity="0.50"/>
<rect x="161" y="0" width="1" height="12.6" fill="#000" opacity="0.58"/>
<rect x="161" y="40.3" width="1" height="3.3" fill="#000" opacity="0.48"/>
<rect x="161" y="0" width="1" height="43.6" fill="#000" opacity="0.15"/>
<rect x="162" y="0" width="2" height="5.5" fill="#000" opacity="0.65"/>
<rect x="162" y="32.3" width="2" height="11.3" fill="#000" opacity="0.37"/>
<rect x="162" y="0" width="2" height="43.6" fill="#ffa030" opacity="0.11"/>
<rect x="164" y="0" width="2" height="13.7" fill="#000" opacity="0.37"/>
<rect x="164" y="33.4" width="2" height="10.2" fill="#000" opacity="0.66"/>
<rect x="164" y="0" width="2" height="43.6" fill="#000" opacity="0.34"/>
<rect x="166" y="0" width="2" height="17.8" fill="#000" opacity="0.39"/>
<rect x="166" y="38.6" width="2" height="5.0" fill="#000" opacity="0.67"/>
<rect x="166" y="0" width="2" height="43.6" fill="#ffa030" opacity="0.21"/>
<rect x="168" y="0" width="2" height="15.0" fill="#000" opacity="0.54"/>
<rect x="168" y="32.4" width="2" height="11.2" fill="#000" opacity="0.28"/>
<rect x="170" y="0" width="1" height="7.8" fill="#000" opacity="0.50"/>
<rect x="170" y="34.2" width="1" height="9.4" fill="#000" opacity="0.35"/>
<rect x="171" y="0" width="2" height="8.6" fill="#000" opacity="0.81"/>
<rect x="171" y="37.6" width="2" height="6.0" fill="#000" opacity="0.35"/>
<rect x="173" y="0" width="1" height="12.5" fill="#000" opacity="0.75"/>
<rect x="173" y="31.7" width="1" height="11.9" fill="#000" opacity="0.49"/>
<rect x="173" y="0" width="1" height="43.6" fill="#ffa030" opacity="0.07"/>
<rect x="174" y="0" width="1" height="5.2" fill="#000" opacity="0.59"/>
<rect x="174" y="33.8" width="1" height="9.8" fill="#000" opacity="0.46"/>
<rect x="175" y="0" width="2" height="7.3" fill="#000" opacity="0.37"/>
<rect x="175" y="35.7" width="2" height="7.9" fill="#000" opacity="0.50"/>
<rect x="175" y="0" width="2" height="43.6" fill="#ffa030" opacity="0.18"/>
<rect x="177" y="0" width="2" height="5.9" fill="#000" opacity="0.40"/>
<rect x="177" y="35.0" width="2" height="8.6" fill="#000" opacity="0.47"/>
<rect x="179" y="0" width="1" height="4.3" fill="#000" opacity="0.79"/>
<rect x="179" y="37.5" width="1" height="6.1" fill="#000" opacity="0.40"/>
<rect x="180" y="0" width="2" height="17.4" fill="#000" opacity="0.80"/>
<rect x="180" y="37.9" width="2" height="5.7" fill="#000" opacity="0.65"/>
<rect x="182" y="0" width="1" height="4.4" fill="#000" opacity="0.31"/>
<rect x="182" y="34.2" width="1" height="9.4" fill="#000" opacity="0.51"/>
<rect x="183" y="0" width="2" height="18.7" fill="#000" opacity="0.81"/>
<rect x="183" y="39.0" width="2" height="4.6" fill="#000" opacity="0.69"/>
<rect x="185" y="0" width="1" height="14.9" fill="#000" opacity="0.77"/>
<rect x="185" y="36.5" width="1" height="7.1" fill="#000" opacity="0.68"/>
<rect x="186" y="0" width="2" height="17.6" fill="#000" opacity="0.49"/>
<rect x="186" y="34.8" width="2" height="8.8" fill="#000" opacity="0.51"/>
<rect x="186" y="0" width="2" height="43.6" fill="#000" opacity="0.21"/>
<rect x="188" y="0" width="1" height="21.8" fill="#000" opacity="0.62"/>
<rect x="188" y="38.7" width="1" height="4.9" fill="#000" opacity="0.48"/>
<rect x="189" y="0" width="1" height="10.7" fill="#000" opacity="0.53"/>
<rect x="189" y="32.6" width="1" height="11.0" fill="#000" opacity="0.38"/>
<rect x="190" y="0" width="1" height="18.0" fill="#000" opacity="0.43"/>
<rect x="190" y="35.5" width="1" height="8.1" fill="#000" opacity="0.46"/>
<rect x="190" y="0" width="1" height="43.6" fill="#000" opacity="0.16"/>
<rect x="191" y="0" width="1" height="8.2" fill="#000" opacity="0.78"/>
<rect x="191" y="35.4" width="1" height="8.2" fill="#000" opacity="0.43"/>
<rect x="192" y="0" width="3" height="6.7" fill="#000" opacity="0.64"/>
<rect x="192" y="31.7" width="3" height="11.9" fill="#000" opacity="0.31"/>
<rect x="195" y="0" width="2" height="10.2" fill="#000" opacity="0.78"/>
<rect x="195" y="38.5" width="2" height="5.1" fill="#000" opacity="0.28"/>
<rect x="197" y="0" width="1" height="20.7" fill="#000" opacity="0.56"/>
<rect x="197" y="39.0" width="1" height="4.6" fill="#000" opacity="0.58"/>
<rect x="198" y="0" width="1" height="5.9" fill="#000" opacity="0.38"/>
<rect x="198" y="37.3" width="1" height="6.3" fill="#000" opacity="0.33"/>
<rect x="198" y="0" width="1" height="43.6" fill="#ffa030" opacity="0.10"/>
<rect x="199" y="0" width="3" height="17.2" fill="#000" opacity="0.74"/>
<rect x="199" y="33.2" width="3" height="10.4" fill="#000" opacity="0.47"/>
<rect x="202" y="0" width="1" height="10.0" fill="#000" opacity="0.58"/>
<rect x="202" y="40.0" width="1" height="3.6" fill="#000" opacity="0.31"/>
<rect x="203" y="0" width="3" height="5.6" fill="#000" opacity="0.49"/>
<rect x="203" y="38.2" width="3" height="5.4" fill="#000" opacity="0.79"/>
<rect x="206" y="0" width="1" height="9.6" fill="#000" opacity="0.50"/>
<rect x="206" y="40.4" width="1" height="3.2" fill="#000" opacity="0.67"/>
<rect x="207" y="0" width="2" height="17.1" fill="#000" opacity="0.82"/>
<rect x="207" y="36.7" width="2" height="6.9" fill="#000" opacity="0.34"/>
<rect x="207" y="0" width="2" height="43.6" fill="#ffa030" opacity="0.07"/>
<rect x="209" y="0" width="3" height="25.9" fill="#000" opacity="0.71"/>
<rect x="209" y="39.4" width="3" height="4.2" fill="#000" opacity="0.28"/>
<rect x="209" y="0" width="3" height="43.6" fill="#ffa030" opacity="0.19"/>
<rect x="212" y="0" width="2" height="5.6" fill="#000" opacity="0.69"/>
<rect x="212" y="39.1" width="2" height="4.5" fill="#000" opacity="0.44"/>
<rect x="212" y="0" width="2" height="43.6" fill="#ffa030" opacity="0.09"/>
<rect x="214" y="0" width="1" height="7.7" fill="#000" opacity="0.70"/>
<rect x="214" y="33.5" width="1" height="10.1" fill="#000" opacity="0.69"/>
<rect x="214" y="0" width="1" height="43.6" fill="#ffa030" opacity="0.19"/>
<rect x="215" y="0" width="1" height="28.0" fill="#000" opacity="0.44"/>
<rect x="215" y="35.1" width="1" height="8.5" fill="#000" opacity="0.60"/>
<rect x="215" y="0" width="1" height="43.6" fill="#ffa030" opacity="0.17"/>
<rect x="216" y="0" width="1" height="15.5" fill="#000" opacity="0.62"/>
<rect x="216" y="35.1" width="1" height="8.5" fill="#000" opacity="0.36"/>
<rect x="217" y="0" width="1" height="11.2" fill="#000" opacity="0.48"/>
<rect x="217" y="39.5" width="1" height="4.1" fill="#000" opacity="0.39"/>
<rect x="218" y="0" width="1" height="10.0" fill="#000" opacity="0.65"/>
<rect x="218" y="37.7" width="1" height="5.9" fill="#000" opacity="0.46"/>
<rect x="219" y="0" width="2" height="15.7" fill="#000" opacity="0.60"/>
<rect x="219" y="36.8" width="2" height="6.8" fill="#000" opacity="0.61"/>
<rect x="221" y="0" width="1" height="5.3" fill="#000" opacity="0.53"/>
<rect x="221" y="36.6" width="1" height="7.0" fill="#000" opacity="0.59"/>
<rect x="222" y="0" width="2" height="5.6" fill="#000" opacity="0.33"/>
<rect x="222" y="36.7" width="2" height="6.9" fill="#000" opacity="0.30"/>
<rect x="224" y="0" width="1" height="4.7" fill="#000" opacity="0.30"/>
<rect x="224" y="34.0" width="1" height="9.6" fill="#000" opacity="0.68"/>
<rect x="224" y="0" width="1" height="43.6" fill="#000" opacity="0.23"/>
<rect x="225" y="0" width="2" height="15.7" fill="#000" opacity="0.27"/>
<rect x="225" y="40.0" width="2" height="3.6" fill="#000" opacity="0.59"/>
<rect x="225" y="0" width="2" height="43.6" fill="#000" opacity="0.13"/>
<rect x="227" y="0" width="2" height="9.2" fill="#000" opacity="0.66"/>
<rect x="227" y="34.1" width="2" height="9.5" fill="#000" opacity="0.37"/>
<rect x="229" y="0" width="2" height="6.9" fill="#000" opacity="0.79"/>
<rect x="229" y="36.5" width="2" height="7.1" fill="#000" opacity="0.39"/>
<rect x="231" y="0" width="3" height="8.7" fill="#000" opacity="0.44"/>
<rect x="231" y="40.3" width="3" height="3.3" fill="#000" opacity="0.35"/>
<rect x="231" y="0" width="3" height="43.6" fill="#ffa030" opacity="0.21"/>
<rect x="234" y="0" width="2" height="20.1" fill="#000" opacity="0.73"/>
<rect x="234" y="38.2" width="2" height="5.4" fill="#000" opacity="0.67"/>
<rect x="234" y="0" width="2" height="43.6" fill="#ffa030" opacity="0.20"/>
<rect x="236" y="0" width="2" height="7.0" fill="#000" opacity="0.40"/>
<rect x="236" y="35.8" width="2" height="7.8" fill="#000" opacity="0.72"/>
<rect x="238" y="0" width="2" height="21.8" fill="#000" opacity="0.47"/>
<rect x="238" y="33.7" width="2" height="9.9" fill="#000" opacity="0.49"/>
<rect x="238" y="0" width="2" height="43.6" fill="#ffa030" opacity="0.18"/>
<rect x="240" y="0" width="1" height="9.3" fill="#000" opacity="0.44"/>
<rect x="240" y="31.9" width="1" height="11.7" fill="#000" opacity="0.73"/>
<rect x="241" y="0" width="1" height="17.4" fill="#000" opacity="0.34"/>
<rect x="241" y="35.1" width="1" height="8.5" fill="#000" opacity="0.49"/>
<rect x="242" y="0" width="1" height="6.4" fill="#000" opacity="0.26"/>
<rect x="242" y="40.6" width="1" height="3.0" fill="#000" opacity="0.45"/>
<rect x="242" y="0" width="1" height="43.6" fill="#ffa030" opacity="0.12"/>
<rect x="243" y="0" width="1" height="11.4" fill="#000" opacity="0.60"/>
<rect x="243" y="38.8" width="1" height="4.8" fill="#000" opacity="0.59"/>
<rect x="243" y="0" width="1" height="43.6" fill="#000" opacity="0.33"/>
<rect x="244" y="0" width="1" height="21.8" fill="#000" opacity="0.31"/>
<rect x="244" y="34.9" width="1" height="8.7" fill="#000" opacity="0.73"/>
<rect x="245" y="0" width="2" height="10.7" fill="#000" opacity="0.64"/>
<rect x="245" y="35.5" width="2" height="8.1" fill="#000" opacity="0.44"/>
<rect x="247" y="0" width="3" height="17.2" fill="#000" opacity="0.35"/>
<rect x="247" y="40.6" width="3" height="3.0" fill="#000" opacity="0.28"/>
<rect x="247" y="0" width="3" height="43.6" fill="#ffa030" opacity="0.09"/>
<rect x="250" y="0" width="1" height="2.5" fill="#000" opacity="0.26"/>
<rect x="250" y="35.6" width="1" height="8.0" fill="#000" opacity="0.77"/>
<rect x="250" y="0" width="1" height="43.6" fill="#ffa030" opacity="0.09"/>
<rect x="251" y="0" width="3" height="20.2" fill="#000" opacity="0.74"/>
<rect x="251" y="39.0" width="3" height="4.6" fill="#000" opacity="0.42"/>
<rect x="251" y="0" width="3" height="43.6" fill="#ffa030" opacity="0.07"/>
<rect x="254" y="0" width="2" height="8.4" fill="#000" opacity="0.48"/>
<rect x="254" y="36.7" width="2" height="6.9" fill="#000" opacity="0.75"/>
<rect x="254" y="0" width="2" height="43.6" fill="#ffa030" opacity="0.16"/>
<rect x="256" y="0" width="1" height="4.0" fill="#000" opacity="0.41"/>
<rect x="256" y="34.8" width="1" height="8.8" fill="#000" opacity="0.32"/>
<rect x="257" y="0" width="2" height="16.8" fill="#000" opacity="0.63"/>
<rect x="257" y="34.5" width="2" height="9.1" fill="#000" opacity="0.63"/>
<rect x="259" y="0" width="2" height="15.6" fill="#000" opacity="0.30"/>
<rect x="259" y="36.0" width="2" height="7.6" fill="#000" opacity="0.34"/>
<rect x="261" y="0" width="1" height="21.0" fill="#000" opacity="0.37"/>
<rect x="261" y="37.1" width="1" height="6.5" fill="#000" opacity="0.58"/>
<rect x="262" y="0" width="3" height="6.2" fill="#000" opacity="0.76"/>
<rect x="262" y="36.7" width="3" height="6.9" fill="#000" opacity="0.65"/>
<rect x="265" y="0" width="1" height="5.5" fill="#000" opacity="0.59"/>
<rect x="265" y="39.1" width="1" height="4.5" fill="#000" opacity="0.27"/>
<rect x="265" y="0" width="1" height="43.6" fill="#ffa030" opacity="0.16"/>
<rect x="266" y="0" width="1" height="10.2" fill="#000" opacity="0.67"/>
<rect x="266" y="40.3" width="1" height="3.3" fill="#000" opacity="0.33"/>
<rect x="266" y="0" width="1" height="43.6" fill="#000" opacity="0.12"/>
<rect x="267" y="0" width="1" height="5.2" fill="#000" opacity="0.37"/>
<rect x="267" y="32.0" width="1" height="11.6" fill="#000" opacity="0.54"/>
<rect x="268" y="0" width="2" height="5.9" fill="#000" opacity="0.37"/>
<rect x="268" y="40.3" width="2" height="3.3" fill="#000" opacity="0.77"/>
<rect x="270" y="0" width="1" height="18.9" fill="#000" opacity="0.54"/>
<rect x="270" y="39.4" width="1" height="4.2" fill="#000" opacity="0.69"/>
<rect x="270" y="0" width="1" height="43.6" fill="#000" opacity="0.18"/>
<rect x="271" y="0" width="2" height="4.4" fill="#000" opacity="0.81"/>
<rect x="271" y="40.2" width="2" height="3.4" fill="#000" opacity="0.67"/>
<rect x="273" y="0" width="3" height="13.1" fill="#000" opacity="0.62"/>
<rect x="273" y="40.3" width="3" height="3.3" fill="#000" opacity="0.48"/>
<rect x="276" y="0" width="2" height="6.2" fill="#000" opacity="0.57"/>
<rect x="276" y="38.7" width="2" height="4.9" fill="#000" opacity="0.72"/>
<rect x="276" y="0" width="2" height="43.6" fill="#ffa030" opacity="0.19"/>
<rect x="278" y="0" width="1" height="11.8" fill="#000" opacity="0.42"/>
<rect x="278" y="33.8" width="1" height="9.8" fill="#000" opacity="0.28"/>
<rect x="278" y="0" width="1" height="43.6" fill="#ffa030" opacity="0.08"/>
<rect x="279" y="0" width="1" height="21.4" fill="#000" opacity="0.82"/>
<rect x="279" y="36.0" width="1" height="7.6" fill="#000" opacity="0.57"/>
<rect x="279" y="0" width="1" height="43.6" fill="#ffa030" opacity="0.19"/>
<rect x="280" y="0" width="1" height="6.5" fill="#000" opacity="0.81"/>
<rect x="280" y="33.7" width="1" height="9.9" fill="#000" opacity="0.52"/>
<rect x="281" y="0" width="1" height="15.3" fill="#000" opacity="0.31"/>
<rect x="281" y="32.2" width="1" height="11.4" fill="#000" opacity="0.74"/>
<rect x="282" y="0" width="1" height="10.7" fill="#000" opacity="0.41"/>
<rect x="282" y="32.5" width="1" height="11.1" fill="#000" opacity="0.53"/>
<rect x="283" y="0" width="1" height="21.0" fill="#000" opacity="0.57"/>
<rect x="283" y="33.8" width="1" height="9.8" fill="#000" opacity="0.66"/>
<rect x="284" y="0" width="2" height="17.4" fill="#000" opacity="0.65"/>
<rect x="284" y="33.9" width="2" height="9.7" fill="#000" opacity="0.34"/>
<rect x="286" y="0" width="3" height="8.2" fill="#000" opacity="0.53"/>
<rect x="286" y="32.6" width="3" height="11.0" fill="#000" opacity="0.38"/>
<rect x="286" y="0" width="3" height="43.6" fill="#ffa030" opacity="0.11"/>
<rect x="289" y="0" width="3" height="6.8" fill="#000" opacity="0.83"/>
<rect x="289" y="34.1" width="3" height="9.5" fill="#000" opacity="0.58"/>
<rect x="289" y="0" width="3" height="43.6" fill="#ffa030" opacity="0.10"/>
<rect x="292" y="0" width="1" height="4.3" fill="#000" opacity="0.35"/>
<rect x="292" y="34.7" width="1" height="8.9" fill="#000" opacity="0.36"/>
<rect x="292" y="0" width="1" height="43.6" fill="#ffa030" opacity="0.08"/>
<rect x="293" y="0" width="2" height="22.4" fill="#000" opacity="0.41"/>
<rect x="293" y="39.6" width="2" height="4.0" fill="#000" opacity="0.75"/>
<rect x="293" y="0" width="2" height="43.6" fill="#ffa030" opacity="0.20"/>
<rect x="295" y="0" width="2" height="6.0" fill="#000" opacity="0.76"/>
<rect x="295" y="36.7" width="2" height="6.9" fill="#000" opacity="0.37"/>
<rect x="295" y="0" width="2" height="43.6" fill="#000" opacity="0.11"/>
<rect x="297" y="0" width="2" height="19.3" fill="#000" opacity="0.25"/>
<rect x="297" y="38.4" width="2" height="5.2" fill="#000" opacity="0.72"/>
<rect x="299" y="0" width="2" height="19.2" fill="#000" opacity="0.66"/>
<rect x="299" y="34.8" width="2" height="8.8" fill="#000" opacity="0.50"/>
<rect x="299" y="0" width="2" height="43.6" fill="#ffa030" opacity="0.16"/>
<rect x="301" y="0" width="1" height="20.1" fill="#000" opacity="0.72"/>
<rect x="301" y="34.2" width="1" height="9.4" fill="#000" opacity="0.60"/>
<rect x="301" y="0" width="1" height="43.6" fill="#ffa030" opacity="0.13"/>
<rect x="302" y="0" width="2" height="5.7" fill="#000" opacity="0.56"/>
<rect x="302" y="34.7" width="2" height="8.9" fill="#000" opacity="0.73"/>
<rect x="304" y="0" width="1" height="14.3" fill="#000" opacity="0.79"/>
<rect x="304" y="39.6" width="1" height="4.0" fill="#000" opacity="0.39"/>
<rect x="304" y="0" width="1" height="43.6" fill="#ffa030" opacity="0.17"/>
<rect x="305" y="0" width="1" height="6.7" fill="#000" opacity="0.76"/>
<rect x="305" y="36.5" width="1" height="7.1" fill="#000" opacity="0.36"/>
<rect x="305" y="0" width="1" height="43.6" fill="#000" opacity="0.30"/>
<rect x="306" y="0" width="2" height="17.4" fill="#000" opacity="0.70"/>
<rect x="306" y="36.5" width="2" height="7.1" fill="#000" opacity="0.79"/>
<rect x="306" y="0" width="2" height="43.6" fill="#ffa030" opacity="0.14"/>
<rect x="308" y="0" width="1" height="17.1" fill="#000" opacity="0.63"/>
<rect x="308" y="38.3" width="1" height="5.3" fill="#000" opacity="0.46"/>
<rect x="308" y="0" width="1" height="43.6" fill="#ffa030" opacity="0.07"/>
<rect x="309" y="0" width="2" height="15.3" fill="#000" opacity="0.60"/>
<rect x="309" y="39.6" width="2" height="4.0" fill="#000" opacity="0.42"/>
<rect x="311" y="0" width="1" height="28.5" fill="#000" opacity="0.53"/>
<rect x="311" y="39.1" width="1" height="4.5" fill="#000" opacity="0.76"/>
<rect x="311" y="0" width="1" height="43.6" fill="#ffa030" opacity="0.19"/>
<rect x="312" y="0" width="1" height="12.4" fill="#000" opacity="0.74"/>
<rect x="312" y="39.3" width="1" height="4.3" fill="#000" opacity="0.62"/>
<rect x="313" y="0" width="2" height="12.4" fill="#000" opacity="0.71"/>
<rect x="313" y="34.8" width="2" height="8.8" fill="#000" opacity="0.68"/>
<rect x="315" y="0" width="1" height="11.5" fill="#000" opacity="0.66"/>
<rect x="315" y="31.8" width="1" height="11.8" fill="#000" opacity="0.62"/>
<rect x="316" y="0" width="2" height="10.4" fill="#000" opacity="0.44"/>
<rect x="316" y="36.2" width="2" height="7.4" fill="#000" opacity="0.59"/>
<rect x="316" y="0" width="2" height="43.6" fill="#ffa030" opacity="0.20"/>
<rect x="318" y="0" width="1" height="26.9" fill="#000" opacity="0.28"/>
<rect x="318" y="33.1" width="1" height="10.5" fill="#000" opacity="0.75"/>
<rect x="318" y="0" width="1" height="43.6" fill="#000" opacity="0.31"/>
<rect x="319" y="0" width="3" height="2.1" fill="#000" opacity="0.38"/>
<rect x="319" y="40.0" width="3" height="3.6" fill="#000" opacity="0.41"/>
<rect x="322" y="0" width="1" height="9.5" fill="#000" opacity="0.46"/>
<rect x="322" y="39.2" width="1" height="4.4" fill="#000" opacity="0.75"/>
<rect x="322" y="0" width="1" height="43.6" fill="#000" opacity="0.32"/>
<rect x="323" y="0" width="3" height="10.8" fill="#000" opacity="0.65"/>
<rect x="323" y="32.6" width="3" height="11.0" fill="#000" opacity="0.68"/>
<rect x="323" y="0" width="3" height="43.6" fill="#000" opacity="0.27"/>
<rect x="326" y="0" width="3" height="7.0" fill="#000" opacity="0.65"/>
<rect x="326" y="39.5" width="3" height="4.1" fill="#000" opacity="0.32"/>
<rect x="329" y="0" width="2" height="6.4" fill="#000" opacity="0.54"/>
<rect x="329" y="32.5" width="2" height="11.1" fill="#000" opacity="0.64"/>
<rect x="329" y="0" width="2" height="43.6" fill="#ffa030" opacity="0.09"/>
<rect x="331" y="0" width="3" height="9.8" fill="#000" opacity="0.35"/>
<rect x="331" y="37.7" width="3" height="5.9" fill="#000" opacity="0.63"/>
<rect x="331" y="0" width="3" height="43.6" fill="#000" opacity="0.22"/>
<rect x="334" y="0" width="2" height="5.8" fill="#000" opacity="0.36"/>
<rect x="334" y="37.4" width="2" height="6.2" fill="#000" opacity="0.61"/>
<rect x="334" y="0" width="2" height="43.6" fill="#ffa030" opacity="0.07"/>
<rect x="336" y="0" width="2" height="9.3" fill="#000" opacity="0.56"/>
<rect x="336" y="36.2" width="2" height="7.4" fill="#000" opacity="0.74"/>
<rect x="336" y="0" width="2" height="43.6" fill="#ffa030" opacity="0.17"/>
<rect x="338" y="0" width="1" height="10.1" fill="#000" opacity="0.45"/>
<rect x="338" y="33.6" width="1" height="10.0" fill="#000" opacity="0.55"/>
<rect x="338" y="0" width="1" height="43.6" fill="#000" opacity="0.19"/>
<rect x="339" y="0" width="2" height="14.0" fill="#000" opacity="0.43"/>
<rect x="339" y="33.2" width="2" height="10.4" fill="#000" opacity="0.47"/>
<rect x="339" y="0" width="2" height="43.6" fill="#000" opacity="0.23"/>
<rect x="341" y="0" width="1" height="7.9" fill="#000" opacity="0.45"/>
<rect x="341" y="37.7" width="1" height="5.9" fill="#000" opacity="0.41"/>
<rect x="342" y="0" width="1" height="14.5" fill="#000" opacity="0.58"/>
<rect x="342" y="40.2" width="1" height="3.4" fill="#000" opacity="0.42"/>
<rect x="342" y="0" width="1" height="43.6" fill="#ffa030" opacity="0.09"/>
<rect x="343" y="0" width="2" height="7.5" fill="#000" opacity="0.72"/>
<rect x="343" y="32.4" width="2" height="11.2" fill="#000" opacity="0.59"/>
<rect x="345" y="0" width="3" height="9.9" fill="#000" opacity="0.38"/>
<rect x="345" y="34.6" width="3" height="9.0" fill="#000" opacity="0.50"/>
<rect x="345" y="0" width="3" height="43.6" fill="#000" opacity="0.15"/>
<rect x="348" y="0" width="1" height="5.8" fill="#000" opacity="0.80"/>
<rect x="348" y="34.7" width="1" height="8.9" fill="#000" opacity="0.45"/>
<rect x="349" y="0" width="3" height="16.8" fill="#000" opacity="0.36"/>
<rect x="349" y="40.3" width="3" height="3.3" fill="#000" opacity="0.26"/>
<rect x="352" y="0" width="1" height="6.5" fill="#000" opacity="0.74"/>
<rect x="352" y="33.6" width="1" height="10.0" fill="#000" opacity="0.48"/>
<rect x="353" y="0" width="1" height="5.5" fill="#000" opacity="0.61"/>
<rect x="353" y="31.7" width="1" height="11.9" fill="#000" opacity="0.61"/>
<rect x="353" y="0" width="1" height="43.6" fill="#ffa030" opacity="0.18"/>
<rect x="354" y="0" width="3" height="7.6" fill="#000" opacity="0.38"/>
<rect x="354" y="39.2" width="3" height="4.4" fill="#000" opacity="0.26"/>
<rect x="354" y="0" width="3" height="43.6" fill="#ffa030" opacity="0.17"/>
<rect x="0" y="0" width="10" height="16" fill="#000" opacity="0.55"/>
<rect x="38" y="0" width="14" height="12" fill="#000" opacity="0.55"/>
<rect x="150" y="0" width="26" height="14" fill="#000" opacity="0.55"/>
<rect x="164" y="0" width="16" height="20" fill="#000" opacity="0.55"/>
<rect x="176" y="0" width="22" height="16" fill="#000" opacity="0.55"/>
<rect x="240" y="0" width="30" height="12" fill="#000" opacity="0.55"/>
<rect x="318" y="0" width="12" height="14" fill="#000" opacity="0.55"/>
<rect x="86" y="0" width="12" height="10" fill="#000" opacity="0.55"/>
<rect x="284" y="0" width="10" height="12" fill="#000" opacity="0.55"/>
<rect x="0" y="35.2" width="356" height="8.4" fill="#000" opacity="0.45"/>
</g>
<rect x="8" y="18.9" width="28" height="13.700000000000003" fill="#f0a848" opacity="0.55"/>
<rect x="50" y="18.9" width="27" height="7.850000000000001" fill="#f0a848" opacity="0.55"/>
<rect x="91" y="18.9" width="29" height="13.700000000000003" fill="#f0a848" opacity="0.5"/>
<text x="4" y="35" font-size="24" font-weight="bold" fill="#ffb040" stroke="#ffb040" stroke-width="3" stroke-linejoin="round" filter="url(#glow)" opacity="0.95" textLength="352" lengthAdjust="spacingAndGlyphs">BREAK OUT</text>
<text x="4" y="35" font-size="24" font-weight="bold" fill="#080400" stroke="#ffd890" stroke-width="1.1" stroke-linejoin="round" paint-order="stroke" textLength="352" lengthAdjust="spacingAndGlyphs">BREAK OUT</text>
</g>
</svg>
</body></html>
